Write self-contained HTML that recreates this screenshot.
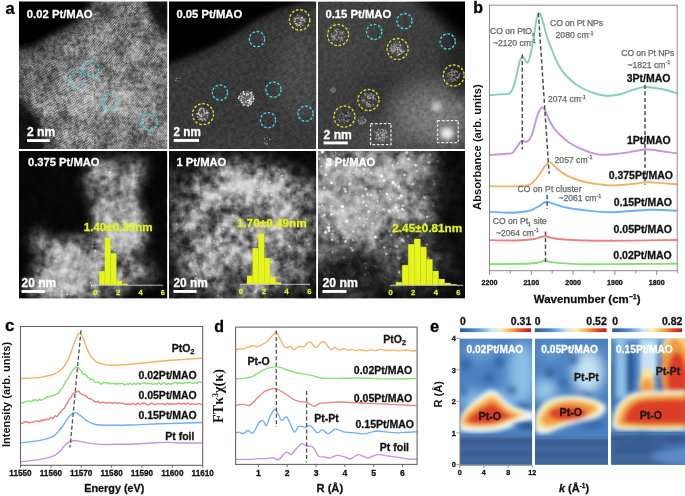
<!DOCTYPE html>
<html><head><meta charset="utf-8"><style>
html,body{margin:0;padding:0;background:#fff;}
svg{display:block;font-family:"Liberation Sans",sans-serif;will-change:transform;}
</style></head><body>
<svg width="685" height="496" viewBox="0 0 685 496">
<defs>
<clipPath id="c0"><rect x="19.0" y="1.5" width="148.3" height="147.5"/></clipPath>
<clipPath id="c1"><rect x="169.0" y="1.5" width="147.2" height="147.5"/></clipPath>
<clipPath id="c2"><rect x="318.0" y="1.5" width="147.0" height="147.5"/></clipPath>
<clipPath id="c3"><rect x="19.0" y="151.0" width="148.3" height="147.5"/></clipPath>
<clipPath id="c4"><rect x="169.0" y="151.0" width="147.2" height="147.5"/></clipPath>
<clipPath id="c5"><rect x="318.0" y="151.0" width="147.0" height="147.5"/></clipPath>
<filter id="bl1" x="-50%" y="-50%" width="200%" height="200%"><feGaussianBlur stdDeviation="1"/></filter>
<filter id="bl2" x="-50%" y="-50%" width="200%" height="200%"><feGaussianBlur stdDeviation="2"/></filter>
<filter id="bl3" x="-50%" y="-50%" width="200%" height="200%"><feGaussianBlur stdDeviation="3"/></filter>
<filter id="bl4" x="-50%" y="-50%" width="200%" height="200%"><feGaussianBlur stdDeviation="4"/></filter>
<filter id="bl6" x="-50%" y="-50%" width="200%" height="200%"><feGaussianBlur stdDeviation="6"/></filter>
<filter id="bl8" x="-50%" y="-50%" width="200%" height="200%"><feGaussianBlur stdDeviation="8"/></filter>
<filter id="bl10" x="-50%" y="-50%" width="200%" height="200%"><feGaussianBlur stdDeviation="10"/></filter>
<filter id="bl14" x="-50%" y="-50%" width="200%" height="200%"><feGaussianBlur stdDeviation="14"/></filter>
<filter id="bl0" x="-50%" y="-50%" width="200%" height="200%"><feGaussianBlur stdDeviation="0.6"/></filter>
<filter id="tcl" x="0" y="0" width="100%" height="100%" color-interpolation-filters="sRGB"><feTurbulence type="fractalNoise" baseFrequency="0.04" numOctaves="3" seed="7"/><feColorMatrix type="matrix" values="1.80 0 0 0 -0.400  1.80 0 0 0 -0.400  1.80 0 0 0 -0.400  0 0 0 0 1"/></filter>
<filter id="tcl2" x="0" y="0" width="100%" height="100%" color-interpolation-filters="sRGB"><feTurbulence type="fractalNoise" baseFrequency="0.045" numOctaves="3" seed="11"/><feColorMatrix type="matrix" values="1.80 0 0 0 -0.400  1.80 0 0 0 -0.400  1.80 0 0 0 -0.400  0 0 0 0 1"/></filter>
<filter id="tcl3" x="0" y="0" width="100%" height="100%" color-interpolation-filters="sRGB"><feTurbulence type="fractalNoise" baseFrequency="0.045" numOctaves="3" seed="23"/><feColorMatrix type="matrix" values="1.60 0 0 0 -0.300  1.60 0 0 0 -0.300  1.60 0 0 0 -0.300  0 0 0 0 1"/></filter>
<filter id="tgr" x="0" y="0" width="100%" height="100%" color-interpolation-filters="sRGB"><feTurbulence type="fractalNoise" baseFrequency="0.9" numOctaves="1" seed="5"/><feColorMatrix type="matrix" values="2.00 0 0 0 -0.500  2.00 0 0 0 -0.500  2.00 0 0 0 -0.500  0 0 0 0 1"/></filter>
<filter id="tmd" x="0" y="0" width="100%" height="100%" color-interpolation-filters="sRGB"><feTurbulence type="fractalNoise" baseFrequency="0.25" numOctaves="2" seed="9"/><feColorMatrix type="matrix" values="2.00 0 0 0 -0.500  2.00 0 0 0 -0.500  2.00 0 0 0 -0.500  0 0 0 0 1"/></filter>
<filter id="tcl4" x="0" y="0" width="100%" height="100%" color-interpolation-filters="sRGB"><feTurbulence type="fractalNoise" baseFrequency="0.07" numOctaves="3" seed="31"/><feColorMatrix type="matrix" values="1.80 0 0 0 -0.400  1.80 0 0 0 -0.400  1.80 0 0 0 -0.400  0 0 0 0 1"/></filter>
<filter id="tcm" x="0" y="0" width="100%" height="100%" color-interpolation-filters="sRGB"><feTurbulence type="fractalNoise" baseFrequency="0.13" numOctaves="3" seed="41"/><feColorMatrix type="matrix" values="1.80 0 0 0 -0.400  1.80 0 0 0 -0.400  1.80 0 0 0 -0.400  0 0 0 0 1"/></filter>
<filter id="tcm2" x="0" y="0" width="100%" height="100%" color-interpolation-filters="sRGB"><feTurbulence type="fractalNoise" baseFrequency="0.13" numOctaves="3" seed="43"/><feColorMatrix type="matrix" values="1.80 0 0 0 -0.400  1.80 0 0 0 -0.400  1.80 0 0 0 -0.400  0 0 0 0 1"/></filter>
<filter id="tcm3" x="0" y="0" width="100%" height="100%" color-interpolation-filters="sRGB"><feTurbulence type="fractalNoise" baseFrequency="0.13" numOctaves="3" seed="47"/><feColorMatrix type="matrix" values="1.80 0 0 0 -0.400  1.80 0 0 0 -0.400  1.80 0 0 0 -0.400  0 0 0 0 1"/></filter>
<pattern id="lat1" width="2.0" height="1.9" patternUnits="userSpaceOnUse" patternTransform="rotate(-52)"><rect width="2.0" height="1.9" fill="#808080"/><rect y="0" width="2.0" height="0.8" fill="#d8d8d8"/></pattern>
<pattern id="lat2" width="2.3" height="2.3" patternUnits="userSpaceOnUse" patternTransform="rotate(-30)"><rect width="2.3" height="2.3" fill="#808080"/><rect x="0" y="0" width="2.3" height="0.9" fill="#e0e0e0"/></pattern>
<pattern id="lat3" width="2.0" height="2.0" patternUnits="userSpaceOnUse" patternTransform="rotate(60)"><rect width="2" height="2" fill="#808080"/><rect x="0" y="0" width="2" height="0.8" fill="#e8e8e8"/></pattern>
<pattern id="lat4" width="1.9" height="1.9" patternUnits="userSpaceOnUse" patternTransform="rotate(-48)"><rect width="1.9" height="1.9" fill="#808080"/><rect x="0" y="0" width="1.9" height="0.75" fill="#dcdcdc"/></pattern>
<pattern id="str2" width="3.2" height="3.2" patternUnits="userSpaceOnUse" patternTransform="rotate(-27)"><rect width="3.2" height="3.2" fill="#808080"/><rect x="0" y="0" width="3.2" height="1.1" fill="#9a9a9a"/></pattern>
<linearGradient id="cb" x1="0" x2="1" y1="0" y2="0"><stop offset="0" stop-color="#2f5597"/><stop offset="0.25" stop-color="#5b95cf"/><stop offset="0.45" stop-color="#cfe6f4"/><stop offset="0.58" stop-color="#f8eeb0"/><stop offset="0.72" stop-color="#f6b14c"/><stop offset="0.86" stop-color="#e2502a"/><stop offset="1" stop-color="#b8191e"/></linearGradient>
<clipPath id="h0"><rect x="459.9" y="338.4" width="72.3" height="126.4"/></clipPath>
<clipPath id="h1"><rect x="535.0" y="338.4" width="73.0" height="126.4"/></clipPath>
<clipPath id="h2"><rect x="611.1" y="338.4" width="73.9" height="126.4"/></clipPath>
</defs>
<rect width="685" height="496" fill="#fff"/>
<text x="5.6" y="13.6" font-size="16.50" font-weight="bold" fill="#000" text-anchor="start"  stroke="#000" stroke-width="0.28">a</text>
<g clip-path="url(#c0)">
<rect x="19" y="1.5" width="148.3" height="147.5" fill="#5c5c5c"/>
<g filter="url(#bl8)">
<ellipse cx="30.0" cy="80.0" rx="12.0" ry="28.0" fill="#484848" opacity="1.00" transform="rotate(0 30.0 80.0)"/>
<ellipse cx="45.0" cy="72.0" rx="25.0" ry="12.0" fill="#464646" opacity="1.00" transform="rotate(0 45.0 72.0)"/>
<ellipse cx="132.0" cy="62.0" rx="22.0" ry="12.0" fill="#737373" opacity="1.00" transform="rotate(0 132.0 62.0)"/>
<ellipse cx="80.0" cy="48.0" rx="22.0" ry="10.0" fill="#6e6e6e" opacity="1.00" transform="rotate(0 80.0 48.0)"/>
<ellipse cx="110.0" cy="102.0" rx="52.0" ry="17.0" fill="#8c8c8c" opacity="1.00" transform="rotate(12 110.0 102.0)"/>
<ellipse cx="90.0" cy="80.0" rx="18.0" ry="10.0" fill="#767676" opacity="1.00" transform="rotate(0 90.0 80.0)"/>
<ellipse cx="150.0" cy="118.0" rx="15.0" ry="20.0" fill="#787878" opacity="1.00" transform="rotate(0 150.0 118.0)"/>
<ellipse cx="100.0" cy="140.0" rx="55.0" ry="10.0" fill="#646464" opacity="1.00" transform="rotate(0 100.0 140.0)"/>
<ellipse cx="155.0" cy="140.0" rx="12.0" ry="10.0" fill="#5f5f5f" opacity="1.00" transform="rotate(0 155.0 140.0)"/>
<ellipse cx="130.0" cy="40.0" rx="25.0" ry="8.0" fill="#555555" opacity="1.00" transform="rotate(0 130.0 40.0)"/>
</g>
<g filter="url(#bl3)">
<polygon points="10.0,-10.0 100.0,-10.0 94.0,1.0 91.0,7.0 83.5,16.0 76.0,23.5 64.0,31.0 52.0,37.0 43.0,43.0 34.0,48.5 19.0,51.0 10.0,51.0" fill="#060606" opacity="1.00"/>
<polygon points="140.0,-10.0 180.0,-10.0 180.0,38.0 168.0,37.3 159.5,31.2 153.5,23.7 147.4,10.0 143.0,1.0" fill="#080808" opacity="1.00"/>
<polygon points="10.0,97.0 22.0,99.0 31.0,108.0 38.0,120.0 44.0,135.0 48.0,155.0 10.0,155.0" fill="#0a0a0a" opacity="1.00"/>
</g>
<g filter="url(#bl6)">
<ellipse cx="100.0" cy="10.0" rx="14.0" ry="8.0" fill="#232323" opacity="0.80" transform="rotate(0 100.0 10.0)"/>
<ellipse cx="52.0" cy="135.0" rx="9.0" ry="16.0" fill="#2d2d2d" opacity="0.70" transform="rotate(0 52.0 135.0)"/>
<path d="M19,55 L36,53 L46,47 L56,41 L67,35 L79,27 L88,19 L96,10 L104,2" fill="none" stroke="#303030" stroke-width="8" opacity="0.7"/>
<path d="M96,6 L115,6 L135,4" fill="none" stroke="#303030" stroke-width="6" opacity="0.6"/>
</g>
<rect x="19.0" y="1.5" width="148.3" height="147.5" fill="url(#lat1)" opacity="0.55" style="mix-blend-mode:overlay"/>
<rect x="19" y="60" width="75" height="90" fill="url(#lat2)" opacity="0.45" style="mix-blend-mode:overlay"/>
<rect x="90" y="1.5" width="78" height="60" fill="url(#lat4)" opacity="0.45" style="mix-blend-mode:overlay"/>
<rect x="19.0" y="1.5" width="148.3" height="147.5" filter="url(#tcl4)" opacity="0.30" style="mix-blend-mode:overlay"/>
<rect x="19.0" y="1.5" width="148.3" height="147.5" filter="url(#tgr)" opacity="0.20" style="mix-blend-mode:overlay"/>
<rect x="19.0" y="1.5" width="148.3" height="147.5" filter="url(#tmd)" opacity="0.30" style="mix-blend-mode:overlay"/>
</g>
<circle cx="91.0" cy="68.6" r="7.8" fill="none" stroke="#3fd6dc" stroke-width="1.35" stroke-dasharray="2.7,1.7"/>
<circle cx="76.7" cy="79.7" r="7.8" fill="none" stroke="#3fd6dc" stroke-width="1.35" stroke-dasharray="2.7,1.7"/>
<circle cx="110.0" cy="102.2" r="7.8" fill="none" stroke="#3fd6dc" stroke-width="1.35" stroke-dasharray="2.7,1.7"/>
<circle cx="149.6" cy="122.0" r="7.8" fill="none" stroke="#3fd6dc" stroke-width="1.35" stroke-dasharray="2.7,1.7"/>
<g clip-path="url(#c1)">
<rect x="169" y="1.5" width="147.2" height="147.5" fill="#363636"/>
<g filter="url(#bl8)">
<ellipse cx="300.0" cy="75.0" rx="25.0" ry="45.0" fill="#444444" opacity="1.00" transform="rotate(0 300.0 75.0)"/>
<ellipse cx="180.0" cy="125.0" rx="20.0" ry="30.0" fill="#363636" opacity="1.00" transform="rotate(0 180.0 125.0)"/>
<ellipse cx="240.0" cy="145.0" rx="40.0" ry="10.0" fill="#3a3a3a" opacity="1.00" transform="rotate(0 240.0 145.0)"/>
</g>
<g filter="url(#bl2)">
<path d="M169,64.5 L190.9,57 L212.8,47.2 L234.7,35.1 L256.6,21 L278.5,10 L300.4,3.5 L319,0" fill="none" stroke="#6a6a6a" stroke-width="4"/>
</g><g filter="url(#bl4)">
<path d="M169,58 L190.9,50 L212.8,40 L234.7,28 L256.6,14 L278.5,3 L300.4,-3" fill="none" stroke="#2a2a2a" stroke-width="7"/>
<polygon points="160.0,-10.0 330.0,-10.0 330.0,1.0 319.0,2.0 300.4,5.4 289.4,8.7 278.5,12.0 267.5,17.4 256.6,22.9 245.6,30.6 234.7,37.1 212.8,49.2 190.9,59.0 169.0,66.7 160.0,66.7" fill="#040404" opacity="1.00"/>
</g>
<rect x="169.0" y="1.5" width="147.2" height="147.5" fill="url(#str2)" opacity="0.50" style="mix-blend-mode:overlay"/>
<rect x="169.0" y="1.5" width="147.2" height="147.5" filter="url(#tgr)" opacity="0.10" style="mix-blend-mode:overlay"/>
<rect x="169.0" y="1.5" width="147.2" height="147.5" filter="url(#tmd)" opacity="0.15" style="mix-blend-mode:overlay"/>
<g filter="url(#bl0)">
<ellipse cx="246.5" cy="98.2" rx="7.2" ry="7.6" fill="#828282" opacity="0.55" transform="rotate(0 246.5 98.2)"/>
<circle cx="251.4" cy="103.7" r="0.81" fill="#c4c4c4"/>
<circle cx="251.6" cy="102.9" r="0.69" fill="#cccccc"/>
<circle cx="247.1" cy="95.8" r="0.51" fill="#e9e9e9"/>
<circle cx="241.7" cy="102.2" r="0.81" fill="#e0e0e0"/>
<circle cx="240.1" cy="100.5" r="0.59" fill="#f0f0f0"/>
<circle cx="250.1" cy="100.9" r="0.51" fill="#dddddd"/>
<circle cx="239.0" cy="96.2" r="0.65" fill="#c1c1c1"/>
<circle cx="253.2" cy="96.9" r="0.71" fill="#e4e4e4"/>
<circle cx="241.3" cy="100.3" r="0.59" fill="#c2c2c2"/>
<circle cx="243.4" cy="91.9" r="0.88" fill="#efefef"/>
<circle cx="253.8" cy="99.2" r="0.72" fill="#dddddd"/>
<circle cx="251.6" cy="101.9" r="0.79" fill="#c6c6c6"/>
<circle cx="249.8" cy="101.4" r="0.79" fill="#e1e1e1"/>
<circle cx="238.6" cy="98.2" r="0.70" fill="#eeeeee"/>
<circle cx="244.4" cy="94.3" r="0.74" fill="#ececec"/>
<circle cx="238.7" cy="98.2" r="0.66" fill="#eaeaea"/>
<circle cx="250.3" cy="99.0" r="0.82" fill="#cecece"/>
<circle cx="244.0" cy="94.0" r="0.85" fill="#e5e5e5"/>
<circle cx="244.3" cy="93.8" r="0.68" fill="#d4d4d4"/>
<circle cx="249.0" cy="100.2" r="0.84" fill="#cbcbcb"/>
<circle cx="245.1" cy="98.3" r="0.52" fill="#e1e1e1"/>
<circle cx="250.1" cy="93.1" r="0.73" fill="#dddddd"/>
<circle cx="249.2" cy="103.2" r="0.89" fill="#e5e5e5"/>
<circle cx="248.9" cy="105.5" r="0.72" fill="#cdcdcd"/>
<circle cx="238.7" cy="97.5" r="0.73" fill="#d1d1d1"/>
<circle cx="252.0" cy="94.7" r="0.74" fill="#e2e2e2"/>
<circle cx="253.6" cy="98.5" r="0.83" fill="#ececec"/>
<circle cx="251.8" cy="96.0" r="0.55" fill="#e5e5e5"/>
<circle cx="241.7" cy="96.2" r="0.52" fill="#ebebeb"/>
<circle cx="242.6" cy="102.7" r="0.88" fill="#cecece"/>
<circle cx="241.7" cy="98.7" r="0.64" fill="#d6d6d6"/>
<circle cx="239.6" cy="96.4" r="0.63" fill="#dadada"/>
<circle cx="250.3" cy="98.9" r="0.57" fill="#d9d9d9"/>
<circle cx="247.5" cy="100.4" r="0.72" fill="#eaeaea"/>
<circle cx="248.1" cy="94.5" r="0.84" fill="#dfdfdf"/>
<circle cx="253.2" cy="101.4" r="0.68" fill="#e4e4e4"/>
<circle cx="246.6" cy="94.2" r="0.54" fill="#dbdbdb"/>
<circle cx="248.2" cy="102.2" r="0.57" fill="#c4c4c4"/>
<circle cx="243.3" cy="97.6" r="0.61" fill="#e1e1e1"/>
<circle cx="244.7" cy="104.6" r="0.70" fill="#bbbbbb"/>
<circle cx="251.4" cy="98.9" r="0.67" fill="#c0c0c0"/>
<circle cx="246.3" cy="102.2" r="0.79" fill="#c1c1c1"/>
<circle cx="251.6" cy="97.1" r="0.89" fill="#c2c2c2"/>
<circle cx="249.5" cy="98.5" r="0.79" fill="#bebebe"/>
<circle cx="241.1" cy="100.1" r="0.67" fill="#e9e9e9"/>
<circle cx="248.0" cy="106.0" r="0.82" fill="#d5d5d5"/>
<circle cx="241.0" cy="100.0" r="0.51" fill="#dfdfdf"/>
<circle cx="242.5" cy="96.1" r="0.75" fill="#b7b7b7"/>
<circle cx="246.3" cy="95.4" r="0.58" fill="#b7b7b7"/>
<circle cx="243.9" cy="105.2" r="0.62" fill="#f0f0f0"/>
<circle cx="245.6" cy="101.2" r="0.73" fill="#bcbcbc"/>
<circle cx="254.0" cy="98.6" r="0.52" fill="#e8e8e8"/>
<circle cx="248.0" cy="105.6" r="0.68" fill="#e8e8e8"/>
<circle cx="251.8" cy="92.4" r="0.78" fill="#d4d4d4"/>
<circle cx="250.0" cy="99.0" r="0.54" fill="#d8d8d8"/>
<circle cx="244.1" cy="93.5" r="0.58" fill="#bababa"/>
<circle cx="251.1" cy="96.3" r="0.70" fill="#b5b5b5"/>
<circle cx="243.1" cy="104.8" r="0.86" fill="#b5b5b5"/>
<circle cx="250.6" cy="104.4" r="0.82" fill="#d8d8d8"/>
<circle cx="247.4" cy="93.6" r="0.59" fill="#dfdfdf"/>
<circle cx="250.6" cy="101.0" r="0.72" fill="#eeeeee"/>
<circle cx="251.4" cy="93.7" r="0.69" fill="#d6d6d6"/>
<circle cx="247.2" cy="105.0" r="0.53" fill="#bebebe"/>
<circle cx="249.4" cy="103.3" r="0.61" fill="#c9c9c9"/>
<circle cx="240.6" cy="93.9" r="0.65" fill="#c9c9c9"/>
<circle cx="249.4" cy="100.7" r="0.88" fill="#e5e5e5"/>
<circle cx="253.7" cy="96.1" r="0.55" fill="#d7d7d7"/>
<circle cx="247.1" cy="93.7" r="0.66" fill="#cccccc"/>
<circle cx="251.2" cy="92.9" r="0.83" fill="#c9c9c9"/>
<circle cx="251.1" cy="102.2" r="0.87" fill="#b8b8b8"/>
</g>
<g filter="url(#bl0)">
<ellipse cx="203.0" cy="114.5" rx="5.9" ry="6.2" fill="#646464" opacity="0.55" transform="rotate(0 203.0 114.5)"/>
<circle cx="209.1" cy="112.8" r="0.52" fill="#9b9b9b"/>
<circle cx="201.3" cy="116.5" r="0.82" fill="#cccccc"/>
<circle cx="201.2" cy="119.2" r="0.74" fill="#bbbbbb"/>
<circle cx="200.3" cy="108.6" r="0.76" fill="#c9c9c9"/>
<circle cx="201.9" cy="108.1" r="0.88" fill="#b8b8b8"/>
<circle cx="207.2" cy="112.7" r="0.86" fill="#cdcdcd"/>
<circle cx="207.4" cy="115.3" r="0.63" fill="#aeaeae"/>
<circle cx="197.6" cy="117.3" r="0.57" fill="#a1a1a1"/>
<circle cx="203.1" cy="115.5" r="0.63" fill="#9e9e9e"/>
<circle cx="199.1" cy="114.3" r="0.71" fill="#b9b9b9"/>
<circle cx="205.6" cy="120.1" r="0.82" fill="#c5c5c5"/>
<circle cx="196.9" cy="113.5" r="0.65" fill="#bbbbbb"/>
<circle cx="199.1" cy="119.6" r="0.88" fill="#a0a0a0"/>
<circle cx="206.9" cy="113.4" r="0.80" fill="#bfbfbf"/>
<circle cx="198.5" cy="113.6" r="0.87" fill="#b6b6b6"/>
<circle cx="197.2" cy="113.9" r="0.76" fill="#b3b3b3"/>
<circle cx="206.6" cy="111.9" r="0.73" fill="#d0d0d0"/>
<circle cx="198.9" cy="112.9" r="0.76" fill="#d2d2d2"/>
<circle cx="200.5" cy="119.3" r="0.57" fill="#d0d0d0"/>
<circle cx="198.7" cy="110.7" r="0.69" fill="#a9a9a9"/>
<circle cx="208.3" cy="113.1" r="0.70" fill="#b7b7b7"/>
<circle cx="197.9" cy="114.3" r="0.66" fill="#c4c4c4"/>
<circle cx="204.2" cy="119.0" r="0.87" fill="#bdbdbd"/>
<circle cx="207.2" cy="110.6" r="0.64" fill="#969696"/>
<circle cx="205.4" cy="112.9" r="0.80" fill="#999999"/>
<circle cx="201.7" cy="113.9" r="0.74" fill="#c1c1c1"/>
<circle cx="204.5" cy="113.0" r="0.71" fill="#cccccc"/>
<circle cx="202.4" cy="120.4" r="0.88" fill="#999999"/>
<circle cx="198.1" cy="117.1" r="0.51" fill="#adadad"/>
<circle cx="200.9" cy="117.0" r="0.51" fill="#9d9d9d"/>
<circle cx="204.0" cy="114.2" r="0.79" fill="#979797"/>
<circle cx="201.4" cy="116.2" r="0.87" fill="#c5c5c5"/>
<circle cx="205.2" cy="119.4" r="0.65" fill="#989898"/>
<circle cx="203.9" cy="111.4" r="0.89" fill="#969696"/>
<circle cx="200.2" cy="118.7" r="0.80" fill="#9d9d9d"/>
<circle cx="202.0" cy="118.9" r="0.62" fill="#b9b9b9"/>
<circle cx="203.6" cy="108.9" r="0.86" fill="#c6c6c6"/>
<circle cx="198.8" cy="117.5" r="0.56" fill="#a4a4a4"/>
<circle cx="207.5" cy="117.5" r="0.84" fill="#979797"/>
<circle cx="197.2" cy="116.5" r="0.55" fill="#bbbbbb"/>
<circle cx="203.9" cy="110.1" r="0.63" fill="#cdcdcd"/>
<circle cx="206.2" cy="113.7" r="0.74" fill="#b0b0b0"/>
<circle cx="199.9" cy="110.0" r="0.88" fill="#c0c0c0"/>
<circle cx="204.1" cy="114.9" r="0.56" fill="#9c9c9c"/>
<circle cx="200.0" cy="115.4" r="0.87" fill="#c3c3c3"/>
</g>
<g filter="url(#bl0)">
<ellipse cx="299.6" cy="20.5" rx="5.4" ry="5.7" fill="#5f5f5f" opacity="0.55" transform="rotate(0 299.6 20.5)"/>
<circle cx="299.9" cy="24.9" r="0.65" fill="#b7b7b7"/>
<circle cx="295.1" cy="21.2" r="0.74" fill="#cbcbcb"/>
<circle cx="301.2" cy="17.9" r="0.59" fill="#bebebe"/>
<circle cx="294.2" cy="21.5" r="0.69" fill="#b9b9b9"/>
<circle cx="301.5" cy="18.3" r="0.56" fill="#cccccc"/>
<circle cx="294.5" cy="19.8" r="0.77" fill="#959595"/>
<circle cx="302.8" cy="25.4" r="0.52" fill="#c2c2c2"/>
<circle cx="305.1" cy="21.6" r="0.69" fill="#bfbfbf"/>
<circle cx="302.9" cy="18.7" r="0.82" fill="#acacac"/>
<circle cx="295.4" cy="23.8" r="0.68" fill="#cccccc"/>
<circle cx="302.0" cy="23.2" r="0.51" fill="#b0b0b0"/>
<circle cx="300.8" cy="26.3" r="0.67" fill="#b9b9b9"/>
<circle cx="302.0" cy="17.4" r="0.83" fill="#b5b5b5"/>
<circle cx="296.9" cy="24.2" r="0.73" fill="#cacaca"/>
<circle cx="296.6" cy="25.4" r="0.51" fill="#a2a2a2"/>
<circle cx="304.5" cy="20.2" r="0.57" fill="#c8c8c8"/>
<circle cx="297.6" cy="24.4" r="0.73" fill="#979797"/>
<circle cx="299.0" cy="17.8" r="0.83" fill="#b5b5b5"/>
<circle cx="299.4" cy="22.6" r="0.69" fill="#b9b9b9"/>
<circle cx="301.4" cy="20.4" r="0.82" fill="#ababab"/>
<circle cx="300.3" cy="20.0" r="0.67" fill="#ababab"/>
<circle cx="300.5" cy="19.6" r="0.75" fill="#939393"/>
<circle cx="296.3" cy="23.7" r="0.72" fill="#cccccc"/>
<circle cx="303.8" cy="20.0" r="0.90" fill="#a4a4a4"/>
<circle cx="301.6" cy="20.6" r="0.71" fill="#cdcdcd"/>
<circle cx="300.8" cy="24.1" r="0.74" fill="#9a9a9a"/>
<circle cx="297.4" cy="15.0" r="0.64" fill="#a8a8a8"/>
<circle cx="305.1" cy="19.0" r="0.65" fill="#aeaeae"/>
<circle cx="302.2" cy="17.8" r="0.85" fill="#bcbcbc"/>
<circle cx="295.2" cy="18.8" r="0.88" fill="#b1b1b1"/>
<circle cx="299.0" cy="25.2" r="0.79" fill="#cccccc"/>
<circle cx="297.7" cy="26.1" r="0.71" fill="#b4b4b4"/>
<circle cx="296.8" cy="25.0" r="0.89" fill="#a5a5a5"/>
<circle cx="304.3" cy="21.1" r="0.75" fill="#949494"/>
<circle cx="297.3" cy="17.9" r="0.64" fill="#cbcbcb"/>
<circle cx="296.6" cy="24.5" r="0.80" fill="#929292"/>
<circle cx="294.6" cy="17.4" r="0.51" fill="#a8a8a8"/>
<circle cx="299.6" cy="24.6" r="0.74" fill="#a5a5a5"/>
<circle cx="300.7" cy="22.8" r="0.80" fill="#c7c7c7"/>
<circle cx="296.9" cy="18.6" r="0.65" fill="#c2c2c2"/>
</g>
<g filter="url(#bl0)">
<ellipse cx="266.6" cy="140.6" rx="3.1" ry="3.3" fill="#282828" opacity="0.55" transform="rotate(0 266.6 140.6)"/>
<circle cx="266.7" cy="141.7" r="0.66" fill="#636363"/>
<circle cx="267.0" cy="140.9" r="0.72" fill="#6c6c6c"/>
<circle cx="267.6" cy="137.7" r="0.59" fill="#7c7c7c"/>
<circle cx="264.6" cy="143.0" r="0.83" fill="#6a6a6a"/>
<circle cx="267.3" cy="143.9" r="0.83" fill="#8d8d8d"/>
<circle cx="266.5" cy="142.4" r="0.57" fill="#6c6c6c"/>
<circle cx="264.5" cy="138.5" r="0.84" fill="#929292"/>
<circle cx="264.4" cy="142.9" r="0.63" fill="#727272"/>
<circle cx="265.1" cy="140.5" r="0.69" fill="#5f5f5f"/>
<circle cx="269.6" cy="139.5" r="0.88" fill="#8f8f8f"/>
<circle cx="265.6" cy="143.8" r="0.73" fill="#929292"/>
<circle cx="265.4" cy="143.4" r="0.58" fill="#757575"/>
</g>
<g filter="url(#bl0)">
<ellipse cx="178.0" cy="80.0" rx="2.2" ry="2.4" fill="#1e1e1e" opacity="0.55" transform="rotate(0 178.0 80.0)"/>
<circle cx="176.5" cy="78.5" r="0.82" fill="#8c8c8c"/>
<circle cx="179.1" cy="78.3" r="0.71" fill="#858585"/>
<circle cx="175.6" cy="80.5" r="0.76" fill="#898989"/>
<circle cx="178.8" cy="81.3" r="0.85" fill="#686868"/>
<circle cx="176.2" cy="79.5" r="0.51" fill="#5d5d5d"/>
<circle cx="177.1" cy="80.6" r="0.85" fill="#686868"/>
</g>
</g>
<circle cx="299.6" cy="19.9" r="10.2" fill="none" stroke="#dcdc28" stroke-width="1.35" stroke-dasharray="2.7,1.7"/>
<circle cx="203.0" cy="114.2" r="10.5" fill="none" stroke="#dcdc28" stroke-width="1.35" stroke-dasharray="2.7,1.7"/>
<circle cx="257.0" cy="39.1" r="7.6" fill="none" stroke="#3fd6dc" stroke-width="1.35" stroke-dasharray="2.7,1.7"/>
<circle cx="220.0" cy="92.6" r="7.6" fill="none" stroke="#3fd6dc" stroke-width="1.35" stroke-dasharray="2.7,1.7"/>
<circle cx="273.5" cy="89.6" r="7.6" fill="none" stroke="#3fd6dc" stroke-width="1.35" stroke-dasharray="2.7,1.7"/>
<circle cx="268.0" cy="120.2" r="7.6" fill="none" stroke="#3fd6dc" stroke-width="1.35" stroke-dasharray="2.7,1.7"/>
<circle cx="305.6" cy="113.6" r="7.6" fill="none" stroke="#3fd6dc" stroke-width="1.35" stroke-dasharray="2.7,1.7"/>
<g clip-path="url(#c2)">
<rect x="318" y="1.5" width="147" height="147.5" fill="#3e3e3e"/>
<g filter="url(#bl10)">
<ellipse cx="340.0" cy="40.0" rx="30.0" ry="40.0" fill="#424242" opacity="1.00" transform="rotate(0 340.0 40.0)"/>
<ellipse cx="385.0" cy="95.0" rx="35.0" ry="22.0" fill="#303030" opacity="1.00" transform="rotate(0 385.0 95.0)"/>
<ellipse cx="345.0" cy="105.0" rx="20.0" ry="25.0" fill="#3e3e3e" opacity="1.00" transform="rotate(0 345.0 105.0)"/>
<ellipse cx="430.0" cy="112.0" rx="38.0" ry="28.0" fill="#707070" opacity="1.00" transform="rotate(0 430.0 112.0)"/>
<ellipse cx="440.0" cy="128.0" rx="28.0" ry="18.0" fill="#7e7e7e" opacity="1.00" transform="rotate(0 440.0 128.0)"/>
<ellipse cx="395.0" cy="140.0" rx="40.0" ry="10.0" fill="#585858" opacity="1.00" transform="rotate(0 395.0 140.0)"/>
<ellipse cx="455.0" cy="55.0" rx="14.0" ry="25.0" fill="#262626" opacity="1.00" transform="rotate(0 455.0 55.0)"/>
</g>
<g filter="url(#bl6)">
<polygon points="405.0,-10.0 480.0,-10.0 480.0,45.0 466.0,42.0 455.0,35.0 445.0,25.0 435.0,15.0 425.0,5.0" fill="#060606" opacity="1.00"/>
<ellipse cx="460.0" cy="70.0" rx="10.0" ry="25.0" fill="#232323" opacity="1.00" transform="rotate(0 460.0 70.0)"/>
</g>
<rect x="318.0" y="1.5" width="147.0" height="147.5" filter="url(#tgr)" opacity="0.10" style="mix-blend-mode:overlay"/>
<rect x="318.0" y="1.5" width="147.0" height="147.5" filter="url(#tmd)" opacity="0.12" style="mix-blend-mode:overlay"/>
<g filter="url(#bl0)">
<ellipse cx="338.1" cy="35.0" rx="6.3" ry="6.6" fill="#464646" opacity="0.55" transform="rotate(0 338.1 35.0)"/>
<circle cx="334.0" cy="33.0" r="0.73" fill="#858585"/>
<circle cx="333.3" cy="36.1" r="0.61" fill="#ababab"/>
<circle cx="340.8" cy="39.3" r="0.63" fill="#878787"/>
<circle cx="343.9" cy="33.2" r="0.64" fill="#929292"/>
<circle cx="341.6" cy="30.8" r="0.65" fill="#8a8a8a"/>
<circle cx="339.8" cy="31.8" r="0.57" fill="#8b8b8b"/>
<circle cx="336.8" cy="32.8" r="0.81" fill="#878787"/>
<circle cx="343.5" cy="34.0" r="0.52" fill="#787878"/>
<circle cx="338.4" cy="38.1" r="0.86" fill="#9a9a9a"/>
<circle cx="333.7" cy="39.9" r="0.63" fill="#9b9b9b"/>
<circle cx="333.5" cy="36.5" r="0.76" fill="#8c8c8c"/>
<circle cx="339.6" cy="32.7" r="0.59" fill="#929292"/>
<circle cx="338.2" cy="36.2" r="0.62" fill="#9e9e9e"/>
<circle cx="335.3" cy="30.7" r="0.84" fill="#818181"/>
<circle cx="333.0" cy="39.5" r="0.87" fill="#818181"/>
<circle cx="342.8" cy="39.0" r="0.54" fill="#828282"/>
<circle cx="341.1" cy="34.7" r="0.64" fill="#929292"/>
<circle cx="332.7" cy="36.9" r="0.56" fill="#999999"/>
<circle cx="339.2" cy="37.2" r="0.68" fill="#828282"/>
<circle cx="334.5" cy="29.3" r="0.57" fill="#838383"/>
<circle cx="334.0" cy="35.5" r="0.67" fill="#787878"/>
<circle cx="336.7" cy="34.6" r="0.86" fill="#878787"/>
<circle cx="342.2" cy="37.3" r="0.73" fill="#909090"/>
<circle cx="342.4" cy="32.6" r="0.86" fill="#a7a7a7"/>
<circle cx="331.5" cy="33.9" r="0.71" fill="#9e9e9e"/>
<circle cx="335.2" cy="35.0" r="0.77" fill="#b1b1b1"/>
<circle cx="334.4" cy="37.6" r="0.73" fill="#9a9a9a"/>
<circle cx="333.6" cy="38.8" r="0.72" fill="#7e7e7e"/>
<circle cx="342.5" cy="34.1" r="0.51" fill="#787878"/>
<circle cx="336.4" cy="35.7" r="0.64" fill="#818181"/>
<circle cx="341.8" cy="38.0" r="0.90" fill="#979797"/>
<circle cx="342.3" cy="40.0" r="0.81" fill="#b3b3b3"/>
<circle cx="332.5" cy="36.9" r="0.86" fill="#a4a4a4"/>
<circle cx="334.2" cy="36.0" r="0.71" fill="#999999"/>
<circle cx="340.0" cy="37.8" r="0.75" fill="#a3a3a3"/>
<circle cx="340.3" cy="41.3" r="0.73" fill="#a0a0a0"/>
<circle cx="331.9" cy="35.8" r="0.88" fill="#939393"/>
<circle cx="340.2" cy="32.2" r="0.62" fill="#7d7d7d"/>
<circle cx="344.5" cy="36.9" r="0.81" fill="#7e7e7e"/>
<circle cx="341.8" cy="34.6" r="0.77" fill="#818181"/>
<circle cx="335.3" cy="38.4" r="0.81" fill="#8e8e8e"/>
<circle cx="340.3" cy="39.9" r="0.67" fill="#7e7e7e"/>
<circle cx="336.5" cy="31.4" r="0.88" fill="#afafaf"/>
<circle cx="337.9" cy="29.2" r="0.71" fill="#939393"/>
<circle cx="332.4" cy="37.0" r="0.58" fill="#9e9e9e"/>
<circle cx="334.5" cy="39.2" r="0.75" fill="#858585"/>
<circle cx="334.1" cy="37.1" r="0.65" fill="#ababab"/>
<circle cx="337.0" cy="33.5" r="0.67" fill="#7d7d7d"/>
<circle cx="339.9" cy="31.3" r="0.64" fill="#939393"/>
<circle cx="338.4" cy="29.5" r="0.61" fill="#a4a4a4"/>
<circle cx="336.7" cy="39.8" r="0.86" fill="#919191"/>
<circle cx="334.3" cy="36.5" r="0.79" fill="#969696"/>
<circle cx="343.5" cy="31.4" r="0.73" fill="#7d7d7d"/>
<circle cx="335.9" cy="29.5" r="0.82" fill="#919191"/>
<circle cx="340.5" cy="33.5" r="0.74" fill="#929292"/>
</g>
<g filter="url(#bl0)">
<ellipse cx="397.6" cy="49.0" rx="6.8" ry="7.1" fill="#5a5a5a" opacity="0.55" transform="rotate(0 397.6 49.0)"/>
<circle cx="392.2" cy="50.7" r="0.87" fill="#a9a9a9"/>
<circle cx="391.0" cy="51.1" r="0.58" fill="#bfbfbf"/>
<circle cx="391.7" cy="48.6" r="0.82" fill="#929292"/>
<circle cx="394.9" cy="49.9" r="0.72" fill="#c4c4c4"/>
<circle cx="397.1" cy="47.6" r="0.89" fill="#a8a8a8"/>
<circle cx="394.3" cy="44.2" r="0.56" fill="#8c8c8c"/>
<circle cx="398.5" cy="47.4" r="0.51" fill="#c4c4c4"/>
<circle cx="397.7" cy="50.3" r="0.69" fill="#a8a8a8"/>
<circle cx="394.8" cy="47.2" r="0.59" fill="#9e9e9e"/>
<circle cx="391.5" cy="49.0" r="0.68" fill="#9d9d9d"/>
<circle cx="393.0" cy="52.1" r="0.87" fill="#919191"/>
<circle cx="396.5" cy="44.9" r="0.59" fill="#9e9e9e"/>
<circle cx="403.1" cy="50.0" r="0.54" fill="#929292"/>
<circle cx="400.3" cy="45.2" r="0.88" fill="#c2c2c2"/>
<circle cx="396.2" cy="45.8" r="0.87" fill="#8f8f8f"/>
<circle cx="390.3" cy="50.4" r="0.66" fill="#909090"/>
<circle cx="394.5" cy="47.6" r="0.77" fill="#a1a1a1"/>
<circle cx="401.3" cy="51.3" r="0.89" fill="#bcbcbc"/>
<circle cx="400.0" cy="47.7" r="0.78" fill="#8c8c8c"/>
<circle cx="403.8" cy="51.5" r="0.57" fill="#afafaf"/>
<circle cx="399.6" cy="54.0" r="0.89" fill="#bdbdbd"/>
<circle cx="401.7" cy="53.4" r="0.55" fill="#a6a6a6"/>
<circle cx="397.8" cy="49.0" r="0.85" fill="#bfbfbf"/>
<circle cx="391.3" cy="44.9" r="0.51" fill="#979797"/>
<circle cx="392.1" cy="53.3" r="0.76" fill="#929292"/>
<circle cx="400.4" cy="49.8" r="0.68" fill="#8c8c8c"/>
<circle cx="398.2" cy="44.7" r="0.62" fill="#909090"/>
<circle cx="400.7" cy="50.5" r="0.75" fill="#8c8c8c"/>
<circle cx="393.9" cy="46.3" r="0.68" fill="#b1b1b1"/>
<circle cx="391.9" cy="49.6" r="0.85" fill="#979797"/>
<circle cx="394.7" cy="46.0" r="0.59" fill="#b3b3b3"/>
<circle cx="397.6" cy="52.3" r="0.80" fill="#c8c8c8"/>
<circle cx="391.7" cy="46.9" r="0.66" fill="#aaaaaa"/>
<circle cx="393.7" cy="46.1" r="0.54" fill="#8e8e8e"/>
<circle cx="393.8" cy="48.7" r="0.80" fill="#a5a5a5"/>
<circle cx="397.3" cy="55.8" r="0.74" fill="#9e9e9e"/>
<circle cx="390.4" cy="48.1" r="0.89" fill="#949494"/>
<circle cx="398.4" cy="54.6" r="0.84" fill="#b3b3b3"/>
<circle cx="400.7" cy="50.6" r="0.87" fill="#bbbbbb"/>
<circle cx="401.5" cy="49.4" r="0.68" fill="#8f8f8f"/>
<circle cx="401.4" cy="50.1" r="0.71" fill="#949494"/>
<circle cx="399.9" cy="50.5" r="0.68" fill="#a1a1a1"/>
<circle cx="394.2" cy="43.8" r="0.73" fill="#949494"/>
<circle cx="391.5" cy="45.1" r="0.69" fill="#a2a2a2"/>
<circle cx="395.4" cy="42.0" r="0.51" fill="#b4b4b4"/>
<circle cx="399.3" cy="49.9" r="0.62" fill="#949494"/>
<circle cx="399.7" cy="49.0" r="0.72" fill="#bbbbbb"/>
<circle cx="404.6" cy="51.0" r="0.79" fill="#949494"/>
<circle cx="399.5" cy="42.1" r="0.64" fill="#b7b7b7"/>
<circle cx="395.5" cy="49.3" r="0.84" fill="#c8c8c8"/>
<circle cx="399.4" cy="42.3" r="0.73" fill="#b3b3b3"/>
<circle cx="395.2" cy="45.1" r="0.50" fill="#909090"/>
<circle cx="402.9" cy="51.9" r="0.90" fill="#c4c4c4"/>
<circle cx="393.9" cy="51.2" r="0.87" fill="#b8b8b8"/>
<circle cx="393.3" cy="46.6" r="0.84" fill="#919191"/>
</g>
<g filter="url(#bl0)">
<ellipse cx="453.7" cy="75.5" rx="5.9" ry="6.2" fill="#373737" opacity="0.55" transform="rotate(0 453.7 75.5)"/>
<circle cx="448.5" cy="76.3" r="0.77" fill="#727272"/>
<circle cx="448.9" cy="79.9" r="0.69" fill="#929292"/>
<circle cx="455.7" cy="70.5" r="0.74" fill="#8c8c8c"/>
<circle cx="458.8" cy="75.6" r="0.89" fill="#808080"/>
<circle cx="456.9" cy="80.8" r="0.52" fill="#9d9d9d"/>
<circle cx="455.1" cy="79.9" r="0.83" fill="#949494"/>
<circle cx="448.8" cy="78.9" r="0.51" fill="#6c6c6c"/>
<circle cx="455.9" cy="70.7" r="0.59" fill="#848484"/>
<circle cx="455.8" cy="74.8" r="0.67" fill="#717171"/>
<circle cx="447.8" cy="74.0" r="0.72" fill="#959595"/>
<circle cx="457.3" cy="72.3" r="0.70" fill="#6e6e6e"/>
<circle cx="450.3" cy="78.0" r="0.74" fill="#878787"/>
<circle cx="450.0" cy="72.5" r="0.76" fill="#6e6e6e"/>
<circle cx="460.0" cy="74.2" r="0.77" fill="#7f7f7f"/>
<circle cx="459.3" cy="73.3" r="0.65" fill="#7c7c7c"/>
<circle cx="456.1" cy="77.6" r="0.65" fill="#898989"/>
<circle cx="448.6" cy="73.0" r="0.57" fill="#818181"/>
<circle cx="455.6" cy="71.7" r="0.71" fill="#777777"/>
<circle cx="453.1" cy="74.3" r="0.58" fill="#8f8f8f"/>
<circle cx="457.6" cy="78.4" r="0.57" fill="#959595"/>
<circle cx="453.1" cy="79.7" r="0.70" fill="#8f8f8f"/>
<circle cx="452.7" cy="74.4" r="0.68" fill="#767676"/>
<circle cx="451.4" cy="79.2" r="0.78" fill="#9f9f9f"/>
<circle cx="447.4" cy="76.3" r="0.57" fill="#a4a4a4"/>
<circle cx="451.1" cy="74.7" r="0.81" fill="#777777"/>
<circle cx="454.2" cy="75.2" r="0.61" fill="#9a9a9a"/>
<circle cx="454.6" cy="72.9" r="0.82" fill="#898989"/>
<circle cx="458.7" cy="76.8" r="0.89" fill="#8b8b8b"/>
<circle cx="452.7" cy="75.5" r="0.63" fill="#9b9b9b"/>
<circle cx="452.0" cy="72.5" r="0.55" fill="#9b9b9b"/>
<circle cx="449.3" cy="74.7" r="0.75" fill="#797979"/>
<circle cx="452.0" cy="71.5" r="0.80" fill="#858585"/>
<circle cx="452.1" cy="81.4" r="0.61" fill="#a5a5a5"/>
<circle cx="457.1" cy="71.5" r="0.68" fill="#9b9b9b"/>
<circle cx="454.5" cy="78.9" r="0.60" fill="#949494"/>
<circle cx="454.8" cy="75.5" r="0.72" fill="#7a7a7a"/>
<circle cx="450.9" cy="77.0" r="0.67" fill="#6c6c6c"/>
<circle cx="448.9" cy="73.6" r="0.87" fill="#797979"/>
<circle cx="454.0" cy="71.3" r="0.74" fill="#a2a2a2"/>
<circle cx="451.3" cy="77.1" r="0.72" fill="#808080"/>
<circle cx="451.1" cy="72.4" r="0.56" fill="#959595"/>
<circle cx="452.2" cy="69.5" r="0.82" fill="#a2a2a2"/>
<circle cx="457.5" cy="77.4" r="0.58" fill="#a4a4a4"/>
<circle cx="452.2" cy="76.9" r="0.64" fill="#7c7c7c"/>
<circle cx="452.9" cy="81.2" r="0.77" fill="#888888"/>
<circle cx="452.0" cy="73.9" r="0.71" fill="#959595"/>
<circle cx="451.6" cy="71.0" r="0.53" fill="#7f7f7f"/>
<circle cx="451.3" cy="80.3" r="0.56" fill="#6e6e6e"/>
<circle cx="453.0" cy="71.9" r="0.57" fill="#949494"/>
<circle cx="450.3" cy="70.2" r="0.65" fill="#6a6a6a"/>
<circle cx="455.0" cy="80.5" r="0.69" fill="#6c6c6c"/>
<circle cx="451.8" cy="72.2" r="0.60" fill="#7d7d7d"/>
<circle cx="456.2" cy="77.3" r="0.89" fill="#808080"/>
<circle cx="453.2" cy="78.4" r="0.67" fill="#777777"/>
<circle cx="451.2" cy="75.2" r="0.86" fill="#7e7e7e"/>
</g>
<g filter="url(#bl0)">
<ellipse cx="368.5" cy="100.0" rx="6.8" ry="7.1" fill="#4b4b4b" opacity="0.55" transform="rotate(0 368.5 100.0)"/>
<circle cx="368.1" cy="106.2" r="0.77" fill="#b3b3b3"/>
<circle cx="373.2" cy="96.1" r="0.77" fill="#b4b4b4"/>
<circle cx="369.5" cy="106.3" r="0.55" fill="#9f9f9f"/>
<circle cx="372.2" cy="94.7" r="0.51" fill="#858585"/>
<circle cx="371.6" cy="95.0" r="0.51" fill="#8e8e8e"/>
<circle cx="369.6" cy="98.1" r="0.82" fill="#b5b5b5"/>
<circle cx="370.9" cy="93.6" r="0.80" fill="#b9b9b9"/>
<circle cx="373.0" cy="105.4" r="0.64" fill="#8b8b8b"/>
<circle cx="362.0" cy="100.5" r="0.73" fill="#989898"/>
<circle cx="365.1" cy="93.8" r="0.76" fill="#a6a6a6"/>
<circle cx="373.5" cy="104.6" r="0.82" fill="#8d8d8d"/>
<circle cx="366.5" cy="94.8" r="0.80" fill="#858585"/>
<circle cx="362.5" cy="102.3" r="0.71" fill="#8f8f8f"/>
<circle cx="370.1" cy="105.2" r="0.60" fill="#9a9a9a"/>
<circle cx="368.2" cy="104.0" r="0.86" fill="#a1a1a1"/>
<circle cx="364.9" cy="100.2" r="0.59" fill="#898989"/>
<circle cx="367.7" cy="97.4" r="0.67" fill="#a5a5a5"/>
<circle cx="373.0" cy="98.7" r="0.79" fill="#b8b8b8"/>
<circle cx="370.9" cy="97.4" r="0.70" fill="#a9a9a9"/>
<circle cx="371.7" cy="94.9" r="0.56" fill="#979797"/>
<circle cx="368.2" cy="96.3" r="0.80" fill="#939393"/>
<circle cx="370.5" cy="106.6" r="0.65" fill="#aaaaaa"/>
<circle cx="364.6" cy="94.1" r="0.78" fill="#8c8c8c"/>
<circle cx="367.9" cy="96.6" r="0.75" fill="#a2a2a2"/>
<circle cx="368.1" cy="98.6" r="0.73" fill="#a1a1a1"/>
<circle cx="366.3" cy="103.4" r="0.57" fill="#a8a8a8"/>
<circle cx="361.8" cy="97.6" r="0.57" fill="#989898"/>
<circle cx="365.0" cy="95.6" r="0.72" fill="#7f7f7f"/>
<circle cx="375.2" cy="98.8" r="0.76" fill="#9e9e9e"/>
<circle cx="376.0" cy="100.1" r="0.55" fill="#909090"/>
<circle cx="373.2" cy="96.9" r="0.78" fill="#b9b9b9"/>
<circle cx="364.0" cy="100.9" r="0.83" fill="#7d7d7d"/>
<circle cx="367.2" cy="102.7" r="0.72" fill="#9f9f9f"/>
<circle cx="363.4" cy="99.5" r="0.77" fill="#8f8f8f"/>
<circle cx="369.9" cy="95.6" r="0.79" fill="#878787"/>
<circle cx="368.2" cy="96.2" r="0.77" fill="#b3b3b3"/>
<circle cx="369.6" cy="104.8" r="0.59" fill="#aeaeae"/>
<circle cx="368.6" cy="104.0" r="0.58" fill="#939393"/>
<circle cx="364.7" cy="101.9" r="0.68" fill="#818181"/>
<circle cx="368.8" cy="94.2" r="0.50" fill="#aeaeae"/>
<circle cx="366.8" cy="104.7" r="0.90" fill="#959595"/>
<circle cx="366.5" cy="103.5" r="0.67" fill="#858585"/>
<circle cx="369.5" cy="101.4" r="0.65" fill="#878787"/>
<circle cx="369.3" cy="104.0" r="0.66" fill="#7f7f7f"/>
<circle cx="367.1" cy="101.9" r="0.70" fill="#a2a2a2"/>
<circle cx="373.8" cy="94.8" r="0.52" fill="#9f9f9f"/>
<circle cx="366.4" cy="107.1" r="0.52" fill="#878787"/>
<circle cx="372.8" cy="96.5" r="0.55" fill="#7d7d7d"/>
<circle cx="374.1" cy="95.6" r="0.77" fill="#828282"/>
<circle cx="364.0" cy="100.6" r="0.64" fill="#b0b0b0"/>
<circle cx="369.2" cy="98.5" r="0.60" fill="#b1b1b1"/>
<circle cx="373.5" cy="97.9" r="0.87" fill="#999999"/>
<circle cx="370.1" cy="104.4" r="0.52" fill="#a0a0a0"/>
<circle cx="370.5" cy="98.5" r="0.55" fill="#9f9f9f"/>
<circle cx="368.8" cy="95.4" r="0.66" fill="#868686"/>
</g>
<g filter="url(#bl0)">
<ellipse cx="344.4" cy="116.6" rx="5.9" ry="6.2" fill="#282828" opacity="0.55" transform="rotate(0 344.4 116.6)"/>
<circle cx="348.7" cy="120.0" r="0.76" fill="#969696"/>
<circle cx="344.5" cy="122.2" r="0.62" fill="#5e5e5e"/>
<circle cx="342.5" cy="113.6" r="0.77" fill="#737373"/>
<circle cx="339.5" cy="120.4" r="0.61" fill="#919191"/>
<circle cx="347.6" cy="114.3" r="0.60" fill="#8d8d8d"/>
<circle cx="341.3" cy="113.1" r="0.56" fill="#848484"/>
<circle cx="343.0" cy="114.3" r="0.76" fill="#616161"/>
<circle cx="343.5" cy="116.0" r="0.61" fill="#909090"/>
<circle cx="348.5" cy="116.0" r="0.90" fill="#767676"/>
<circle cx="346.0" cy="115.4" r="0.76" fill="#929292"/>
<circle cx="348.2" cy="119.8" r="0.75" fill="#656565"/>
<circle cx="348.1" cy="112.4" r="0.69" fill="#858585"/>
<circle cx="345.9" cy="120.7" r="0.59" fill="#8d8d8d"/>
<circle cx="343.8" cy="119.8" r="0.55" fill="#5f5f5f"/>
<circle cx="344.0" cy="118.8" r="0.56" fill="#747474"/>
<circle cx="348.0" cy="119.7" r="0.54" fill="#787878"/>
<circle cx="347.0" cy="116.2" r="0.65" fill="#6d6d6d"/>
<circle cx="340.1" cy="117.0" r="0.74" fill="#606060"/>
<circle cx="344.2" cy="120.7" r="0.68" fill="#818181"/>
<circle cx="346.0" cy="116.0" r="0.56" fill="#878787"/>
<circle cx="343.9" cy="120.9" r="0.83" fill="#737373"/>
<circle cx="348.4" cy="115.1" r="0.64" fill="#7e7e7e"/>
<circle cx="341.4" cy="119.9" r="0.64" fill="#7b7b7b"/>
<circle cx="346.3" cy="121.4" r="0.69" fill="#6a6a6a"/>
<circle cx="346.1" cy="117.7" r="0.58" fill="#5b5b5b"/>
<circle cx="349.3" cy="116.1" r="0.61" fill="#959595"/>
<circle cx="346.6" cy="110.5" r="0.55" fill="#636363"/>
<circle cx="344.4" cy="116.3" r="0.60" fill="#7a7a7a"/>
<circle cx="344.1" cy="119.8" r="0.74" fill="#949494"/>
<circle cx="341.7" cy="121.4" r="0.86" fill="#5c5c5c"/>
<circle cx="339.7" cy="114.7" r="0.88" fill="#8a8a8a"/>
<circle cx="347.2" cy="121.0" r="0.58" fill="#797979"/>
<circle cx="339.6" cy="120.8" r="0.72" fill="#8b8b8b"/>
<circle cx="348.2" cy="114.2" r="0.88" fill="#5c5c5c"/>
<circle cx="344.5" cy="122.9" r="0.69" fill="#6f6f6f"/>
<circle cx="349.3" cy="119.7" r="0.55" fill="#5d5d5d"/>
<circle cx="343.5" cy="114.3" r="0.60" fill="#767676"/>
<circle cx="348.7" cy="121.0" r="0.52" fill="#606060"/>
<circle cx="344.2" cy="120.5" r="0.67" fill="#626262"/>
<circle cx="342.6" cy="117.3" r="0.82" fill="#656565"/>
<circle cx="347.6" cy="120.8" r="0.59" fill="#838383"/>
<circle cx="348.2" cy="112.1" r="0.90" fill="#808080"/>
<circle cx="341.7" cy="112.6" r="0.52" fill="#747474"/>
<circle cx="338.2" cy="117.9" r="0.63" fill="#5e5e5e"/>
<circle cx="345.5" cy="115.4" r="0.77" fill="#959595"/>
<circle cx="340.9" cy="111.9" r="0.87" fill="#5e5e5e"/>
<circle cx="338.6" cy="119.5" r="0.85" fill="#8f8f8f"/>
<circle cx="342.8" cy="114.5" r="0.50" fill="#858585"/>
<circle cx="343.6" cy="118.8" r="0.65" fill="#7f7f7f"/>
<circle cx="348.0" cy="121.5" r="0.69" fill="#919191"/>
<circle cx="339.7" cy="116.7" r="0.62" fill="#6b6b6b"/>
<circle cx="344.5" cy="122.0" r="0.76" fill="#5a5a5a"/>
<circle cx="338.9" cy="114.9" r="0.79" fill="#5a5a5a"/>
<circle cx="350.0" cy="113.9" r="0.84" fill="#737373"/>
<circle cx="341.8" cy="119.0" r="0.79" fill="#6f6f6f"/>
</g>
<g filter="url(#bl0)">
<ellipse cx="381.0" cy="135.0" rx="5.9" ry="6.2" fill="#555555" opacity="0.55" transform="rotate(0 381.0 135.0)"/>
<circle cx="381.7" cy="134.8" r="0.79" fill="#919191"/>
<circle cx="383.7" cy="133.3" r="0.52" fill="#bababa"/>
<circle cx="378.5" cy="129.5" r="0.90" fill="#969696"/>
<circle cx="384.3" cy="138.0" r="0.64" fill="#a0a0a0"/>
<circle cx="380.7" cy="138.1" r="0.84" fill="#bebebe"/>
<circle cx="378.8" cy="137.9" r="0.62" fill="#b5b5b5"/>
<circle cx="377.9" cy="134.8" r="0.68" fill="#a1a1a1"/>
<circle cx="376.6" cy="135.3" r="0.82" fill="#a3a3a3"/>
<circle cx="375.3" cy="132.3" r="0.76" fill="#a0a0a0"/>
<circle cx="382.0" cy="129.2" r="0.53" fill="#c3c3c3"/>
<circle cx="382.5" cy="132.6" r="0.71" fill="#aeaeae"/>
<circle cx="386.0" cy="132.9" r="0.79" fill="#999999"/>
<circle cx="378.5" cy="134.5" r="0.84" fill="#c0c0c0"/>
<circle cx="382.1" cy="135.9" r="0.69" fill="#bcbcbc"/>
<circle cx="384.1" cy="133.3" r="0.87" fill="#959595"/>
<circle cx="383.7" cy="140.7" r="0.64" fill="#969696"/>
<circle cx="380.0" cy="137.5" r="0.75" fill="#9f9f9f"/>
<circle cx="384.1" cy="132.9" r="0.68" fill="#8b8b8b"/>
<circle cx="381.3" cy="129.1" r="0.61" fill="#909090"/>
<circle cx="384.4" cy="138.0" r="0.65" fill="#bcbcbc"/>
<circle cx="380.6" cy="141.4" r="0.54" fill="#8b8b8b"/>
<circle cx="386.9" cy="136.6" r="0.88" fill="#919191"/>
<circle cx="383.2" cy="130.6" r="0.85" fill="#a6a6a6"/>
<circle cx="382.6" cy="135.4" r="0.84" fill="#ababab"/>
<circle cx="384.0" cy="134.2" r="0.80" fill="#a3a3a3"/>
<circle cx="379.8" cy="131.9" r="0.53" fill="#878787"/>
<circle cx="386.3" cy="137.0" r="0.83" fill="#a2a2a2"/>
<circle cx="378.1" cy="139.2" r="0.78" fill="#adadad"/>
<circle cx="376.5" cy="136.6" r="0.51" fill="#a2a2a2"/>
<circle cx="385.8" cy="131.2" r="0.51" fill="#b1b1b1"/>
<circle cx="385.4" cy="132.4" r="0.86" fill="#878787"/>
<circle cx="383.0" cy="137.6" r="0.89" fill="#9c9c9c"/>
<circle cx="379.5" cy="137.9" r="0.73" fill="#a6a6a6"/>
<circle cx="378.9" cy="139.6" r="0.78" fill="#9c9c9c"/>
<circle cx="386.4" cy="132.3" r="0.76" fill="#a7a7a7"/>
<circle cx="380.7" cy="132.9" r="0.83" fill="#ababab"/>
<circle cx="376.1" cy="138.6" r="0.84" fill="#9c9c9c"/>
<circle cx="384.1" cy="137.2" r="0.80" fill="#aaaaaa"/>
<circle cx="377.4" cy="131.7" r="0.55" fill="#c2c2c2"/>
<circle cx="381.1" cy="134.6" r="0.81" fill="#909090"/>
<circle cx="379.9" cy="130.7" r="0.56" fill="#939393"/>
<circle cx="376.8" cy="132.7" r="0.80" fill="#9e9e9e"/>
<circle cx="375.7" cy="138.6" r="0.76" fill="#afafaf"/>
<circle cx="384.5" cy="138.2" r="0.69" fill="#919191"/>
<circle cx="383.6" cy="130.3" r="0.87" fill="#a4a4a4"/>
<circle cx="385.3" cy="130.2" r="0.76" fill="#a1a1a1"/>
<circle cx="384.7" cy="135.7" r="0.80" fill="#9d9d9d"/>
<circle cx="382.6" cy="135.0" r="0.87" fill="#b3b3b3"/>
<circle cx="378.4" cy="133.5" r="0.53" fill="#979797"/>
<circle cx="382.5" cy="140.1" r="0.82" fill="#b5b5b5"/>
<circle cx="378.5" cy="135.9" r="0.86" fill="#9b9b9b"/>
<circle cx="384.3" cy="140.0" r="0.52" fill="#a1a1a1"/>
<circle cx="381.8" cy="140.5" r="0.57" fill="#b7b7b7"/>
<circle cx="376.8" cy="133.1" r="0.69" fill="#a5a5a5"/>
<circle cx="384.9" cy="132.8" r="0.57" fill="#8b8b8b"/>
</g>
<g filter="url(#bl0)">
<ellipse cx="362.0" cy="121.0" rx="3.6" ry="3.8" fill="#282828" opacity="0.55" transform="rotate(0 362.0 121.0)"/>
<circle cx="360.2" cy="123.1" r="0.67" fill="#767676"/>
<circle cx="365.7" cy="121.1" r="0.78" fill="#696969"/>
<circle cx="361.7" cy="120.7" r="0.62" fill="#6f6f6f"/>
<circle cx="360.0" cy="117.6" r="0.74" fill="#5b5b5b"/>
<circle cx="363.0" cy="117.2" r="0.60" fill="#939393"/>
<circle cx="363.8" cy="123.6" r="0.75" fill="#777777"/>
<circle cx="358.9" cy="121.8" r="0.62" fill="#686868"/>
<circle cx="362.5" cy="118.6" r="0.67" fill="#5f5f5f"/>
<circle cx="360.5" cy="123.1" r="0.76" fill="#969696"/>
<circle cx="359.2" cy="119.8" r="0.61" fill="#5f5f5f"/>
<circle cx="363.8" cy="117.9" r="0.71" fill="#696969"/>
<circle cx="359.8" cy="121.1" r="0.63" fill="#777777"/>
<circle cx="365.1" cy="122.3" r="0.79" fill="#5a5a5a"/>
<circle cx="358.5" cy="122.3" r="0.51" fill="#8f8f8f"/>
<circle cx="358.5" cy="121.6" r="0.68" fill="#818181"/>
<circle cx="364.9" cy="122.5" r="0.89" fill="#878787"/>
<circle cx="362.3" cy="123.5" r="0.65" fill="#7c7c7c"/>
<circle cx="365.1" cy="121.9" r="0.74" fill="#787878"/>
<circle cx="358.1" cy="120.7" r="0.81" fill="#838383"/>
<circle cx="362.5" cy="120.1" r="0.63" fill="#878787"/>
<circle cx="363.2" cy="121.8" r="0.50" fill="#828282"/>
<circle cx="365.5" cy="122.1" r="0.80" fill="#5d5d5d"/>
<circle cx="365.3" cy="119.7" r="0.56" fill="#828282"/>
<circle cx="361.3" cy="119.2" r="0.73" fill="#696969"/>
<circle cx="358.2" cy="120.4" r="0.54" fill="#636363"/>
<circle cx="361.7" cy="123.5" r="0.66" fill="#929292"/>
<circle cx="361.7" cy="118.3" r="0.52" fill="#5b5b5b"/>
<circle cx="361.3" cy="118.5" r="0.60" fill="#7a7a7a"/>
<circle cx="359.3" cy="123.4" r="0.55" fill="#828282"/>
<circle cx="363.1" cy="121.9" r="0.67" fill="#8f8f8f"/>
<circle cx="360.9" cy="121.8" r="0.55" fill="#737373"/>
<circle cx="360.3" cy="121.8" r="0.57" fill="#848484"/>
<circle cx="360.3" cy="121.0" r="0.66" fill="#848484"/>
<circle cx="361.5" cy="121.3" r="0.62" fill="#6c6c6c"/>
<circle cx="365.6" cy="120.4" r="0.80" fill="#8c8c8c"/>
<circle cx="361.0" cy="123.7" r="0.71" fill="#787878"/>
<circle cx="362.7" cy="123.6" r="0.55" fill="#7d7d7d"/>
<circle cx="364.8" cy="122.5" r="0.77" fill="#888888"/>
<circle cx="361.5" cy="120.2" r="0.53" fill="#797979"/>
<circle cx="361.9" cy="120.1" r="0.63" fill="#646464"/>
<circle cx="364.0" cy="122.4" r="0.61" fill="#5e5e5e"/>
<circle cx="362.5" cy="123.7" r="0.79" fill="#828282"/>
<circle cx="364.3" cy="121.0" r="0.74" fill="#676767"/>
<circle cx="365.6" cy="122.3" r="0.51" fill="#828282"/>
<circle cx="365.1" cy="122.2" r="0.71" fill="#969696"/>
<circle cx="362.5" cy="123.8" r="0.84" fill="#909090"/>
<circle cx="358.5" cy="120.1" r="0.79" fill="#969696"/>
<circle cx="364.5" cy="119.5" r="0.75" fill="#8d8d8d"/>
<circle cx="363.3" cy="117.3" r="0.69" fill="#787878"/>
<circle cx="360.0" cy="123.7" r="0.80" fill="#949494"/>
<circle cx="362.8" cy="122.5" r="0.54" fill="#717171"/>
<circle cx="361.5" cy="117.0" r="0.83" fill="#606060"/>
<circle cx="363.0" cy="122.4" r="0.75" fill="#8a8a8a"/>
<circle cx="360.8" cy="117.8" r="0.80" fill="#707070"/>
<circle cx="362.8" cy="123.5" r="0.57" fill="#5f5f5f"/>
</g>
<g filter="url(#bl0)">
<ellipse cx="333.0" cy="90.0" rx="2.2" ry="2.4" fill="#1e1e1e" opacity="0.55" transform="rotate(0 333.0 90.0)"/>
<circle cx="330.8" cy="89.7" r="0.88" fill="#626262"/>
<circle cx="334.0" cy="91.9" r="0.72" fill="#616161"/>
<circle cx="333.3" cy="90.3" r="0.65" fill="#7f7f7f"/>
<circle cx="331.0" cy="91.1" r="0.82" fill="#787878"/>
<circle cx="334.4" cy="88.0" r="0.66" fill="#737373"/>
<circle cx="335.1" cy="90.9" r="0.85" fill="#595959"/>
<circle cx="334.4" cy="88.8" r="0.82" fill="#7b7b7b"/>
<circle cx="333.5" cy="91.8" r="0.85" fill="#787878"/>
<circle cx="334.5" cy="90.7" r="0.70" fill="#868686"/>
<circle cx="330.5" cy="90.4" r="0.56" fill="#838383"/>
<circle cx="331.5" cy="91.0" r="0.63" fill="#6b6b6b"/>
<circle cx="332.6" cy="90.4" r="0.80" fill="#666666"/>
<circle cx="334.6" cy="90.5" r="0.73" fill="#505050"/>
<circle cx="333.8" cy="89.1" r="0.72" fill="#5f5f5f"/>
<circle cx="331.5" cy="89.7" r="0.61" fill="#828282"/>
<circle cx="332.7" cy="92.1" r="0.83" fill="#727272"/>
<circle cx="332.2" cy="89.7" r="0.76" fill="#8a8a8a"/>
<circle cx="332.4" cy="90.8" r="0.54" fill="#747474"/>
<circle cx="331.8" cy="89.4" r="0.50" fill="#808080"/>
<circle cx="333.3" cy="90.0" r="0.80" fill="#6e6e6e"/>
<circle cx="331.6" cy="88.4" r="0.62" fill="#545454"/>
<circle cx="333.0" cy="87.9" r="0.69" fill="#777777"/>
<circle cx="331.1" cy="89.2" r="0.66" fill="#7e7e7e"/>
<circle cx="335.4" cy="89.3" r="0.83" fill="#5b5b5b"/>
<circle cx="333.4" cy="91.2" r="0.56" fill="#575757"/>
<circle cx="333.5" cy="89.7" r="0.89" fill="#636363"/>
<circle cx="333.8" cy="87.7" r="0.82" fill="#535353"/>
<circle cx="333.9" cy="91.4" r="0.78" fill="#636363"/>
<circle cx="334.1" cy="88.3" r="0.66" fill="#545454"/>
<circle cx="331.2" cy="89.5" r="0.89" fill="#5e5e5e"/>
<circle cx="331.7" cy="89.7" r="0.57" fill="#626262"/>
<circle cx="335.2" cy="90.7" r="0.73" fill="#848484"/>
<circle cx="331.1" cy="90.2" r="0.71" fill="#6c6c6c"/>
<circle cx="334.5" cy="90.8" r="0.59" fill="#6e6e6e"/>
<circle cx="332.5" cy="91.0" r="0.65" fill="#515151"/>
<circle cx="334.8" cy="89.5" r="0.71" fill="#535353"/>
<circle cx="334.1" cy="89.1" r="0.73" fill="#8b8b8b"/>
<circle cx="334.2" cy="89.7" r="0.63" fill="#5b5b5b"/>
<circle cx="335.2" cy="90.0" r="0.62" fill="#666666"/>
<circle cx="332.3" cy="90.2" r="0.54" fill="#505050"/>
<circle cx="333.7" cy="91.8" r="0.78" fill="#808080"/>
<circle cx="333.7" cy="91.5" r="0.84" fill="#585858"/>
<circle cx="331.3" cy="89.6" r="0.50" fill="#606060"/>
<circle cx="333.1" cy="90.2" r="0.86" fill="#656565"/>
<circle cx="333.0" cy="88.9" r="0.61" fill="#717171"/>
<circle cx="332.8" cy="89.7" r="0.55" fill="#7d7d7d"/>
<circle cx="334.6" cy="88.9" r="0.90" fill="#565656"/>
<circle cx="333.4" cy="87.8" r="0.89" fill="#6d6d6d"/>
<circle cx="330.9" cy="89.5" r="0.59" fill="#797979"/>
<circle cx="334.6" cy="90.3" r="0.55" fill="#535353"/>
<circle cx="333.0" cy="89.4" r="0.89" fill="#606060"/>
<circle cx="332.8" cy="91.5" r="0.72" fill="#848484"/>
<circle cx="334.6" cy="90.0" r="0.87" fill="#717171"/>
<circle cx="333.0" cy="88.5" r="0.80" fill="#858585"/>
<circle cx="333.5" cy="88.1" r="0.85" fill="#646464"/>
</g>
<g filter="url(#bl2)">
<ellipse cx="447.0" cy="133.5" rx="6.5" ry="6.0" fill="#ebebeb" opacity="1.00" transform="rotate(0 447.0 133.5)"/>
<ellipse cx="436.6" cy="106.5" rx="5.0" ry="5.0" fill="#c8c8c8" opacity="1.00" transform="rotate(0 436.6 106.5)"/>
<ellipse cx="459.0" cy="107.0" rx="3.0" ry="3.0" fill="#8c8c8c" opacity="1.00" transform="rotate(0 459.0 107.0)"/>
</g>
</g>
<circle cx="338.1" cy="35.0" r="10.5" fill="none" stroke="#dcdc28" stroke-width="1.35" stroke-dasharray="2.7,1.7"/>
<circle cx="397.6" cy="49.0" r="10.5" fill="none" stroke="#dcdc28" stroke-width="1.35" stroke-dasharray="2.7,1.7"/>
<circle cx="453.7" cy="75.5" r="10.5" fill="none" stroke="#dcdc28" stroke-width="1.35" stroke-dasharray="2.7,1.7"/>
<circle cx="368.5" cy="100.0" r="10.5" fill="none" stroke="#dcdc28" stroke-width="1.35" stroke-dasharray="2.7,1.7"/>
<circle cx="344.4" cy="116.6" r="10.5" fill="none" stroke="#dcdc28" stroke-width="1.35" stroke-dasharray="2.7,1.7"/>
<circle cx="404.5" cy="21.1" r="7.6" fill="none" stroke="#3fd6dc" stroke-width="1.35" stroke-dasharray="2.7,1.7"/>
<circle cx="374.2" cy="31.9" r="7.6" fill="none" stroke="#3fd6dc" stroke-width="1.35" stroke-dasharray="2.7,1.7"/>
<circle cx="447.7" cy="41.5" r="7.6" fill="none" stroke="#3fd6dc" stroke-width="1.35" stroke-dasharray="2.7,1.7"/>
<rect x="370.6" y="123.5" width="20.4" height="21.0" fill="none" stroke="#e8e8e8" stroke-width="1.25" stroke-dasharray="2.7,1.7"/>
<rect x="437.5" y="120.5" width="20.7" height="22.2" fill="none" stroke="#e8e8e8" stroke-width="1.25" stroke-dasharray="2.7,1.7"/>
<g clip-path="url(#c3)">
<rect x="19" y="151" width="148.3" height="147.5" fill="#050505"/>
<g filter="url(#bl6)">
<ellipse cx="111.5" cy="181.0" rx="28.0" ry="23.0" fill="#8c8c8c" opacity="1.00" transform="rotate(0 111.5 181.0)"/>
<ellipse cx="132.4" cy="169.0" rx="14.0" ry="12.0" fill="#767676" opacity="1.00" transform="rotate(0 132.4 169.0)"/>
<ellipse cx="117.5" cy="212.0" rx="24.0" ry="18.0" fill="#9b9b9b" opacity="1.00" transform="rotate(0 117.5 212.0)"/>
<ellipse cx="120.0" cy="232.0" rx="27.0" ry="22.0" fill="#aaaaaa" opacity="1.00" transform="rotate(0 120.0 232.0)"/>
<ellipse cx="128.0" cy="240.0" rx="16.0" ry="14.0" fill="#c3c3c3" opacity="1.00" transform="rotate(0 128.0 240.0)"/>
<ellipse cx="72.7" cy="266.0" rx="38.0" ry="28.0" fill="#a0a0a0" opacity="1.00" transform="rotate(0 72.7 266.0)"/>
<ellipse cx="60.0" cy="288.0" rx="35.0" ry="12.0" fill="#b4b4b4" opacity="1.00" transform="rotate(0 60.0 288.0)"/>
<ellipse cx="40.0" cy="240.0" rx="11.0" ry="11.0" fill="#5a5a5a" opacity="1.00" transform="rotate(0 40.0 240.0)"/>
<ellipse cx="105.0" cy="285.0" rx="22.0" ry="14.0" fill="#919191" opacity="1.00" transform="rotate(0 105.0 285.0)"/>
<ellipse cx="146.0" cy="272.0" rx="12.0" ry="14.0" fill="#464646" opacity="1.00" transform="rotate(0 146.0 272.0)"/>
<ellipse cx="128.0" cy="270.0" rx="15.0" ry="14.0" fill="#787878" opacity="1.00" transform="rotate(0 128.0 270.0)"/>
<ellipse cx="90.0" cy="250.0" rx="15.0" ry="15.0" fill="#8c8c8c" opacity="1.00" transform="rotate(0 90.0 250.0)"/>
</g>
<rect x="19.0" y="151.0" width="148.3" height="147.5" filter="url(#tcl)" opacity="0.40" style="mix-blend-mode:overlay"/>
<rect x="19.0" y="151.0" width="148.3" height="147.5" filter="url(#tcm)" opacity="0.45" style="mix-blend-mode:overlay"/>
<rect x="19.0" y="151.0" width="148.3" height="147.5" filter="url(#tgr)" opacity="0.06" style="mix-blend-mode:overlay"/>
<g style="mix-blend-mode:overlay">
<circle cx="84.8" cy="174.2" r="0.65" fill="#d0d0d0" opacity="0.63"/>
<circle cx="102.2" cy="286.7" r="0.85" fill="#f2f2f2" opacity="0.69"/>
<circle cx="116.4" cy="198.2" r="0.54" fill="#cdcdcd" opacity="0.69"/>
<circle cx="157.4" cy="274.4" r="0.85" fill="#f4f4f4" opacity="0.68"/>
<circle cx="92.5" cy="246.5" r="0.82" fill="#f7f7f7" opacity="0.95"/>
<circle cx="69.1" cy="243.6" r="0.79" fill="#e3e3e3" opacity="0.67"/>
<circle cx="109.7" cy="172.3" r="0.92" fill="#f7f7f7" opacity="0.82"/>
<circle cx="91.5" cy="285.4" r="0.74" fill="#f8f8f8" opacity="0.94"/>
<circle cx="113.4" cy="217.1" r="0.75" fill="#dfdfdf" opacity="0.66"/>
<circle cx="92.0" cy="272.1" r="0.47" fill="#cacaca" opacity="0.85"/>
<circle cx="89.4" cy="233.8" r="0.69" fill="#dadada" opacity="1.00"/>
<circle cx="80.5" cy="217.0" r="0.55" fill="#eaeaea" opacity="0.71"/>
<circle cx="97.4" cy="263.1" r="0.61" fill="#e6e6e6" opacity="0.96"/>
<circle cx="70.6" cy="168.5" r="0.56" fill="#f2f2f2" opacity="0.85"/>
<circle cx="84.9" cy="205.7" r="0.54" fill="#e1e1e1" opacity="0.62"/>
<circle cx="133.2" cy="283.6" r="0.93" fill="#f0f0f0" opacity="0.98"/>
<circle cx="61.9" cy="199.9" r="0.93" fill="#f2f2f2" opacity="0.76"/>
<circle cx="159.0" cy="245.6" r="0.86" fill="#d8d8d8" opacity="0.68"/>
<circle cx="106.6" cy="178.8" r="0.64" fill="#fcfcfc" opacity="0.73"/>
<circle cx="61.0" cy="166.2" r="0.53" fill="#f3f3f3" opacity="0.75"/>
<circle cx="90.5" cy="173.4" r="0.94" fill="#dfdfdf" opacity="0.68"/>
<circle cx="66.2" cy="167.6" r="0.53" fill="#ededed" opacity="0.66"/>
<circle cx="64.3" cy="227.7" r="0.57" fill="#fefefe" opacity="0.65"/>
<circle cx="115.6" cy="266.8" r="0.65" fill="#fefefe" opacity="0.79"/>
<circle cx="85.4" cy="216.7" r="0.47" fill="#dfdfdf" opacity="0.70"/>
<circle cx="153.4" cy="274.7" r="0.70" fill="#c9c9c9" opacity="0.70"/>
<circle cx="85.5" cy="188.7" r="0.57" fill="#f7f7f7" opacity="0.66"/>
<circle cx="65.4" cy="288.1" r="0.73" fill="#fefefe" opacity="0.76"/>
<circle cx="154.6" cy="250.2" r="0.85" fill="#f0f0f0" opacity="0.80"/>
<circle cx="69.8" cy="189.1" r="0.89" fill="#f9f9f9" opacity="0.97"/>
<circle cx="95.3" cy="250.7" r="0.85" fill="#ebebeb" opacity="0.93"/>
<circle cx="115.4" cy="250.4" r="0.79" fill="#d6d6d6" opacity="0.97"/>
<circle cx="160.4" cy="170.3" r="0.94" fill="#fcfcfc" opacity="0.87"/>
<circle cx="64.7" cy="284.1" r="0.51" fill="#fdfdfd" opacity="0.87"/>
<circle cx="66.4" cy="183.1" r="0.77" fill="#e7e7e7" opacity="0.90"/>
<circle cx="157.4" cy="190.2" r="0.45" fill="#fafafa" opacity="0.61"/>
<circle cx="152.0" cy="176.0" r="0.85" fill="#f3f3f3" opacity="0.95"/>
<circle cx="117.8" cy="281.3" r="0.55" fill="#ececec" opacity="0.73"/>
<circle cx="153.6" cy="266.8" r="0.69" fill="#e4e4e4" opacity="0.61"/>
<circle cx="63.6" cy="242.0" r="0.69" fill="#f7f7f7" opacity="0.84"/>
<circle cx="74.6" cy="210.0" r="0.83" fill="#e4e4e4" opacity="0.60"/>
<circle cx="148.0" cy="274.2" r="0.49" fill="#e5e5e5" opacity="0.75"/>
<circle cx="142.7" cy="202.9" r="0.57" fill="#e2e2e2" opacity="0.99"/>
<circle cx="70.0" cy="175.8" r="0.76" fill="#f8f8f8" opacity="0.80"/>
<circle cx="105.6" cy="278.4" r="0.84" fill="#cbcbcb" opacity="0.95"/>
<circle cx="80.6" cy="201.7" r="0.87" fill="#dfdfdf" opacity="0.92"/>
<circle cx="77.6" cy="280.7" r="0.54" fill="#d0d0d0" opacity="0.80"/>
<circle cx="95.6" cy="234.8" r="0.90" fill="#efefef" opacity="0.60"/>
<circle cx="92.7" cy="235.2" r="0.69" fill="#efefef" opacity="0.79"/>
<circle cx="67.9" cy="193.9" r="0.87" fill="#dbdbdb" opacity="0.91"/>
<circle cx="163.5" cy="246.5" r="0.79" fill="#e9e9e9" opacity="0.73"/>
<circle cx="155.8" cy="224.5" r="0.91" fill="#d8d8d8" opacity="0.95"/>
<circle cx="142.6" cy="244.6" r="0.67" fill="#cfcfcf" opacity="0.91"/>
<circle cx="98.0" cy="251.4" r="0.52" fill="#cccccc" opacity="0.66"/>
<circle cx="144.9" cy="184.5" r="0.90" fill="#dcdcdc" opacity="0.83"/>
<circle cx="96.8" cy="245.7" r="0.50" fill="#dedede" opacity="0.97"/>
<circle cx="78.9" cy="250.3" r="0.61" fill="#d8d8d8" opacity="0.61"/>
<circle cx="62.1" cy="291.0" r="0.86" fill="#f4f4f4" opacity="0.92"/>
<circle cx="160.1" cy="181.9" r="0.74" fill="#e3e3e3" opacity="0.83"/>
<circle cx="158.5" cy="264.9" r="0.93" fill="#cecece" opacity="0.86"/>
<circle cx="130.9" cy="262.8" r="0.76" fill="#f5f5f5" opacity="0.72"/>
<circle cx="157.4" cy="216.0" r="0.75" fill="#f9f9f9" opacity="0.88"/>
<circle cx="92.5" cy="191.8" r="0.61" fill="#eaeaea" opacity="1.00"/>
<circle cx="154.4" cy="215.2" r="0.65" fill="#f4f4f4" opacity="0.71"/>
<circle cx="103.2" cy="161.8" r="0.54" fill="#e5e5e5" opacity="0.88"/>
<circle cx="124.5" cy="210.3" r="0.93" fill="#eaeaea" opacity="0.66"/>
<circle cx="67.1" cy="294.4" r="0.94" fill="#fafafa" opacity="0.84"/>
<circle cx="92.8" cy="172.6" r="0.58" fill="#d4d4d4" opacity="0.97"/>
<circle cx="153.7" cy="267.4" r="0.52" fill="#d5d5d5" opacity="0.72"/>
<circle cx="159.5" cy="182.5" r="0.85" fill="#ededed" opacity="0.82"/>
<circle cx="160.7" cy="196.2" r="0.71" fill="#d0d0d0" opacity="0.64"/>
<circle cx="63.3" cy="203.7" r="0.51" fill="#cbcbcb" opacity="1.00"/>
<circle cx="90.4" cy="282.9" r="0.80" fill="#f0f0f0" opacity="0.86"/>
<circle cx="160.0" cy="281.2" r="0.81" fill="#e6e6e6" opacity="0.88"/>
<circle cx="136.0" cy="236.2" r="0.70" fill="#d0d0d0" opacity="0.94"/>
<circle cx="110.8" cy="169.4" r="0.53" fill="#f8f8f8" opacity="0.70"/>
<circle cx="101.1" cy="254.1" r="0.88" fill="#dadada" opacity="0.75"/>
<circle cx="104.4" cy="163.9" r="0.89" fill="#c9c9c9" opacity="0.98"/>
<circle cx="76.0" cy="181.6" r="0.87" fill="#f5f5f5" opacity="0.69"/>
<circle cx="118.1" cy="225.8" r="0.81" fill="#d2d2d2" opacity="0.93"/>
</g>
</g>
<g clip-path="url(#c4)">
<rect x="169" y="151" width="147.2" height="147.5" fill="#080808"/>
<g filter="url(#bl10)">
<ellipse cx="246.0" cy="226.0" rx="70.0" ry="62.0" fill="#848484" opacity="1.00" transform="rotate(0 246.0 226.0)"/>
<ellipse cx="242.0" cy="183.0" rx="30.0" ry="20.0" fill="#b4b4b4" opacity="1.00" transform="rotate(0 242.0 183.0)"/>
<ellipse cx="292.0" cy="200.0" rx="22.0" ry="26.0" fill="#9b9b9b" opacity="1.00" transform="rotate(0 292.0 200.0)"/>
<ellipse cx="200.0" cy="205.0" rx="25.0" ry="25.0" fill="#7d7d7d" opacity="1.00" transform="rotate(0 200.0 205.0)"/>
<ellipse cx="215.0" cy="258.0" rx="35.0" ry="28.0" fill="#8a8a8a" opacity="1.00" transform="rotate(0 215.0 258.0)"/>
<ellipse cx="268.0" cy="262.0" rx="30.0" ry="28.0" fill="#8c8c8c" opacity="1.00" transform="rotate(0 268.0 262.0)"/>
<ellipse cx="238.0" cy="290.0" rx="40.0" ry="10.0" fill="#6e6e6e" opacity="1.00" transform="rotate(0 238.0 290.0)"/>
<ellipse cx="178.0" cy="285.0" rx="15.0" ry="15.0" fill="#1e1e1e" opacity="1.00" transform="rotate(0 178.0 285.0)"/>
<ellipse cx="310.0" cy="285.0" rx="12.0" ry="15.0" fill="#282828" opacity="1.00" transform="rotate(0 310.0 285.0)"/>
<ellipse cx="188.0" cy="162.0" rx="28.0" ry="16.0" fill="#0c0c0c" opacity="1.00" transform="rotate(0 188.0 162.0)"/>
<ellipse cx="172.0" cy="200.0" rx="6.0" ry="40.0" fill="#282828" opacity="1.00" transform="rotate(0 172.0 200.0)"/>
</g>
<rect x="169.0" y="151.0" width="147.2" height="147.5" filter="url(#tcl2)" opacity="0.50" style="mix-blend-mode:overlay"/>
<rect x="169.0" y="151.0" width="147.2" height="147.5" filter="url(#tcm2)" opacity="0.55" style="mix-blend-mode:overlay"/>
<rect x="169.0" y="151.0" width="147.2" height="147.5" filter="url(#tgr)" opacity="0.06" style="mix-blend-mode:overlay"/>
<g style="mix-blend-mode:overlay">
<circle cx="261.7" cy="260.3" r="0.89" fill="#fbfbfb" opacity="0.90"/>
<circle cx="304.8" cy="156.2" r="0.71" fill="#fbfbfb" opacity="0.86"/>
<circle cx="301.7" cy="168.5" r="0.71" fill="#d5d5d5" opacity="0.82"/>
<circle cx="254.6" cy="153.9" r="0.57" fill="#d7d7d7" opacity="0.97"/>
<circle cx="282.3" cy="175.3" r="0.89" fill="#cfcfcf" opacity="0.85"/>
<circle cx="190.2" cy="152.3" r="0.93" fill="#d3d3d3" opacity="0.69"/>
<circle cx="313.5" cy="279.4" r="0.61" fill="#fcfcfc" opacity="0.82"/>
<circle cx="269.6" cy="181.9" r="0.97" fill="#ededed" opacity="0.99"/>
<circle cx="300.7" cy="195.6" r="0.65" fill="#d1d1d1" opacity="0.66"/>
<circle cx="181.4" cy="196.0" r="0.78" fill="#c8c8c8" opacity="0.87"/>
<circle cx="220.7" cy="197.3" r="0.90" fill="#e2e2e2" opacity="0.73"/>
<circle cx="241.3" cy="254.9" r="0.48" fill="#fdfdfd" opacity="0.61"/>
<circle cx="280.0" cy="275.4" r="0.46" fill="#f3f3f3" opacity="0.75"/>
<circle cx="255.3" cy="153.3" r="0.48" fill="#d1d1d1" opacity="0.98"/>
<circle cx="200.3" cy="262.3" r="0.96" fill="#fbfbfb" opacity="0.74"/>
<circle cx="223.1" cy="228.6" r="0.88" fill="#cdcdcd" opacity="0.90"/>
<circle cx="286.8" cy="277.5" r="0.47" fill="#fcfcfc" opacity="0.64"/>
<circle cx="221.1" cy="241.2" r="0.95" fill="#dadada" opacity="0.97"/>
<circle cx="250.5" cy="197.6" r="0.62" fill="#d1d1d1" opacity="0.63"/>
<circle cx="193.4" cy="252.6" r="1.00" fill="#d0d0d0" opacity="0.62"/>
<circle cx="314.1" cy="229.9" r="0.67" fill="#d5d5d5" opacity="0.84"/>
<circle cx="291.0" cy="218.5" r="0.68" fill="#cbcbcb" opacity="0.97"/>
<circle cx="176.7" cy="224.1" r="0.91" fill="#cfcfcf" opacity="0.89"/>
<circle cx="308.8" cy="244.0" r="0.88" fill="#cdcdcd" opacity="0.77"/>
<circle cx="193.5" cy="275.3" r="0.61" fill="#e0e0e0" opacity="1.00"/>
<circle cx="294.7" cy="294.5" r="0.70" fill="#e2e2e2" opacity="0.89"/>
<circle cx="241.0" cy="194.5" r="0.67" fill="#d0d0d0" opacity="0.75"/>
<circle cx="314.3" cy="292.1" r="0.79" fill="#e3e3e3" opacity="0.74"/>
<circle cx="184.8" cy="191.8" r="0.88" fill="#f7f7f7" opacity="0.74"/>
<circle cx="285.2" cy="265.1" r="0.83" fill="#ececec" opacity="0.90"/>
<circle cx="224.3" cy="254.9" r="0.60" fill="#e2e2e2" opacity="0.91"/>
<circle cx="271.5" cy="194.9" r="0.97" fill="#ebebeb" opacity="0.83"/>
<circle cx="173.7" cy="231.9" r="0.59" fill="#ececec" opacity="0.79"/>
<circle cx="289.6" cy="246.5" r="0.89" fill="#dbdbdb" opacity="0.86"/>
<circle cx="278.2" cy="272.9" r="0.64" fill="#f6f6f6" opacity="0.95"/>
<circle cx="271.1" cy="294.5" r="0.98" fill="#e4e4e4" opacity="0.81"/>
<circle cx="195.9" cy="274.1" r="0.97" fill="#e2e2e2" opacity="0.88"/>
<circle cx="275.6" cy="258.6" r="0.54" fill="#f2f2f2" opacity="0.83"/>
<circle cx="267.8" cy="213.4" r="0.79" fill="#f2f2f2" opacity="0.85"/>
<circle cx="275.7" cy="156.0" r="0.54" fill="#e0e0e0" opacity="0.86"/>
<circle cx="203.5" cy="252.1" r="0.80" fill="#cacaca" opacity="0.79"/>
<circle cx="204.6" cy="159.9" r="0.52" fill="#d9d9d9" opacity="0.67"/>
<circle cx="199.8" cy="157.2" r="0.71" fill="#dcdcdc" opacity="0.84"/>
<circle cx="257.0" cy="186.7" r="0.95" fill="#c8c8c8" opacity="0.76"/>
<circle cx="212.1" cy="211.9" r="0.51" fill="#f5f5f5" opacity="0.75"/>
<circle cx="177.2" cy="241.6" r="0.50" fill="#e5e5e5" opacity="0.74"/>
<circle cx="255.6" cy="291.9" r="0.90" fill="#dfdfdf" opacity="0.93"/>
<circle cx="264.5" cy="205.9" r="0.53" fill="#e8e8e8" opacity="0.83"/>
<circle cx="309.8" cy="293.3" r="0.78" fill="#dbdbdb" opacity="0.96"/>
<circle cx="172.1" cy="167.8" r="0.76" fill="#e9e9e9" opacity="0.66"/>
<circle cx="262.6" cy="282.1" r="0.66" fill="#dfdfdf" opacity="0.69"/>
<circle cx="214.0" cy="294.0" r="0.66" fill="#fcfcfc" opacity="0.97"/>
<circle cx="257.8" cy="189.9" r="0.99" fill="#e3e3e3" opacity="0.77"/>
<circle cx="218.0" cy="295.7" r="0.72" fill="#d7d7d7" opacity="0.79"/>
<circle cx="189.6" cy="242.8" r="0.69" fill="#d8d8d8" opacity="0.91"/>
<circle cx="291.1" cy="153.9" r="0.74" fill="#d7d7d7" opacity="0.97"/>
<circle cx="284.6" cy="187.9" r="0.60" fill="#d0d0d0" opacity="1.00"/>
<circle cx="214.2" cy="240.8" r="0.71" fill="#ebebeb" opacity="0.84"/>
<circle cx="279.1" cy="169.3" r="0.87" fill="#d8d8d8" opacity="0.81"/>
<circle cx="220.4" cy="195.3" r="0.74" fill="#e1e1e1" opacity="0.74"/>
</g>
</g>
<g clip-path="url(#c5)">
<rect x="318" y="151" width="147" height="147.5" fill="#0a0a0a"/>
<g filter="url(#bl10)">
<ellipse cx="368.0" cy="198.0" rx="62.0" ry="50.0" fill="#aaaaaa" opacity="1.00" transform="rotate(0 368.0 198.0)"/>
<ellipse cx="408.0" cy="170.0" rx="26.0" ry="24.0" fill="#9b9b9b" opacity="1.00" transform="rotate(0 408.0 170.0)"/>
<ellipse cx="420.0" cy="212.0" rx="14.0" ry="20.0" fill="#7d7d7d" opacity="1.00" transform="rotate(0 420.0 212.0)"/>
<ellipse cx="330.0" cy="160.0" rx="20.0" ry="15.0" fill="#919191" opacity="1.00" transform="rotate(0 330.0 160.0)"/>
<ellipse cx="340.0" cy="285.0" rx="35.0" ry="22.0" fill="#2a2a2a" opacity="1.00" transform="rotate(0 340.0 285.0)"/>
<ellipse cx="410.0" cy="265.0" rx="35.0" ry="28.0" fill="#3e3e3e" opacity="1.00" transform="rotate(0 410.0 265.0)"/>
<ellipse cx="398.0" cy="232.0" rx="22.0" ry="22.0" fill="#6e6e6e" opacity="1.00" transform="rotate(0 398.0 232.0)"/>
<ellipse cx="320.0" cy="240.0" rx="15.0" ry="20.0" fill="#6e6e6e" opacity="1.00" transform="rotate(0 320.0 240.0)"/>
</g>
<rect x="318.0" y="151.0" width="147.0" height="147.5" filter="url(#tcl3)" opacity="0.45" style="mix-blend-mode:overlay"/>
<rect x="318.0" y="151.0" width="147.0" height="147.5" filter="url(#tcm3)" opacity="0.40" style="mix-blend-mode:overlay"/>
<rect x="318.0" y="151.0" width="147.0" height="147.5" filter="url(#tgr)" opacity="0.06" style="mix-blend-mode:overlay"/>
<g style="mix-blend-mode:overlay">
<circle cx="418.8" cy="252.9" r="1.24" fill="#ececec" opacity="0.60"/>
<circle cx="402.2" cy="209.3" r="1.48" fill="#efefef" opacity="0.91"/>
<circle cx="352.6" cy="250.4" r="1.46" fill="#f0f0f0" opacity="0.82"/>
<circle cx="404.6" cy="174.9" r="1.30" fill="#fafafa" opacity="0.71"/>
<circle cx="420.0" cy="236.0" r="1.56" fill="#eeeeee" opacity="0.64"/>
<circle cx="419.6" cy="250.8" r="1.20" fill="#e8e8e8" opacity="0.68"/>
<circle cx="398.6" cy="187.1" r="1.66" fill="#f4f4f4" opacity="0.68"/>
<circle cx="401.2" cy="195.7" r="1.64" fill="#fcfcfc" opacity="0.81"/>
<circle cx="399.9" cy="237.5" r="1.52" fill="#fefefe" opacity="0.61"/>
<circle cx="363.9" cy="225.6" r="1.07" fill="#f4f4f4" opacity="0.64"/>
<circle cx="429.8" cy="216.1" r="0.91" fill="#f6f6f6" opacity="0.72"/>
<circle cx="342.9" cy="211.0" r="0.92" fill="#ebebeb" opacity="0.95"/>
<circle cx="406.7" cy="152.6" r="1.50" fill="#e6e6e6" opacity="0.73"/>
<circle cx="432.9" cy="227.9" r="1.08" fill="#efefef" opacity="0.76"/>
<circle cx="334.1" cy="275.0" r="0.85" fill="#f0f0f0" opacity="0.90"/>
<circle cx="368.5" cy="272.6" r="1.02" fill="#fefefe" opacity="0.96"/>
<circle cx="403.1" cy="261.3" r="1.20" fill="#fafafa" opacity="0.92"/>
<circle cx="383.6" cy="209.4" r="1.44" fill="#f0f0f0" opacity="0.63"/>
<circle cx="412.8" cy="184.0" r="1.24" fill="#f9f9f9" opacity="0.67"/>
<circle cx="320.8" cy="166.3" r="1.33" fill="#efefef" opacity="0.70"/>
<circle cx="375.3" cy="266.0" r="1.03" fill="#f0f0f0" opacity="0.95"/>
<circle cx="395.7" cy="184.2" r="1.23" fill="#f1f1f1" opacity="0.66"/>
<circle cx="365.9" cy="188.9" r="1.52" fill="#eeeeee" opacity="0.86"/>
<circle cx="441.3" cy="265.5" r="1.14" fill="#f5f5f5" opacity="0.73"/>
<circle cx="368.6" cy="211.5" r="1.51" fill="#fdfdfd" opacity="0.72"/>
<circle cx="318.8" cy="206.7" r="0.85" fill="#e6e6e6" opacity="0.91"/>
<circle cx="332.2" cy="240.1" r="1.13" fill="#fdfdfd" opacity="0.94"/>
<circle cx="325.9" cy="174.9" r="1.65" fill="#f5f5f5" opacity="0.77"/>
<circle cx="417.4" cy="251.9" r="1.24" fill="#f1f1f1" opacity="0.64"/>
<circle cx="364.0" cy="169.0" r="1.36" fill="#f5f5f5" opacity="0.66"/>
<circle cx="397.8" cy="163.1" r="0.89" fill="#f6f6f6" opacity="0.79"/>
<circle cx="432.2" cy="229.0" r="1.43" fill="#e9e9e9" opacity="0.93"/>
<circle cx="328.6" cy="227.6" r="1.62" fill="#fcfcfc" opacity="0.96"/>
<circle cx="375.4" cy="237.0" r="1.51" fill="#e9e9e9" opacity="0.98"/>
<circle cx="433.4" cy="205.7" r="1.50" fill="#f1f1f1" opacity="0.71"/>
<circle cx="408.5" cy="158.9" r="1.52" fill="#fefefe" opacity="0.71"/>
<circle cx="437.3" cy="161.4" r="1.57" fill="#ececec" opacity="0.99"/>
<circle cx="372.7" cy="265.3" r="0.83" fill="#e8e8e8" opacity="0.93"/>
<circle cx="399.1" cy="217.4" r="0.83" fill="#eaeaea" opacity="0.75"/>
<circle cx="324.6" cy="274.1" r="1.49" fill="#fdfdfd" opacity="0.88"/>
<circle cx="361.6" cy="160.6" r="1.46" fill="#e8e8e8" opacity="0.82"/>
<circle cx="376.9" cy="212.3" r="0.87" fill="#e7e7e7" opacity="0.81"/>
<circle cx="321.9" cy="216.2" r="0.94" fill="#ededed" opacity="0.66"/>
<circle cx="390.2" cy="199.2" r="1.00" fill="#ebebeb" opacity="0.83"/>
<circle cx="433.6" cy="203.0" r="0.95" fill="#ededed" opacity="0.70"/>
<circle cx="390.7" cy="248.5" r="1.31" fill="#eaeaea" opacity="0.73"/>
<circle cx="366.4" cy="205.7" r="1.16" fill="#fefefe" opacity="0.82"/>
<circle cx="402.1" cy="239.8" r="1.38" fill="#fafafa" opacity="0.75"/>
<circle cx="402.7" cy="271.6" r="0.95" fill="#f5f5f5" opacity="0.75"/>
<circle cx="325.8" cy="155.9" r="1.48" fill="#e8e8e8" opacity="0.88"/>
<circle cx="330.7" cy="196.6" r="0.83" fill="#f3f3f3" opacity="0.91"/>
<circle cx="346.6" cy="221.1" r="1.63" fill="#ededed" opacity="0.79"/>
<circle cx="410.0" cy="258.2" r="0.95" fill="#f6f6f6" opacity="0.65"/>
<circle cx="332.3" cy="272.9" r="0.85" fill="#fcfcfc" opacity="0.90"/>
<circle cx="403.8" cy="241.5" r="1.39" fill="#ededed" opacity="0.78"/>
<circle cx="343.7" cy="257.5" r="1.50" fill="#f9f9f9" opacity="0.69"/>
<circle cx="393.2" cy="182.6" r="1.51" fill="#f8f8f8" opacity="1.00"/>
<circle cx="407.9" cy="235.8" r="1.50" fill="#e8e8e8" opacity="0.84"/>
<circle cx="322.2" cy="196.5" r="0.91" fill="#fdfdfd" opacity="0.61"/>
<circle cx="435.0" cy="268.5" r="1.19" fill="#fafafa" opacity="0.62"/>
<circle cx="335.7" cy="152.2" r="0.86" fill="#e6e6e6" opacity="0.93"/>
<circle cx="329.1" cy="224.3" r="1.05" fill="#e9e9e9" opacity="0.77"/>
<circle cx="341.1" cy="272.2" r="1.15" fill="#f4f4f4" opacity="0.83"/>
<circle cx="397.6" cy="210.6" r="1.04" fill="#e9e9e9" opacity="0.96"/>
<circle cx="342.5" cy="206.6" r="1.53" fill="#f4f4f4" opacity="0.98"/>
<circle cx="420.8" cy="214.7" r="0.91" fill="#f4f4f4" opacity="0.79"/>
<circle cx="427.4" cy="216.8" r="1.42" fill="#fafafa" opacity="0.79"/>
<circle cx="424.9" cy="262.5" r="0.94" fill="#fcfcfc" opacity="0.95"/>
<circle cx="426.6" cy="192.9" r="1.03" fill="#e9e9e9" opacity="0.75"/>
<circle cx="426.6" cy="196.0" r="0.80" fill="#ededed" opacity="0.63"/>
<circle cx="397.1" cy="246.3" r="1.63" fill="#e8e8e8" opacity="0.75"/>
<circle cx="334.0" cy="263.9" r="1.55" fill="#f2f2f2" opacity="0.98"/>
<circle cx="384.1" cy="247.3" r="1.24" fill="#efefef" opacity="1.00"/>
<circle cx="424.9" cy="224.4" r="1.58" fill="#f6f6f6" opacity="0.92"/>
<circle cx="326.5" cy="167.3" r="0.90" fill="#f5f5f5" opacity="0.89"/>
<circle cx="337.7" cy="213.6" r="0.90" fill="#f7f7f7" opacity="0.91"/>
<circle cx="329.0" cy="272.5" r="1.40" fill="#e9e9e9" opacity="0.74"/>
<circle cx="338.1" cy="241.3" r="1.63" fill="#eaeaea" opacity="0.67"/>
<circle cx="397.9" cy="257.6" r="1.47" fill="#f1f1f1" opacity="0.64"/>
<circle cx="396.0" cy="207.5" r="1.52" fill="#f4f4f4" opacity="0.89"/>
<circle cx="441.3" cy="228.6" r="1.62" fill="#ececec" opacity="0.60"/>
<circle cx="430.1" cy="154.7" r="1.69" fill="#f1f1f1" opacity="0.62"/>
<circle cx="352.9" cy="240.4" r="1.15" fill="#f5f5f5" opacity="0.64"/>
<circle cx="424.1" cy="197.3" r="1.55" fill="#e9e9e9" opacity="0.87"/>
<circle cx="377.6" cy="201.1" r="0.82" fill="#f3f3f3" opacity="0.94"/>
<circle cx="331.2" cy="206.3" r="0.81" fill="#fefefe" opacity="0.99"/>
<circle cx="404.2" cy="210.5" r="0.86" fill="#e9e9e9" opacity="0.88"/>
<circle cx="418.9" cy="273.6" r="1.58" fill="#f0f0f0" opacity="0.70"/>
<circle cx="386.8" cy="193.9" r="1.29" fill="#fcfcfc" opacity="0.78"/>
<circle cx="442.6" cy="240.1" r="0.84" fill="#f8f8f8" opacity="0.86"/>
<circle cx="397.0" cy="151.4" r="1.59" fill="#f2f2f2" opacity="0.81"/>
<circle cx="339.6" cy="155.4" r="0.81" fill="#ebebeb" opacity="0.72"/>
<circle cx="337.6" cy="158.2" r="1.45" fill="#f7f7f7" opacity="0.95"/>
<circle cx="345.6" cy="241.3" r="1.34" fill="#e8e8e8" opacity="0.95"/>
<circle cx="363.4" cy="173.9" r="0.96" fill="#fdfdfd" opacity="0.69"/>
<circle cx="366.8" cy="218.8" r="1.12" fill="#f6f6f6" opacity="0.64"/>
<circle cx="372.6" cy="223.5" r="1.36" fill="#f5f5f5" opacity="0.71"/>
<circle cx="399.0" cy="271.6" r="1.23" fill="#f6f6f6" opacity="0.93"/>
<circle cx="350.0" cy="183.9" r="1.67" fill="#ededed" opacity="0.77"/>
<circle cx="365.1" cy="274.2" r="1.29" fill="#fcfcfc" opacity="0.66"/>
<circle cx="353.3" cy="231.6" r="1.09" fill="#f6f6f6" opacity="0.80"/>
<circle cx="327.9" cy="164.9" r="1.19" fill="#f3f3f3" opacity="0.67"/>
<circle cx="351.4" cy="151.1" r="1.04" fill="#ededed" opacity="0.76"/>
<circle cx="393.3" cy="256.7" r="1.45" fill="#f8f8f8" opacity="0.71"/>
<circle cx="380.9" cy="241.1" r="1.60" fill="#ececec" opacity="0.61"/>
<circle cx="324.5" cy="214.9" r="1.59" fill="#e9e9e9" opacity="0.91"/>
<circle cx="399.4" cy="258.1" r="1.61" fill="#e8e8e8" opacity="0.92"/>
<circle cx="335.2" cy="165.7" r="1.16" fill="#f2f2f2" opacity="0.63"/>
<circle cx="353.0" cy="172.8" r="0.92" fill="#e8e8e8" opacity="0.61"/>
<circle cx="345.6" cy="191.6" r="1.18" fill="#f7f7f7" opacity="0.84"/>
<circle cx="380.0" cy="191.0" r="1.35" fill="#eaeaea" opacity="0.67"/>
<circle cx="332.3" cy="234.0" r="0.93" fill="#ebebeb" opacity="0.74"/>
<circle cx="389.6" cy="231.3" r="1.33" fill="#f4f4f4" opacity="0.68"/>
<circle cx="433.9" cy="242.4" r="1.17" fill="#efefef" opacity="0.83"/>
<circle cx="333.2" cy="230.9" r="1.61" fill="#efefef" opacity="0.80"/>
<circle cx="350.1" cy="263.8" r="1.14" fill="#efefef" opacity="0.89"/>
<circle cx="365.3" cy="263.2" r="1.17" fill="#f4f4f4" opacity="0.72"/>
<circle cx="392.9" cy="209.6" r="0.89" fill="#fcfcfc" opacity="0.66"/>
<circle cx="391.1" cy="235.0" r="1.22" fill="#eeeeee" opacity="0.78"/>
<circle cx="444.9" cy="152.5" r="1.60" fill="#f5f5f5" opacity="0.79"/>
<circle cx="399.0" cy="230.3" r="1.55" fill="#fefefe" opacity="0.81"/>
<circle cx="362.6" cy="195.9" r="1.62" fill="#f2f2f2" opacity="0.63"/>
<circle cx="392.5" cy="165.3" r="1.11" fill="#f6f6f6" opacity="0.85"/>
<circle cx="386.1" cy="253.9" r="1.35" fill="#fefefe" opacity="0.92"/>
<circle cx="351.6" cy="247.9" r="1.12" fill="#fdfdfd" opacity="0.85"/>
<circle cx="371.1" cy="172.7" r="1.56" fill="#eeeeee" opacity="0.61"/>
<circle cx="420.0" cy="151.8" r="0.84" fill="#e6e6e6" opacity="0.86"/>
<circle cx="389.4" cy="211.0" r="1.64" fill="#f1f1f1" opacity="0.68"/>
<circle cx="444.6" cy="164.7" r="0.84" fill="#ebebeb" opacity="0.99"/>
<circle cx="371.0" cy="195.3" r="1.13" fill="#efefef" opacity="0.90"/>
<circle cx="399.0" cy="185.6" r="0.97" fill="#fafafa" opacity="0.82"/>
<circle cx="381.7" cy="175.9" r="1.68" fill="#f3f3f3" opacity="0.97"/>
<circle cx="403.6" cy="230.2" r="0.82" fill="#fcfcfc" opacity="0.94"/>
<circle cx="327.7" cy="161.1" r="1.41" fill="#f6f6f6" opacity="0.68"/>
<circle cx="443.9" cy="163.3" r="1.31" fill="#f2f2f2" opacity="0.73"/>
<circle cx="402.9" cy="205.7" r="1.49" fill="#f9f9f9" opacity="0.60"/>
<circle cx="359.4" cy="218.3" r="1.07" fill="#f5f5f5" opacity="0.61"/>
<circle cx="331.3" cy="214.5" r="0.99" fill="#ebebeb" opacity="0.77"/>
<circle cx="393.5" cy="232.1" r="1.34" fill="#f2f2f2" opacity="0.77"/>
<circle cx="428.4" cy="258.1" r="1.61" fill="#fdfdfd" opacity="0.87"/>
<circle cx="343.3" cy="238.0" r="1.05" fill="#ededed" opacity="0.76"/>
<circle cx="322.2" cy="205.4" r="0.98" fill="#ebebeb" opacity="0.77"/>
<circle cx="414.0" cy="231.9" r="1.08" fill="#f8f8f8" opacity="0.76"/>
<circle cx="363.5" cy="201.7" r="1.06" fill="#e9e9e9" opacity="0.99"/>
<circle cx="393.7" cy="232.3" r="1.35" fill="#f2f2f2" opacity="0.85"/>
<circle cx="319.0" cy="159.1" r="1.28" fill="#f1f1f1" opacity="0.60"/>
<circle cx="344.8" cy="188.8" r="1.67" fill="#fafafa" opacity="0.62"/>
<circle cx="367.4" cy="194.4" r="0.92" fill="#ededed" opacity="1.00"/>
<circle cx="434.5" cy="184.5" r="1.50" fill="#e9e9e9" opacity="0.85"/>
<circle cx="329.0" cy="230.6" r="1.34" fill="#fefefe" opacity="0.83"/>
<circle cx="433.8" cy="181.1" r="1.36" fill="#ebebeb" opacity="0.63"/>
<circle cx="442.8" cy="154.4" r="1.12" fill="#ededed" opacity="0.68"/>
<circle cx="426.8" cy="244.5" r="1.14" fill="#f4f4f4" opacity="0.93"/>
<circle cx="325.5" cy="232.3" r="1.57" fill="#f5f5f5" opacity="0.81"/>
<circle cx="349.5" cy="171.9" r="0.96" fill="#eeeeee" opacity="0.71"/>
<circle cx="417.0" cy="170.8" r="0.91" fill="#f9f9f9" opacity="0.78"/>
<circle cx="332.5" cy="252.1" r="0.84" fill="#efefef" opacity="0.76"/>
<circle cx="383.8" cy="180.6" r="1.63" fill="#f4f4f4" opacity="0.73"/>
<circle cx="399.1" cy="198.2" r="1.30" fill="#f4f4f4" opacity="0.70"/>
<circle cx="428.6" cy="162.6" r="1.64" fill="#f0f0f0" opacity="0.80"/>
<circle cx="331.6" cy="214.4" r="1.10" fill="#f5f5f5" opacity="0.87"/>
<circle cx="330.8" cy="160.0" r="1.61" fill="#ebebeb" opacity="0.87"/>
<circle cx="410.8" cy="247.9" r="0.80" fill="#f5f5f5" opacity="0.94"/>
<circle cx="322.4" cy="151.9" r="1.60" fill="#f7f7f7" opacity="0.88"/>
<circle cx="415.6" cy="226.8" r="0.98" fill="#e9e9e9" opacity="0.61"/>
<circle cx="401.7" cy="233.4" r="1.69" fill="#ececec" opacity="0.66"/>
<circle cx="366.1" cy="267.7" r="1.01" fill="#fcfcfc" opacity="0.85"/>
<circle cx="415.6" cy="165.3" r="1.52" fill="#f0f0f0" opacity="0.90"/>
<circle cx="324.1" cy="187.7" r="1.31" fill="#ececec" opacity="0.82"/>
<circle cx="331.5" cy="182.9" r="1.37" fill="#eeeeee" opacity="0.99"/>
</g>
<g style="mix-blend-mode:overlay">
<circle cx="407.5" cy="240.3" r="0.83" fill="#cbcbcb" opacity="0.81"/>
<circle cx="411.1" cy="233.9" r="0.75" fill="#cacaca" opacity="0.77"/>
<circle cx="385.9" cy="236.2" r="0.71" fill="#f5f5f5" opacity="0.65"/>
<circle cx="399.0" cy="272.7" r="0.97" fill="#e7e7e7" opacity="0.76"/>
<circle cx="463.0" cy="233.2" r="0.93" fill="#d7d7d7" opacity="0.66"/>
<circle cx="390.0" cy="251.0" r="0.91" fill="#d1d1d1" opacity="0.83"/>
<circle cx="434.3" cy="255.3" r="0.77" fill="#cbcbcb" opacity="0.62"/>
<circle cx="397.5" cy="276.3" r="0.71" fill="#d9d9d9" opacity="0.83"/>
<circle cx="418.5" cy="250.4" r="0.90" fill="#eeeeee" opacity="0.70"/>
<circle cx="428.8" cy="265.7" r="0.94" fill="#f0f0f0" opacity="0.72"/>
<circle cx="463.3" cy="238.0" r="0.71" fill="#f1f1f1" opacity="0.66"/>
<circle cx="421.6" cy="232.7" r="0.83" fill="#f2f2f2" opacity="0.83"/>
<circle cx="454.4" cy="251.3" r="0.85" fill="#e8e8e8" opacity="0.83"/>
<circle cx="418.8" cy="287.1" r="0.97" fill="#e2e2e2" opacity="0.87"/>
<circle cx="385.2" cy="277.7" r="0.82" fill="#fefefe" opacity="0.93"/>
<circle cx="404.2" cy="256.2" r="0.83" fill="#c9c9c9" opacity="0.78"/>
<circle cx="394.3" cy="238.0" r="0.53" fill="#f2f2f2" opacity="0.65"/>
<circle cx="401.0" cy="256.6" r="0.94" fill="#cccccc" opacity="0.78"/>
<circle cx="426.7" cy="290.1" r="0.91" fill="#f7f7f7" opacity="0.71"/>
<circle cx="415.3" cy="254.4" r="0.94" fill="#fcfcfc" opacity="0.66"/>
<circle cx="395.0" cy="245.8" r="0.62" fill="#e2e2e2" opacity="0.84"/>
<circle cx="402.3" cy="230.3" r="0.71" fill="#dcdcdc" opacity="0.83"/>
<circle cx="461.0" cy="277.0" r="0.76" fill="#e9e9e9" opacity="0.87"/>
<circle cx="384.6" cy="291.2" r="0.89" fill="#f8f8f8" opacity="0.92"/>
<circle cx="413.4" cy="257.1" r="0.55" fill="#eaeaea" opacity="0.62"/>
<circle cx="385.7" cy="244.2" r="0.58" fill="#dadada" opacity="0.62"/>
<circle cx="380.0" cy="240.3" r="0.55" fill="#dbdbdb" opacity="0.61"/>
<circle cx="454.3" cy="271.8" r="0.57" fill="#d5d5d5" opacity="0.74"/>
<circle cx="411.0" cy="238.4" r="0.92" fill="#fefefe" opacity="0.79"/>
<circle cx="421.1" cy="235.8" r="0.55" fill="#dadada" opacity="0.71"/>
</g>
</g>
<text x="26.8" y="18.0" font-size="11.20" font-weight="bold" fill="#fff" text-anchor="start" textLength="65.8" lengthAdjust="spacingAndGlyphs" stroke="#fff" stroke-width="0.28">0.02 Pt/MAO</text>
<text x="176.4" y="18.0" font-size="11.20" font-weight="bold" fill="#fff" text-anchor="start" textLength="65.8" lengthAdjust="spacingAndGlyphs" stroke="#fff" stroke-width="0.28">0.05 Pt/MAO</text>
<text x="325.4" y="18.0" font-size="11.20" font-weight="bold" fill="#fff" text-anchor="start" textLength="65.8" lengthAdjust="spacingAndGlyphs" stroke="#fff" stroke-width="0.28">0.15 Pt/MAO</text>
<text x="28.0" y="166.4" font-size="11.20" font-weight="bold" fill="#fff" text-anchor="start"  stroke="#fff" stroke-width="0.28">0.375 Pt/MAO</text>
<text x="176.5" y="166.4" font-size="11.20" font-weight="bold" fill="#fff" text-anchor="start"  stroke="#fff" stroke-width="0.28">1 Pt/MAO</text>
<text x="325.5" y="166.4" font-size="11.20" font-weight="bold" fill="#fff" text-anchor="start"  stroke="#fff" stroke-width="0.28">3 Pt/MAO</text>
<text x="27.0" y="135.7" font-size="12.30" font-weight="bold" fill="#fff" text-anchor="start" textLength="28.2" lengthAdjust="spacingAndGlyphs" stroke="#fff" stroke-width="0.28">2 nm</text>
<rect x="27.0" y="139.1" width="22.8" height="2.9" fill="#fff"/>
<text x="173.6" y="135.9" font-size="12.30" font-weight="bold" fill="#fff" text-anchor="start" textLength="27.2" lengthAdjust="spacingAndGlyphs" stroke="#fff" stroke-width="0.28">2 nm</text>
<rect x="173.6" y="139.0" width="25.4" height="2.9" fill="#fff"/>
<text x="323.6" y="138.9" font-size="12.30" font-weight="bold" fill="#fff" text-anchor="start" textLength="28.3" lengthAdjust="spacingAndGlyphs" stroke="#fff" stroke-width="0.28">2 nm</text>
<rect x="323.6" y="141.5" width="24.2" height="2.9" fill="#fff"/>
<text x="21.6" y="286.6" font-size="12.30" font-weight="bold" fill="#fff" text-anchor="start" textLength="34.4" lengthAdjust="spacingAndGlyphs" stroke="#fff" stroke-width="0.28">20 nm</text>
<rect x="21.6" y="290.0" width="23.5" height="2.9" fill="#fff"/>
<text x="173.5" y="286.6" font-size="12.30" font-weight="bold" fill="#fff" text-anchor="start" textLength="34.4" lengthAdjust="spacingAndGlyphs" stroke="#fff" stroke-width="0.28">20 nm</text>
<rect x="173.5" y="290.0" width="23.1" height="2.9" fill="#fff"/>
<text x="322.5" y="286.6" font-size="12.30" font-weight="bold" fill="#fff" text-anchor="start" textLength="35.5" lengthAdjust="spacingAndGlyphs" stroke="#fff" stroke-width="0.28">20 nm</text>
<rect x="322.5" y="290.0" width="24.0" height="2.9" fill="#fff"/>
<rect x="99.2" y="271.1" width="5.7" height="13.8" fill="#e4f41c" stroke="#c8d818" stroke-width="0.3"/>
<rect x="104.9" y="237.9" width="5.7" height="47.0" fill="#e4f41c" stroke="#c8d818" stroke-width="0.3"/>
<rect x="110.6" y="253.2" width="5.7" height="31.7" fill="#e4f41c" stroke="#c8d818" stroke-width="0.3"/>
<rect x="116.3" y="280.8" width="5.7" height="4.1" fill="#e4f41c" stroke="#c8d818" stroke-width="0.3"/>
<rect x="122.0" y="283.9" width="5.7" height="1.0" fill="#e4f41c" stroke="#c8d818" stroke-width="0.3"/>
<line x1="93.4" y1="285.2" x2="162.3" y2="285.2" stroke="#ddd" stroke-width="0.8"/>
<line x1="95.4" y1="284.9" x2="95.4" y2="286.4" stroke="#ddd" stroke-width="0.6"/>
<text x="95.4" y="295.2" font-size="7.60" font-weight="bold" fill="#e4f41c" text-anchor="middle"  stroke="#e4f41c" stroke-width="0.28">0</text>
<line x1="118.1" y1="284.9" x2="118.1" y2="286.4" stroke="#ddd" stroke-width="0.6"/>
<text x="118.1" y="295.2" font-size="7.60" font-weight="bold" fill="#e4f41c" text-anchor="middle"  stroke="#e4f41c" stroke-width="0.28">2</text>
<line x1="140.6" y1="284.9" x2="140.6" y2="286.4" stroke="#ddd" stroke-width="0.6"/>
<text x="140.6" y="295.2" font-size="7.60" font-weight="bold" fill="#e4f41c" text-anchor="middle"  stroke="#e4f41c" stroke-width="0.28">4</text>
<line x1="162.8" y1="284.9" x2="162.8" y2="286.4" stroke="#ddd" stroke-width="0.6"/>
<text x="162.8" y="295.2" font-size="7.60" font-weight="bold" fill="#e4f41c" text-anchor="middle"  stroke="#e4f41c" stroke-width="0.28">6</text>
<text x="83.8" y="231.2" font-size="11.40" font-weight="bold" fill="#e4f41c" text-anchor="start" textLength="68.7" lengthAdjust="spacingAndGlyphs" stroke="#e4f41c" stroke-width="0.28">1.40±0.39nm</text>
<rect x="247.0" y="275.8" width="5.7" height="8.2" fill="#e4f41c" stroke="#c8d818" stroke-width="0.3"/>
<rect x="252.7" y="248.1" width="5.7" height="35.9" fill="#e4f41c" stroke="#c8d818" stroke-width="0.3"/>
<rect x="258.4" y="233.7" width="5.7" height="50.3" fill="#e4f41c" stroke="#c8d818" stroke-width="0.3"/>
<rect x="264.2" y="258.0" width="5.7" height="26.0" fill="#e4f41c" stroke="#c8d818" stroke-width="0.3"/>
<rect x="269.9" y="277.0" width="5.7" height="7.0" fill="#e4f41c" stroke="#c8d818" stroke-width="0.3"/>
<rect x="275.6" y="282.2" width="5.7" height="1.8" fill="#e4f41c" stroke="#c8d818" stroke-width="0.3"/>
<line x1="240.8" y1="284.3" x2="310.1" y2="284.3" stroke="#ddd" stroke-width="0.8"/>
<line x1="240.8" y1="284.0" x2="240.8" y2="285.5" stroke="#ddd" stroke-width="0.6"/>
<text x="240.8" y="294.3" font-size="7.60" font-weight="bold" fill="#e4f41c" text-anchor="middle"  stroke="#e4f41c" stroke-width="0.28">0</text>
<line x1="263.9" y1="284.0" x2="263.9" y2="285.5" stroke="#ddd" stroke-width="0.6"/>
<text x="263.9" y="294.3" font-size="7.60" font-weight="bold" fill="#e4f41c" text-anchor="middle"  stroke="#e4f41c" stroke-width="0.28">2</text>
<line x1="286.7" y1="284.0" x2="286.7" y2="285.5" stroke="#ddd" stroke-width="0.6"/>
<text x="286.7" y="294.3" font-size="7.60" font-weight="bold" fill="#e4f41c" text-anchor="middle"  stroke="#e4f41c" stroke-width="0.28">4</text>
<line x1="309.3" y1="284.0" x2="309.3" y2="285.5" stroke="#ddd" stroke-width="0.6"/>
<text x="309.3" y="294.3" font-size="7.60" font-weight="bold" fill="#e4f41c" text-anchor="middle"  stroke="#e4f41c" stroke-width="0.28">6</text>
<text x="236.8" y="227.0" font-size="11.40" font-weight="bold" fill="#e4f41c" text-anchor="start" textLength="69.9" lengthAdjust="spacingAndGlyphs" stroke="#e4f41c" stroke-width="0.28">1.70±0.49nm</text>
<rect x="396.0" y="282.2" width="6.1" height="2.8" fill="#e4f41c" stroke="#c8d818" stroke-width="0.3"/>
<rect x="402.1" y="265.1" width="6.1" height="19.9" fill="#e4f41c" stroke="#c8d818" stroke-width="0.3"/>
<rect x="408.2" y="244.2" width="6.1" height="40.8" fill="#e4f41c" stroke="#c8d818" stroke-width="0.3"/>
<rect x="414.2" y="239.0" width="6.1" height="46.0" fill="#e4f41c" stroke="#c8d818" stroke-width="0.3"/>
<rect x="420.3" y="247.0" width="6.1" height="38.0" fill="#e4f41c" stroke="#c8d818" stroke-width="0.3"/>
<rect x="426.4" y="259.2" width="6.1" height="25.8" fill="#e4f41c" stroke="#c8d818" stroke-width="0.3"/>
<rect x="432.5" y="271.0" width="6.1" height="14.0" fill="#e4f41c" stroke="#c8d818" stroke-width="0.3"/>
<rect x="438.6" y="279.0" width="6.1" height="6.0" fill="#e4f41c" stroke="#c8d818" stroke-width="0.3"/>
<rect x="444.6" y="283.0" width="6.1" height="2.0" fill="#e4f41c" stroke="#c8d818" stroke-width="0.3"/>
<rect x="450.7" y="284.2" width="6.1" height="0.8" fill="#e4f41c" stroke="#c8d818" stroke-width="0.3"/>
<line x1="390.6" y1="285.3" x2="463.3" y2="285.3" stroke="#ddd" stroke-width="0.8"/>
<line x1="390.6" y1="285.0" x2="390.6" y2="286.5" stroke="#ddd" stroke-width="0.6"/>
<text x="390.6" y="295.3" font-size="7.60" font-weight="bold" fill="#e4f41c" text-anchor="middle"  stroke="#e4f41c" stroke-width="0.28">0</text>
<line x1="413.2" y1="285.0" x2="413.2" y2="286.5" stroke="#ddd" stroke-width="0.6"/>
<text x="413.2" y="295.3" font-size="7.60" font-weight="bold" fill="#e4f41c" text-anchor="middle"  stroke="#e4f41c" stroke-width="0.28">2</text>
<line x1="435.8" y1="285.0" x2="435.8" y2="286.5" stroke="#ddd" stroke-width="0.6"/>
<text x="435.8" y="295.3" font-size="7.60" font-weight="bold" fill="#e4f41c" text-anchor="middle"  stroke="#e4f41c" stroke-width="0.28">4</text>
<line x1="458.4" y1="285.0" x2="458.4" y2="286.5" stroke="#ddd" stroke-width="0.6"/>
<text x="458.4" y="295.3" font-size="7.60" font-weight="bold" fill="#e4f41c" text-anchor="middle"  stroke="#e4f41c" stroke-width="0.28">6</text>
<text x="392.3" y="231.5" font-size="11.40" font-weight="bold" fill="#e4f41c" text-anchor="start" textLength="69.9" lengthAdjust="spacingAndGlyphs" stroke="#e4f41c" stroke-width="0.28">2.45±0.81nm</text>
<text x="473.3" y="12.9" font-size="16.00" font-weight="bold" fill="#000" text-anchor="start"  stroke="#000" stroke-width="0.28">b</text>
<path d="M489.5,95.2 C491.2,95.1 496.7,94.7 500.0,94.4 C503.3,94.1 507.0,94.7 509.2,93.6 C511.4,92.5 511.9,90.6 513.0,88.0 C514.1,85.4 514.9,82.3 516.0,78.0 C517.1,73.7 518.5,65.5 519.5,62.0 C520.5,58.5 521.4,57.4 522.3,57.0 C523.2,56.6 524.0,58.5 524.8,59.5 C525.6,60.5 526.4,63.2 527.3,62.8 C528.2,62.4 529.1,60.1 530.0,57.0 C530.9,53.9 531.6,49.2 532.5,44.0 C533.4,38.8 534.6,30.8 535.4,26.0 C536.2,21.2 536.9,17.7 537.5,15.5 C538.1,13.3 538.5,12.9 539.0,12.8 C539.5,12.7 540.1,13.5 540.8,15.0 C541.5,16.5 541.9,18.1 543.0,22.0 C544.1,25.9 546.0,33.8 547.5,38.5 C549.0,43.2 550.6,46.4 552.0,50.0 C553.4,53.6 554.5,56.8 556.0,60.0 C557.5,63.2 559.3,66.4 561.0,69.0 C562.7,71.6 563.5,73.0 566.0,75.5 C568.5,78.0 572.5,81.9 575.7,84.2 C578.9,86.5 581.8,88.0 585.0,89.5 C588.2,91.0 591.5,92.5 595.0,93.5 C598.5,94.5 601.8,95.7 606.0,95.8 C610.2,95.9 615.9,95.2 620.3,94.2 C624.7,93.2 628.3,91.2 632.4,90.0 C636.5,88.8 640.4,87.2 645.0,87.0 C649.6,86.8 654.6,87.8 660.0,88.8 C665.4,89.8 674.3,92.5 677.2,93.3" fill="none" stroke="#84d0b0" stroke-width="1.90" stroke-linejoin="round"/>
<path d="M489.5,155.0 C491.2,154.9 496.4,154.5 500.0,154.2 C503.6,153.9 508.8,153.9 511.2,153.3 C513.6,152.7 513.5,151.6 514.5,150.5 C515.5,149.4 516.4,147.8 517.3,146.5 C518.2,145.2 519.2,143.5 520.0,142.5 C520.8,141.5 521.5,140.8 522.3,140.6 C523.1,140.4 524.2,141.5 525.0,141.6 C525.8,141.7 526.5,141.9 527.3,141.4 C528.1,140.9 529.1,139.8 530.0,138.5 C530.9,137.2 531.6,135.8 532.4,133.4 C533.2,131.0 534.2,127.0 535.0,124.0 C535.8,121.0 536.6,117.9 537.4,115.5 C538.2,113.1 539.1,110.9 540.0,109.5 C540.9,108.1 541.7,107.1 542.5,107.3 C543.3,107.5 544.1,108.9 545.0,110.5 C545.9,112.1 546.9,114.7 548.0,117.0 C549.1,119.3 550.3,122.2 551.5,124.3 C552.7,126.4 553.6,127.8 555.0,129.5 C556.4,131.2 557.1,132.2 559.6,134.4 C562.1,136.7 565.5,140.3 569.7,143.0 C573.9,145.7 580.0,148.6 585.0,150.5 C590.0,152.4 594.1,154.1 600.0,154.6 C605.9,155.1 612.5,154.2 620.3,153.4 C628.0,152.6 639.5,149.8 646.5,149.5 C653.5,149.2 656.9,150.7 662.0,151.3 C667.1,152.0 674.7,153.1 677.2,153.4" fill="none" stroke="#c596da" stroke-width="1.90" stroke-linejoin="round"/>
<path d="M489.5,186.3 C493.8,186.3 509.0,186.5 515.2,186.4 C521.5,186.3 524.3,185.9 527.0,185.5 C529.7,185.1 530.1,184.6 531.4,183.7 C532.7,182.8 533.7,181.5 535.0,180.0 C536.3,178.5 538.1,176.3 539.4,174.5 C540.7,172.7 542.0,170.5 543.0,169.0 C544.0,167.5 544.5,166.7 545.5,165.6 C546.5,164.5 548.1,162.6 549.1,162.2 C550.1,161.8 550.8,162.8 551.5,163.3 C552.2,163.8 552.6,164.3 553.5,165.2 C554.4,166.1 555.6,167.3 557.0,168.5 C558.4,169.7 559.9,171.2 561.6,172.4 C563.3,173.6 565.0,174.6 567.0,175.6 C569.0,176.6 570.7,177.4 573.7,178.5 C576.7,179.6 580.6,181.0 585.0,182.0 C589.4,183.0 595.5,183.8 600.0,184.4 C604.5,185.0 607.0,185.4 612.0,185.4 C617.0,185.4 623.9,184.7 630.0,184.2 C636.1,183.7 642.7,182.3 648.5,182.2 C654.3,182.1 660.2,183.1 665.0,183.4 C669.8,183.7 675.2,184.1 677.2,184.2" fill="none" stroke="#f0b468" stroke-width="1.90" stroke-linejoin="round"/>
<path d="M489.5,211.9 C493.1,212.0 505.3,212.8 511.2,212.7 C517.1,212.6 521.6,211.9 525.0,211.5 C528.4,211.1 529.6,210.8 531.4,210.2 C533.1,209.6 534.2,208.7 535.5,208.0 C536.8,207.3 538.1,206.8 539.4,206.0 C540.6,205.2 541.8,203.9 543.0,203.2 C544.2,202.5 545.6,201.9 546.8,201.8 C548.0,201.7 548.5,202.1 550.0,202.6 C551.5,203.1 553.6,203.9 555.6,204.6 C557.6,205.2 559.6,205.9 562.0,206.5 C564.4,207.1 565.9,207.6 569.7,208.2 C573.5,208.8 578.3,209.6 585.0,210.3 C591.7,211.0 599.2,212.4 610.0,212.3 C620.8,212.2 638.8,210.1 650.0,209.8 C661.2,209.6 672.7,210.6 677.2,210.8" fill="none" stroke="#6cb0f4" stroke-width="1.90" stroke-linejoin="round"/>
<path d="M489.5,240.1 C493.8,240.2 508.2,240.6 515.0,240.5 C521.8,240.4 526.6,239.8 530.0,239.5 C533.4,239.2 533.6,239.1 535.4,238.7 C537.2,238.3 539.3,237.4 541.0,237.0 C542.7,236.6 544.0,236.2 545.5,236.3 C547.0,236.4 548.4,237.1 550.0,237.5 C551.6,237.9 552.5,238.2 555.0,238.5 C557.5,238.8 560.0,239.2 565.0,239.5 C570.0,239.8 574.2,240.3 585.0,240.5 C595.8,240.7 614.6,240.7 630.0,240.6 C645.4,240.5 669.3,240.1 677.2,240.0" fill="none" stroke="#ec8080" stroke-width="1.90" stroke-linejoin="round"/>
<path d="M489.5,264.3 C495.4,264.2 517.4,263.9 525.0,263.7 C532.6,263.5 532.6,263.2 535.0,263.0 C537.4,262.8 538.1,262.6 539.4,262.3 C540.7,262.0 542.0,261.4 543.0,261.0 C544.0,260.6 544.7,260.1 545.5,260.2 C546.3,260.2 546.8,260.9 548.0,261.3 C549.2,261.7 550.2,262.0 553.0,262.4 C555.8,262.8 559.7,263.1 565.0,263.4 C570.3,263.7 574.2,264.2 585.0,264.3 C595.8,264.4 614.6,264.1 630.0,264.0 C645.4,263.9 669.3,263.8 677.2,263.7" fill="none" stroke="#86e074" stroke-width="1.90" stroke-linejoin="round"/>
<rect x="489.5" y="5.2" width="187.7" height="265.5" fill="none" stroke="#8a8a8a" stroke-width="1"/>
<line x1="489.5" y1="270.7" x2="489.5" y2="275.0" stroke="#8a8a8a" stroke-width="1"/>
<text x="489.5" y="285.2" font-size="7.10" font-weight="bold" fill="#111" text-anchor="middle"  stroke="#111" stroke-width="0.28">2200</text>
<line x1="510.4" y1="270.7" x2="510.4" y2="273.3" stroke="#8a8a8a" stroke-width="1"/>
<line x1="531.3" y1="270.7" x2="531.3" y2="275.0" stroke="#8a8a8a" stroke-width="1"/>
<text x="531.3" y="285.2" font-size="7.10" font-weight="bold" fill="#111" text-anchor="middle"  stroke="#111" stroke-width="0.28">2100</text>
<line x1="552.2" y1="270.7" x2="552.2" y2="273.3" stroke="#8a8a8a" stroke-width="1"/>
<line x1="573.1" y1="270.7" x2="573.1" y2="275.0" stroke="#8a8a8a" stroke-width="1"/>
<text x="573.1" y="285.2" font-size="7.10" font-weight="bold" fill="#111" text-anchor="middle"  stroke="#111" stroke-width="0.28">2000</text>
<line x1="594.0" y1="270.7" x2="594.0" y2="273.3" stroke="#8a8a8a" stroke-width="1"/>
<line x1="614.9" y1="270.7" x2="614.9" y2="275.0" stroke="#8a8a8a" stroke-width="1"/>
<text x="614.9" y="285.2" font-size="7.10" font-weight="bold" fill="#111" text-anchor="middle"  stroke="#111" stroke-width="0.28">1900</text>
<line x1="635.8" y1="270.7" x2="635.8" y2="273.3" stroke="#8a8a8a" stroke-width="1"/>
<line x1="656.7" y1="270.7" x2="656.7" y2="275.0" stroke="#8a8a8a" stroke-width="1"/>
<text x="656.7" y="285.2" font-size="7.10" font-weight="bold" fill="#111" text-anchor="middle"  stroke="#111" stroke-width="0.28">1800</text>
<line x1="677.6" y1="270.7" x2="677.6" y2="273.3" stroke="#8a8a8a" stroke-width="1"/>
<line x1="522.3" y1="54.4" x2="522.3" y2="149.5" stroke="#4a4a4a" stroke-width="1.45" stroke-dasharray="4.2,2.4"/>
<line x1="538.4" y1="13.1" x2="549.1" y2="173.7" stroke="#4a4a4a" stroke-width="1.45" stroke-dasharray="4.2,2.4"/>
<line x1="645.0" y1="84.7" x2="645.0" y2="184.8" stroke="#4a4a4a" stroke-width="1.45" stroke-dasharray="4.2,2.4"/>
<line x1="547.1" y1="195.0" x2="547.1" y2="209.0" stroke="#4a4a4a" stroke-width="1.45" stroke-dasharray="4.2,2.4"/>
<line x1="545.5" y1="231.4" x2="545.5" y2="262.7" stroke="#4a4a4a" stroke-width="1.45" stroke-dasharray="4.2,2.4"/>
<text x="490.0" y="34.3" font-size="8.60" font-weight="normal" fill="#666666" text-anchor="start" stroke="#666666" stroke-width="0.25">CO on PtO<tspan font-size="5.5" dy="2">x</tspan></text>
<text x="493.0" y="46.4" font-size="8.60" font-weight="normal" fill="#666666" text-anchor="start" stroke="#666666" stroke-width="0.25">~2120 cm<tspan font-size="5.5" dy="-3.2">-1</tspan></text>
<text x="550.0" y="26.2" font-size="8.60" font-weight="normal" fill="#666666" text-anchor="start" stroke="#666666" stroke-width="0.25" textLength="53.0" lengthAdjust="spacing">CO on Pt NPs</text>
<text x="555.6" y="38.3" font-size="8.60" font-weight="normal" fill="#666666" text-anchor="start" stroke="#666666" stroke-width="0.25">2080 cm<tspan font-size="5.5" dy="-3.2">-1</tspan></text>
<text x="621.3" y="56.0" font-size="8.60" font-weight="normal" fill="#666666" text-anchor="start" stroke="#666666" stroke-width="0.25" textLength="52.9" lengthAdjust="spacing">CO on Pt NPs</text>
<text x="627.4" y="67.5" font-size="8.60" font-weight="normal" fill="#666666" text-anchor="start" stroke="#666666" stroke-width="0.25">~1821 cm<tspan font-size="5.5" dy="-3.2">-1</tspan></text>
<text x="547.9" y="102.0" font-size="8.60" font-weight="normal" fill="#666666" text-anchor="start" stroke="#666666" stroke-width="0.25">2074 cm<tspan font-size="5.5" dy="-3.2">-1</tspan></text>
<text x="554.6" y="162.6" font-size="8.60" font-weight="normal" fill="#666666" text-anchor="start" stroke="#666666" stroke-width="0.25">2057 cm<tspan font-size="5.5" dy="-3.2">-1</tspan></text>
<text x="517.4" y="191.8" font-size="8.60" font-weight="normal" fill="#666666" text-anchor="start" stroke="#666666" stroke-width="0.25" textLength="64.2" lengthAdjust="spacing">CO on Pt cluster</text>
<text x="558.4" y="200.8" font-size="8.60" font-weight="normal" fill="#666666" text-anchor="start" stroke="#666666" stroke-width="0.25">~2061 cm<tspan font-size="5.5" dy="-3.2">-1</tspan></text>
<text x="492.7" y="224.4" font-size="8.60" font-weight="normal" fill="#666666" text-anchor="start" stroke="#666666" stroke-width="0.25">CO on Pt<tspan font-size="5.5" dy="2">1</tspan><tspan dy="-2"> site</tspan></text>
<text x="496.0" y="235.5" font-size="8.60" font-weight="normal" fill="#666666" text-anchor="start" stroke="#666666" stroke-width="0.25">~2064 cm<tspan font-size="5.5" dy="-3.2">-1</tspan></text>
<text x="670.4" y="81.5" font-size="10.50" font-weight="bold" fill="#111" text-anchor="end"  stroke="#111" stroke-width="0.28">3Pt/MAO</text>
<text x="670.8" y="144.0" font-size="10.50" font-weight="bold" fill="#111" text-anchor="end"  stroke="#111" stroke-width="0.28">1Pt/MAO</text>
<text x="672.9" y="178.7" font-size="10.50" font-weight="bold" fill="#111" text-anchor="end"  stroke="#111" stroke-width="0.28">0.375Pt/MAO</text>
<text x="672.0" y="206.2" font-size="10.50" font-weight="bold" fill="#111" text-anchor="end"  stroke="#111" stroke-width="0.28">0.15Pt/MAO</text>
<text x="671.9" y="233.4" font-size="10.50" font-weight="bold" fill="#111" text-anchor="end"  stroke="#111" stroke-width="0.28">0.05Pt/MAO</text>
<text x="671.7" y="258.8" font-size="10.50" font-weight="bold" fill="#111" text-anchor="end"  stroke="#111" stroke-width="0.28">0.02Pt/MAO</text>
<text x="533.8" y="303.2" font-size="11.45" font-weight="bold" fill="#111" text-anchor="start"  stroke="#111" stroke-width="0.28">Wavenumber (cm<tspan font-size="7" dy="-4.5">−1</tspan><tspan dy="4.5">)</tspan></text>
<text transform="translate(480.8,147.1) rotate(-90)" x="0" y="0" font-size="11.2" font-weight="bold" fill="#111" text-anchor="middle">Absorbance (arb. units)</text>
<text x="4.9" y="331.0" font-size="17.00" font-weight="bold" fill="#000" text-anchor="start"  stroke="#000" stroke-width="0.28">c</text>
<path d="M20.2,378.5 C23.5,378.3 34.6,378.1 40.3,377.4 C46.0,376.6 51.1,375.1 54.4,374.0 C57.7,372.9 58.3,371.8 60.0,370.5 C61.7,369.2 63.2,367.8 64.5,366.0 C65.8,364.2 67.0,361.6 68.0,359.5 C69.0,357.4 69.8,355.7 70.6,353.5 C71.4,351.3 72.2,348.8 73.0,346.5 C73.8,344.2 74.8,341.4 75.6,339.5 C76.3,337.6 76.9,336.1 77.5,335.0 C78.1,333.9 78.5,333.4 79.0,333.2 C79.5,333.0 80.2,333.4 80.8,334.0 C81.4,334.6 82.0,335.6 82.7,337.0 C83.4,338.4 84.0,340.7 84.7,342.5 C85.4,344.3 85.9,346.1 86.7,348.0 C87.5,349.9 88.5,352.3 89.5,354.0 C90.5,355.7 91.6,357.1 92.7,358.4 C93.8,359.6 94.8,360.7 96.0,361.5 C97.2,362.3 97.7,362.8 100.0,363.4 C102.3,364.0 105.0,365.1 110.0,365.3 C115.0,365.5 121.7,365.0 130.0,364.3 C138.3,363.6 147.9,362.4 160.0,361.3 C172.1,360.2 195.5,358.6 202.6,358.0" fill="none" stroke="#f0b468" stroke-width="1.4" stroke-linejoin="round"/>
<path d="M20.2,402.6 C20.4,402.6 21.1,402.5 21.5,402.6 C21.9,402.7 22.4,403.2 22.8,403.1 C23.2,403.0 23.7,402.2 24.1,402.1 C24.5,401.9 25.0,402.0 25.4,401.9 C25.8,401.9 26.3,402.0 26.7,401.9 C27.1,401.7 27.6,401.1 28.0,401.0 C28.4,400.9 28.9,401.3 29.3,401.4 C29.7,401.4 30.2,401.4 30.6,401.4 C31.0,401.4 31.5,401.7 31.9,401.5 C32.3,401.3 32.8,400.2 33.2,400.0 C33.6,399.8 34.1,400.3 34.5,400.2 C34.9,400.1 35.4,399.5 35.8,399.6 C36.2,399.7 36.7,400.6 37.1,400.7 C37.5,400.9 38.0,400.6 38.4,400.3 C38.8,400.0 39.3,399.0 39.7,399.0 C40.1,399.0 40.6,400.2 41.0,400.4 C41.4,400.5 41.9,400.2 42.3,400.0 C42.7,399.7 43.2,399.3 43.6,399.0 C44.0,398.8 44.5,398.9 44.9,398.6 C45.3,398.3 45.8,397.7 46.2,397.4 C46.6,397.1 47.1,396.8 47.5,396.8 C47.9,396.8 48.4,397.4 48.8,397.3 C49.2,397.2 49.7,396.4 50.1,396.1 C50.5,395.9 51.0,396.1 51.4,396.0 C51.8,395.9 52.3,395.9 52.7,395.7 C53.1,395.5 53.6,395.1 54.0,395.0 C54.4,394.8 54.9,395.1 55.3,394.9 C55.7,394.8 56.2,394.1 56.6,393.9 C57.0,393.7 57.5,394.0 57.9,393.6 C58.3,393.2 58.8,392.2 59.2,391.7 C59.6,391.1 60.1,390.8 60.5,390.3 C60.9,389.8 61.4,389.0 61.8,388.5 C62.2,387.9 62.7,387.5 63.1,386.8 C63.5,386.0 64.0,384.9 64.4,384.0 C64.8,383.1 65.3,381.9 65.7,381.2 C66.1,380.6 66.6,380.7 67.0,380.1 C67.4,379.6 67.9,378.6 68.3,377.8 C68.7,377.0 69.2,376.1 69.6,375.4 C70.0,374.6 70.5,373.8 70.9,373.0 C71.3,372.3 71.8,371.4 72.2,370.8 C72.6,370.1 73.1,369.6 73.5,369.1 C73.9,368.7 74.4,368.6 74.8,368.2 C75.2,367.8 75.7,366.9 76.1,366.8 C76.5,366.7 77.0,367.5 77.4,367.6 C77.8,367.8 78.3,367.4 78.7,367.8 C79.1,368.2 79.6,369.3 80.0,369.8 C80.4,370.3 80.9,370.2 81.3,370.8 C81.7,371.4 82.2,372.8 82.6,373.4 C83.0,374.0 83.5,374.4 83.9,374.5 C84.3,374.7 84.8,374.1 85.2,374.2 C85.6,374.4 86.1,374.9 86.5,375.5 C86.9,376.1 87.4,377.3 87.8,377.6 C88.2,378.0 88.7,377.4 89.1,377.7 C89.5,378.0 90.0,379.2 90.4,379.5 C90.8,379.7 91.3,379.3 91.7,379.3 C92.1,379.3 92.6,379.2 93.0,379.6 C93.4,379.9 93.9,381.0 94.3,381.4 C94.7,381.9 95.2,382.2 95.6,382.3 C96.0,382.3 96.5,381.8 96.9,381.8 C97.3,381.7 97.8,381.7 98.2,381.9 C98.6,382.0 99.1,382.4 99.5,382.7 C99.9,383.1 100.4,383.9 100.8,384.1 C101.2,384.2 101.7,384.0 102.1,383.7 C102.5,383.5 103.0,382.8 103.4,382.6 C103.8,382.5 104.3,382.9 104.7,382.9 C105.1,382.9 105.6,382.8 106.0,382.7 C106.4,382.7 106.9,382.5 107.3,382.7 C107.7,382.9 108.2,384.0 108.6,384.1 C109.0,384.1 109.5,383.1 109.9,383.0 C110.3,383.0 110.8,383.7 111.2,383.8 C111.6,383.9 112.1,383.7 112.5,383.6 C112.9,383.5 113.4,383.1 113.8,383.2 C114.2,383.3 114.7,384.2 115.1,384.2 C115.5,384.2 116.0,383.2 116.4,383.2 C116.8,383.2 117.3,384.2 117.7,384.2 C118.1,384.2 118.6,383.3 119.0,383.3 C119.4,383.2 119.9,383.8 120.3,383.9 C120.7,383.9 121.2,383.5 121.6,383.5 C122.0,383.4 122.5,383.3 122.9,383.6 C123.3,383.8 123.8,384.6 124.2,384.8 C124.6,385.0 125.1,384.7 125.5,384.5 C125.9,384.3 126.4,383.6 126.8,383.6 C127.2,383.6 127.7,384.6 128.1,384.6 C128.5,384.6 129.0,383.5 129.4,383.4 C129.8,383.2 130.3,383.5 130.7,383.7 C131.1,383.9 131.6,384.4 132.0,384.5 C132.4,384.6 132.9,384.4 133.3,384.1 C133.7,383.9 134.2,383.0 134.6,383.1 C135.0,383.2 135.5,384.7 135.9,384.7 C136.3,384.8 136.8,383.5 137.2,383.3 C137.6,383.1 138.1,383.2 138.5,383.4 C138.9,383.5 139.4,384.3 139.8,384.3 C140.2,384.3 140.7,383.6 141.1,383.5 C141.5,383.3 142.0,383.5 142.4,383.4 C142.8,383.3 143.3,383.1 143.7,383.0 C144.1,382.9 144.6,382.9 145.0,383.0 C145.4,383.2 145.9,383.8 146.3,383.9 C146.7,383.9 147.2,383.3 147.6,383.3 C148.0,383.3 148.5,383.9 148.9,383.9 C149.3,383.9 149.8,383.5 150.2,383.5 C150.6,383.4 151.1,383.4 151.5,383.6 C151.9,383.8 152.4,384.5 152.8,384.5 C153.2,384.5 153.7,383.7 154.1,383.6 C154.5,383.5 155.0,383.7 155.4,383.8 C155.8,383.9 156.3,384.4 156.7,384.3 C157.1,384.2 157.6,383.3 158.0,383.0 C158.4,382.8 158.9,382.8 159.3,383.0 C159.7,383.2 160.2,384.1 160.6,384.3 C161.0,384.5 161.5,384.3 161.9,384.1 C162.3,383.9 162.8,383.3 163.2,383.1 C163.6,382.9 164.1,382.8 164.5,382.9 C164.9,383.1 165.4,383.7 165.8,383.9 C166.2,384.1 166.7,384.4 167.1,384.2 C167.5,384.1 168.0,382.9 168.4,382.9 C168.8,382.8 169.3,384.0 169.7,384.2 C170.1,384.4 170.6,384.1 171.0,384.0 C171.4,383.9 171.9,383.6 172.3,383.5 C172.7,383.3 173.2,383.3 173.6,383.1 C174.0,383.0 174.5,382.7 174.9,382.5 C175.3,382.4 175.8,382.1 176.2,382.4 C176.6,382.6 177.1,384.0 177.5,384.0 C177.9,384.1 178.4,382.8 178.8,382.7 C179.2,382.6 179.7,383.5 180.1,383.5 C180.5,383.5 181.0,382.6 181.4,382.7 C181.8,382.7 182.3,383.6 182.7,383.6 C183.1,383.7 183.6,383.4 184.0,383.2 C184.4,383.0 184.9,382.8 185.3,382.6 C185.7,382.5 186.2,382.3 186.6,382.4 C187.0,382.5 187.5,383.4 187.9,383.3 C188.3,383.3 188.8,382.3 189.2,382.1 C189.6,382.0 190.1,382.3 190.5,382.4 C190.9,382.5 191.4,382.8 191.8,383.0 C192.2,383.1 192.7,383.5 193.1,383.5 C193.5,383.5 194.0,383.2 194.4,383.0 C194.8,382.8 195.3,382.3 195.7,382.4 C196.1,382.4 196.6,383.5 197.0,383.5 C197.4,383.4 197.9,382.4 198.3,382.2 C198.7,381.9 199.2,381.8 199.6,381.8 C200.0,381.8 200.5,382.1 200.9,382.2 C201.3,382.3 202.0,382.5 202.2,382.5" fill="none" stroke="#86e074" stroke-width="1.4" stroke-linejoin="round"/>
<path d="M20.2,423.2 C20.4,423.2 21.1,423.3 21.5,423.3 C21.9,423.4 22.4,423.4 22.8,423.2 C23.2,423.0 23.7,422.4 24.1,422.2 C24.5,421.9 25.0,421.8 25.4,421.8 C25.8,421.8 26.3,422.3 26.7,422.3 C27.1,422.3 27.6,421.9 28.0,422.0 C28.4,422.1 28.9,422.7 29.3,422.8 C29.7,422.9 30.2,422.6 30.6,422.5 C31.0,422.4 31.5,422.3 31.9,422.2 C32.3,422.1 32.8,422.0 33.2,422.0 C33.6,421.9 34.1,422.2 34.5,422.0 C34.9,421.9 35.4,421.1 35.8,421.0 C36.2,420.8 36.7,421.4 37.1,421.4 C37.5,421.3 38.0,420.6 38.4,420.7 C38.8,420.8 39.3,421.9 39.7,421.8 C40.1,421.7 40.6,420.1 41.0,420.0 C41.4,419.9 41.9,421.2 42.3,421.1 C42.7,421.0 43.2,419.6 43.6,419.4 C44.0,419.3 44.5,420.3 44.9,420.3 C45.3,420.2 45.8,419.5 46.2,419.3 C46.6,419.2 47.1,419.1 47.5,419.2 C47.9,419.2 48.4,419.9 48.8,419.7 C49.2,419.5 49.7,418.2 50.1,417.9 C50.5,417.6 51.0,417.5 51.4,417.7 C51.8,417.8 52.3,418.8 52.7,418.8 C53.1,418.7 53.6,417.8 54.0,417.3 C54.4,416.8 54.9,415.9 55.3,415.8 C55.7,415.7 56.2,416.7 56.6,416.7 C57.0,416.7 57.5,416.2 57.9,415.6 C58.3,415.0 58.8,413.5 59.2,413.0 C59.6,412.4 60.1,412.8 60.5,412.4 C60.9,412.0 61.4,411.2 61.8,410.7 C62.2,410.2 62.7,409.7 63.1,409.3 C63.5,408.9 64.0,408.7 64.4,408.1 C64.8,407.4 65.3,405.9 65.7,405.3 C66.1,404.6 66.6,404.9 67.0,404.1 C67.4,403.3 67.9,401.6 68.3,400.7 C68.7,399.8 69.2,399.1 69.6,398.6 C70.0,398.1 70.5,398.3 70.9,397.6 C71.3,397.0 71.8,395.5 72.2,394.8 C72.6,394.1 73.1,393.8 73.5,393.5 C73.9,393.1 74.4,392.9 74.8,392.6 C75.2,392.4 75.7,392.2 76.1,392.0 C76.5,391.8 77.0,391.7 77.4,391.5 C77.8,391.4 78.3,391.0 78.7,391.2 C79.1,391.4 79.6,392.4 80.0,392.9 C80.4,393.3 80.9,393.6 81.3,393.9 C81.7,394.2 82.2,394.5 82.6,394.6 C83.0,394.8 83.5,394.8 83.9,394.9 C84.3,395.1 84.8,395.1 85.2,395.3 C85.6,395.5 86.1,395.8 86.5,396.3 C86.9,396.7 87.4,397.4 87.8,397.8 C88.2,398.2 88.7,398.5 89.1,398.7 C89.5,398.8 90.0,398.4 90.4,398.5 C90.8,398.6 91.3,399.1 91.7,399.3 C92.1,399.6 92.6,399.9 93.0,400.2 C93.4,400.5 93.9,400.8 94.3,401.1 C94.7,401.4 95.2,402.0 95.6,402.1 C96.0,402.2 96.5,402.0 96.9,401.8 C97.3,401.7 97.8,401.1 98.2,401.3 C98.6,401.4 99.1,402.8 99.5,403.0 C99.9,403.2 100.4,402.5 100.8,402.4 C101.2,402.4 101.7,402.7 102.1,402.6 C102.5,402.6 103.0,402.2 103.4,402.2 C103.8,402.2 104.3,402.5 104.7,402.6 C105.1,402.7 105.6,402.5 106.0,402.6 C106.4,402.7 106.9,403.4 107.3,403.4 C107.7,403.3 108.2,402.3 108.6,402.2 C109.0,402.2 109.5,403.0 109.9,403.1 C110.3,403.1 110.8,402.4 111.2,402.5 C111.6,402.5 112.1,403.5 112.5,403.5 C112.9,403.5 113.4,402.5 113.8,402.4 C114.2,402.3 114.7,402.7 115.1,402.9 C115.5,403.0 116.0,402.9 116.4,403.0 C116.8,403.2 117.3,403.7 117.7,403.6 C118.1,403.6 118.6,402.7 119.0,402.6 C119.4,402.6 119.9,403.4 120.3,403.4 C120.7,403.5 121.2,403.1 121.6,403.1 C122.0,403.0 122.5,403.2 122.9,403.3 C123.3,403.4 123.8,403.4 124.2,403.7 C124.6,403.9 125.1,404.6 125.5,404.6 C125.9,404.6 126.4,403.8 126.8,403.8 C127.2,403.8 127.7,404.8 128.1,404.7 C128.5,404.7 129.0,403.4 129.4,403.4 C129.8,403.4 130.3,404.7 130.7,404.8 C131.1,404.8 131.6,404.0 132.0,403.7 C132.4,403.5 132.9,403.3 133.3,403.4 C133.7,403.5 134.2,404.2 134.6,404.4 C135.0,404.6 135.5,404.9 135.9,404.7 C136.3,404.5 136.8,403.3 137.2,403.1 C137.6,402.9 138.1,403.3 138.5,403.5 C138.9,403.8 139.4,404.4 139.8,404.4 C140.2,404.5 140.7,403.8 141.1,403.7 C141.5,403.5 142.0,403.6 142.4,403.5 C142.8,403.4 143.3,403.1 143.7,403.0 C144.1,403.0 144.6,402.9 145.0,403.1 C145.4,403.3 145.9,403.8 146.3,404.1 C146.7,404.4 147.2,404.7 147.6,404.8 C148.0,404.9 148.5,404.9 148.9,404.8 C149.3,404.6 149.8,404.2 150.2,403.9 C150.6,403.6 151.1,403.1 151.5,403.0 C151.9,403.0 152.4,403.3 152.8,403.6 C153.2,403.8 153.7,404.2 154.1,404.4 C154.5,404.5 155.0,404.5 155.4,404.5 C155.8,404.4 156.3,404.3 156.7,404.1 C157.1,403.9 157.6,403.4 158.0,403.4 C158.4,403.3 158.9,403.8 159.3,403.9 C159.7,404.0 160.2,403.8 160.6,403.8 C161.0,403.8 161.5,404.1 161.9,404.1 C162.3,404.0 162.8,403.3 163.2,403.4 C163.6,403.5 164.1,404.4 164.5,404.6 C164.9,404.8 165.4,404.8 165.8,404.5 C166.2,404.3 166.7,403.4 167.1,403.2 C167.5,403.0 168.0,403.2 168.4,403.4 C168.8,403.6 169.3,404.5 169.7,404.5 C170.1,404.4 170.6,403.4 171.0,403.4 C171.4,403.4 171.9,404.5 172.3,404.6 C172.7,404.6 173.2,403.9 173.6,403.8 C174.0,403.7 174.5,404.1 174.9,404.1 C175.3,404.2 175.8,404.3 176.2,404.1 C176.6,404.0 177.1,403.4 177.5,403.2 C177.9,403.1 178.4,403.3 178.8,403.3 C179.2,403.4 179.7,403.2 180.1,403.3 C180.5,403.4 181.0,403.9 181.4,404.0 C181.8,404.2 182.3,404.2 182.7,404.1 C183.1,403.9 183.6,403.0 184.0,403.0 C184.4,403.1 184.9,404.3 185.3,404.4 C185.7,404.5 186.2,403.7 186.6,403.5 C187.0,403.3 187.5,403.2 187.9,403.2 C188.3,403.2 188.8,403.3 189.2,403.6 C189.6,403.8 190.1,404.5 190.5,404.5 C190.9,404.6 191.4,403.9 191.8,403.8 C192.2,403.7 192.7,403.8 193.1,403.9 C193.5,404.0 194.0,404.3 194.4,404.4 C194.8,404.5 195.3,404.5 195.7,404.5 C196.1,404.4 196.6,404.3 197.0,404.1 C197.4,403.9 197.9,403.5 198.3,403.5 C198.7,403.4 199.2,403.6 199.6,403.8 C200.0,403.9 200.5,404.3 200.9,404.3 C201.3,404.4 202.0,404.2 202.2,404.1" fill="none" stroke="#ec8080" stroke-width="1.4" stroke-linejoin="round"/>
<path d="M20.2,442.9 C23.3,442.5 33.7,441.5 38.7,440.6 C43.7,439.7 47.7,438.5 50.3,437.6 C52.9,436.7 53.2,436.2 54.5,435.3 C55.8,434.4 56.8,433.3 58.0,431.9 C59.2,430.5 60.7,428.8 62.0,427.0 C63.3,425.2 64.7,422.9 65.8,421.3 C66.9,419.7 67.5,418.5 68.5,417.3 C69.5,416.1 70.8,415.0 71.6,414.3 C72.4,413.6 72.9,413.3 73.5,413.0 C74.1,412.7 74.7,412.5 75.4,412.6 C76.2,412.7 77.0,413.0 78.0,413.6 C79.0,414.2 80.0,415.2 81.2,416.2 C82.4,417.2 83.7,418.5 85.0,419.5 C86.3,420.5 87.5,421.2 89.0,422.0 C90.5,422.8 92.2,423.5 94.0,424.0 C95.8,424.5 94.0,424.8 100.0,425.0 C106.0,425.2 120.0,425.2 130.0,425.0 C140.0,424.8 147.9,424.2 160.0,423.8 C172.1,423.4 195.5,422.7 202.6,422.5" fill="none" stroke="#6cb0f4" stroke-width="1.4" stroke-linejoin="round"/>
<path d="M20.2,461.9 C23.3,461.5 33.7,460.4 38.7,459.6 C43.7,458.8 47.5,457.9 50.3,457.1 C53.1,456.3 53.9,455.8 55.5,454.8 C57.1,453.8 58.8,452.5 60.0,451.3 C61.2,450.1 62.0,448.6 63.0,447.5 C64.0,446.4 65.0,445.4 65.8,444.6 C66.6,443.8 67.2,443.2 68.0,442.7 C68.8,442.2 69.5,441.9 70.6,441.5 C71.7,441.1 73.3,440.6 74.5,440.5 C75.7,440.4 76.9,440.8 78.0,441.0 C79.1,441.2 79.9,441.3 81.2,441.6 C82.5,441.9 84.4,442.3 86.0,442.6 C87.6,442.9 88.6,443.1 90.9,443.4 C93.2,443.7 95.2,444.2 100.0,444.4 C104.8,444.5 113.3,444.4 120.0,444.3 C126.7,444.2 134.2,444.1 140.0,443.8 C145.8,443.6 150.0,443.0 155.0,442.8 C160.0,442.6 165.0,442.4 170.0,442.4 C175.0,442.4 179.6,442.9 185.0,443.0 C190.4,443.1 199.7,443.0 202.6,443.0" fill="none" stroke="#c596da" stroke-width="1.4" stroke-linejoin="round"/>
<rect x="20.5" y="326.5" width="182.2" height="138.8" fill="none" stroke="#666" stroke-width="1.1"/>
<line x1="20.5" y1="465.3" x2="20.5" y2="467.7" stroke="#666" stroke-width="1"/>
<text x="20.5" y="476.1" font-size="8.60" font-weight="bold" fill="#111" text-anchor="middle" textLength="22.3" lengthAdjust="spacingAndGlyphs" stroke="#111" stroke-width="0.28">11550</text>
<line x1="50.9" y1="465.3" x2="50.9" y2="467.7" stroke="#666" stroke-width="1"/>
<text x="50.9" y="476.1" font-size="8.60" font-weight="bold" fill="#111" text-anchor="middle" textLength="22.3" lengthAdjust="spacingAndGlyphs" stroke="#111" stroke-width="0.28">11560</text>
<line x1="81.2" y1="465.3" x2="81.2" y2="467.7" stroke="#666" stroke-width="1"/>
<text x="81.2" y="476.1" font-size="8.60" font-weight="bold" fill="#111" text-anchor="middle" textLength="22.3" lengthAdjust="spacingAndGlyphs" stroke="#111" stroke-width="0.28">11570</text>
<line x1="111.6" y1="465.3" x2="111.6" y2="467.7" stroke="#666" stroke-width="1"/>
<text x="111.6" y="476.1" font-size="8.60" font-weight="bold" fill="#111" text-anchor="middle" textLength="22.3" lengthAdjust="spacingAndGlyphs" stroke="#111" stroke-width="0.28">11580</text>
<line x1="142.0" y1="465.3" x2="142.0" y2="467.7" stroke="#666" stroke-width="1"/>
<text x="142.0" y="476.1" font-size="8.60" font-weight="bold" fill="#111" text-anchor="middle" textLength="22.3" lengthAdjust="spacingAndGlyphs" stroke="#111" stroke-width="0.28">11590</text>
<line x1="172.3" y1="465.3" x2="172.3" y2="467.7" stroke="#666" stroke-width="1"/>
<text x="172.3" y="476.1" font-size="8.60" font-weight="bold" fill="#111" text-anchor="middle" textLength="22.3" lengthAdjust="spacingAndGlyphs" stroke="#111" stroke-width="0.28">11600</text>
<line x1="202.7" y1="465.3" x2="202.7" y2="467.7" stroke="#666" stroke-width="1"/>
<text x="202.7" y="476.1" font-size="8.60" font-weight="bold" fill="#111" text-anchor="middle" textLength="22.3" lengthAdjust="spacingAndGlyphs" stroke="#111" stroke-width="0.28">11610</text>
<line x1="81" y1="330.2" x2="70" y2="447.4" stroke="#505050" stroke-width="1.3" stroke-dasharray="4.0,2.4"/>
<text x="194.3" y="351.8" font-size="10.50" font-weight="bold" fill="#111" text-anchor="end"  stroke="#111" stroke-width="0.28">PtO<tspan font-size="7" dy="2.5">2</tspan></text>
<text x="196.8" y="378.8" font-size="10.50" font-weight="bold" fill="#111" text-anchor="end"  stroke="#111" stroke-width="0.28">0.02Pt/MAO</text>
<text x="196.8" y="399.4" font-size="10.50" font-weight="bold" fill="#111" text-anchor="end"  stroke="#111" stroke-width="0.28">0.05Pt/MAO</text>
<text x="196.8" y="418.9" font-size="10.50" font-weight="bold" fill="#111" text-anchor="end"  stroke="#111" stroke-width="0.28">0.15Pt/MAO</text>
<text x="194.4" y="439.5" font-size="10.50" font-weight="bold" fill="#111" text-anchor="end"  stroke="#111" stroke-width="0.28">Pt foil</text>
<text x="114.3" y="491.8" font-size="10.80" font-weight="bold" fill="#111" text-anchor="middle"  stroke="#111" stroke-width="0.28">Energy (eV)</text>
<text transform="translate(10.3,394.5) rotate(-90)" x="0" y="0" font-size="11" font-weight="bold" fill="#111" text-anchor="middle">Intensity (arb. units)</text>
<text x="214.3" y="332.1" font-size="16.00" font-weight="bold" fill="#000" text-anchor="start"  stroke="#000" stroke-width="0.28">d</text>
<path d="M235.4,349.9 C236.2,349.8 238.6,349.2 240.0,349.0 C241.4,348.8 242.6,348.9 243.9,348.6 C245.2,348.3 246.8,347.6 248.0,347.2 C249.2,346.8 250.1,346.2 251.0,346.0 C251.9,345.8 252.8,345.7 253.6,345.8 C254.4,345.9 255.2,346.4 256.0,346.5 C256.8,346.6 257.4,346.6 258.4,346.3 C259.4,346.0 260.8,345.1 262.0,344.5 C263.2,343.9 264.5,343.2 265.6,342.5 C266.7,341.8 267.5,341.0 268.5,340.0 C269.5,339.0 270.5,337.7 271.7,336.4 C272.9,335.1 274.8,332.7 275.8,332.4 C276.9,332.1 277.3,333.4 278.0,334.5 C278.7,335.6 279.4,337.5 280.2,339.0 C280.9,340.5 281.7,342.1 282.5,343.5 C283.3,344.9 284.2,346.6 285.0,347.3 C285.8,348.0 286.5,347.7 287.3,347.5 C288.1,347.3 289.1,346.3 289.8,346.3 C290.5,346.3 290.9,346.9 291.5,347.5 C292.1,348.1 292.8,349.5 293.5,349.7 C294.2,349.9 295.0,349.1 296.0,348.5 C297.0,347.9 298.5,346.6 299.5,346.3 C300.5,346.0 301.2,346.8 302.0,346.8 C302.8,346.8 303.6,346.9 304.4,346.3 C305.2,345.8 306.2,344.2 307.0,343.5 C307.8,342.8 308.4,342.0 309.2,341.9 C309.9,341.8 310.7,342.3 311.5,343.0 C312.3,343.7 313.0,345.2 313.8,346.0 C314.6,346.8 315.6,347.8 316.5,347.5 C317.4,347.2 318.5,345.0 319.5,344.0 C320.5,343.0 321.6,341.8 322.5,341.5 C323.4,341.2 324.1,341.7 325.0,342.5 C325.9,343.3 327.0,345.3 328.0,346.5 C329.0,347.7 330.1,349.5 330.9,349.8 C331.7,350.1 332.3,348.9 333.0,348.5 C333.7,348.1 334.3,347.5 335.0,347.5 C335.7,347.5 336.5,348.1 337.2,348.5 C337.9,348.9 338.3,349.8 339.4,349.8 C340.5,349.8 342.6,348.6 344.0,348.7 C345.4,348.8 346.7,350.2 348.0,350.3 C349.3,350.4 350.7,349.3 352.0,349.4 C353.3,349.4 354.7,350.6 356.0,350.6 C357.3,350.6 358.5,349.6 360.0,349.6 C361.5,349.6 363.3,350.8 365.0,350.8 C366.7,350.8 368.3,349.8 370.0,349.8 C371.7,349.8 373.2,350.7 375.0,350.6 C376.8,350.5 379.0,349.4 381.0,349.4 C383.0,349.4 385.0,350.5 387.0,350.6 C389.0,350.7 391.0,349.8 393.0,349.9 C395.0,349.9 397.0,350.9 399.0,350.9 C401.0,350.9 403.0,350.0 405.0,350.0 C407.0,350.0 409.1,350.7 411.0,350.8 C412.9,350.9 415.7,350.6 416.6,350.5" fill="none" stroke="#f0b468" stroke-width="1.35" stroke-linejoin="round"/>
<path d="M235.4,379.0 C237.6,378.8 245.6,378.2 248.7,377.6 C251.8,377.0 252.4,376.4 254.0,375.6 C255.6,374.8 256.9,373.8 258.4,372.9 C259.9,372.0 261.4,371.2 263.0,370.4 C264.6,369.6 265.8,368.7 268.0,368.1 C270.2,367.5 274.2,366.8 276.5,366.8 C278.8,366.8 280.2,367.4 282.0,367.9 C283.8,368.4 285.6,369.4 287.4,370.0 C289.2,370.6 291.0,371.2 293.0,371.8 C295.0,372.4 296.4,372.8 299.5,373.4 C302.6,374.0 308.0,374.5 311.6,375.3 C315.2,376.1 317.4,377.5 321.3,378.0 C325.2,378.5 328.6,378.4 335.0,378.4 C341.4,378.4 351.7,377.9 360.0,378.0 C368.3,378.1 375.6,378.7 385.0,378.8 C394.4,378.9 411.3,378.6 416.6,378.5" fill="none" stroke="#86e074" stroke-width="1.35" stroke-linejoin="round"/>
<path d="M235.4,405.6 C236.2,405.4 238.6,404.8 240.0,404.6 C241.4,404.4 242.7,404.3 243.9,404.4 C245.1,404.5 246.0,405.0 247.0,405.2 C248.0,405.4 248.7,406.0 249.9,405.4 C251.1,404.8 252.6,402.9 254.0,401.5 C255.4,400.1 256.9,398.6 258.4,397.1 C259.9,395.7 261.4,394.0 263.0,392.8 C264.6,391.6 266.6,390.6 268.0,389.9 C269.4,389.2 270.3,389.0 271.5,388.8 C272.7,388.6 273.9,388.3 275.3,388.6 C276.7,388.9 278.4,389.7 280.0,390.5 C281.6,391.3 283.3,392.4 285.0,393.5 C286.7,394.6 288.4,395.9 290.0,397.0 C291.6,398.1 293.0,399.2 294.7,400.0 C296.4,400.8 298.0,401.2 300.0,401.6 C302.0,402.0 305.1,401.9 306.8,402.4 C308.6,402.9 309.3,403.9 310.5,404.5 C311.7,405.1 312.8,406.3 314.0,406.3 C315.2,406.3 316.3,405.0 317.5,404.5 C318.7,404.0 319.2,403.5 321.3,403.2 C323.4,402.9 326.9,402.7 330.0,402.5 C333.1,402.3 335.0,401.9 340.0,402.0 C345.0,402.1 353.3,402.7 360.0,403.0 C366.7,403.3 373.3,403.5 380.0,403.8 C386.7,404.1 393.9,404.5 400.0,404.8 C406.1,405.1 413.8,405.5 416.6,405.6" fill="none" stroke="#ec8080" stroke-width="1.35" stroke-linejoin="round"/>
<path d="M235.3,432.9 C235.9,432.8 237.7,432.0 239.0,432.1 C240.3,432.2 241.5,434.0 243.0,433.7 C244.5,433.4 246.1,430.6 247.8,430.5 C249.5,430.4 251.1,434.2 253.0,432.9 C254.9,431.6 257.4,424.6 259.1,422.5 C260.8,420.4 261.9,420.1 263.1,420.6 C264.3,421.1 265.1,426.1 266.3,425.4 C267.5,424.6 268.9,418.8 270.3,416.1 C271.7,413.4 273.5,409.6 274.8,409.3 C276.1,409.0 277.3,412.6 278.4,414.5 C279.5,416.4 280.3,420.2 281.6,420.6 C282.9,421.0 284.9,416.3 286.4,416.9 C287.9,417.5 289.1,421.6 290.4,424.1 C291.7,426.6 293.1,431.7 294.4,432.1 C295.7,432.5 297.1,427.4 298.4,426.5 C299.7,425.6 301.2,426.4 302.4,426.5 C303.6,426.6 304.5,427.5 305.7,427.3 C306.9,427.1 308.4,425.1 309.7,425.4 C311.0,425.7 312.4,427.6 313.7,428.9 C315.0,430.1 316.2,432.8 317.7,432.9 C319.2,433.0 320.8,429.6 322.5,429.7 C324.2,429.8 326.0,433.8 328.1,433.7 C330.2,433.6 332.6,429.5 335.4,429.2 C338.2,428.9 341.7,431.5 345.0,432.1 C348.3,432.7 351.8,432.5 355.0,432.8 C358.2,433.1 361.8,434.0 364.5,433.9 C367.2,433.8 368.8,432.7 371.0,432.2 C373.2,431.7 375.2,431.0 378.0,431.0 C380.8,431.0 384.8,431.9 388.0,432.2 C391.2,432.5 394.2,432.9 397.0,432.9 C399.8,432.9 401.7,432.5 405.0,432.3 C408.3,432.1 415.0,432.0 417.0,431.9" fill="none" stroke="#6cb0f4" stroke-width="1.35" stroke-linejoin="round"/>
<path d="M235.3,459.4 C237.9,459.4 247.0,459.5 251.0,459.4 C255.0,459.3 256.4,458.7 259.1,458.6 C261.8,458.5 264.7,458.7 267.1,458.6 C269.5,458.5 271.6,457.6 273.5,457.8 C275.4,458.0 276.2,460.6 278.4,459.7 C280.5,458.8 284.3,453.0 286.4,452.2 C288.5,451.4 289.5,455.2 291.2,454.6 C292.9,454.0 294.8,450.3 296.5,448.5 C298.2,446.7 299.9,444.1 301.6,443.7 C303.3,443.2 304.8,445.3 306.5,445.8 C308.2,446.3 310.6,445.7 312.1,446.6 C313.6,447.5 314.4,449.4 315.5,451.0 C316.6,452.6 316.9,455.2 318.5,456.2 C320.1,457.2 323.0,456.7 324.9,457.0 C326.8,457.3 327.7,458.4 329.7,458.1 C331.7,457.8 334.4,455.6 337.0,455.4 C339.6,455.2 342.8,456.4 345.0,457.0 C347.2,457.6 348.4,459.1 350.0,459.0 C351.6,458.9 353.1,457.2 354.5,456.5 C355.9,455.8 357.2,454.6 358.7,454.6 C360.2,454.6 361.9,455.9 363.5,456.5 C365.1,457.1 366.8,458.1 368.4,458.0 C370.0,457.9 371.4,456.6 373.0,456.0 C374.6,455.4 376.3,454.7 378.0,454.6 C379.7,454.5 381.3,455.0 383.0,455.2 C384.7,455.4 385.7,455.7 388.0,456.0 C390.3,456.3 393.7,456.6 397.0,457.1 C400.3,457.6 404.7,458.6 408.0,459.0 C411.3,459.4 415.5,459.2 417.0,459.2" fill="none" stroke="#c596da" stroke-width="1.35" stroke-linejoin="round"/>
<rect x="235.6" y="327.1" width="181.5" height="137.3" fill="none" stroke="#666" stroke-width="1.1"/>
<line x1="258.4" y1="464.4" x2="258.4" y2="467.0" stroke="#666" stroke-width="1"/>
<text x="258.4" y="475.8" font-size="8.60" font-weight="bold" fill="#111" text-anchor="middle"  stroke="#111" stroke-width="0.28">1</text>
<line x1="287.2" y1="464.4" x2="287.2" y2="467.0" stroke="#666" stroke-width="1"/>
<text x="287.2" y="475.8" font-size="8.60" font-weight="bold" fill="#111" text-anchor="middle"  stroke="#111" stroke-width="0.28">2</text>
<line x1="316.1" y1="464.4" x2="316.1" y2="467.0" stroke="#666" stroke-width="1"/>
<text x="316.1" y="475.8" font-size="8.60" font-weight="bold" fill="#111" text-anchor="middle"  stroke="#111" stroke-width="0.28">3</text>
<line x1="344.9" y1="464.4" x2="344.9" y2="467.0" stroke="#666" stroke-width="1"/>
<text x="344.9" y="475.8" font-size="8.60" font-weight="bold" fill="#111" text-anchor="middle"  stroke="#111" stroke-width="0.28">4</text>
<line x1="373.7" y1="464.4" x2="373.7" y2="467.0" stroke="#666" stroke-width="1"/>
<text x="373.7" y="475.8" font-size="8.60" font-weight="bold" fill="#111" text-anchor="middle"  stroke="#111" stroke-width="0.28">5</text>
<line x1="402.5" y1="464.4" x2="402.5" y2="467.0" stroke="#666" stroke-width="1"/>
<text x="402.5" y="475.8" font-size="8.60" font-weight="bold" fill="#111" text-anchor="middle"  stroke="#111" stroke-width="0.28">6</text>
<line x1="276.2" y1="330.6" x2="276.4" y2="427.1" stroke="#505050" stroke-width="1.3" stroke-dasharray="4.0,2.4"/>
<line x1="306.6" y1="391" x2="306.6" y2="462.5" stroke="#505050" stroke-width="1.3" stroke-dasharray="4.0,2.4"/>
<text x="405.9" y="342.5" font-size="10.50" font-weight="bold" fill="#111" text-anchor="end"  stroke="#111" stroke-width="0.28">PtO<tspan font-size="7" dy="2.5">2</tspan></text>
<text x="412.2" y="374.1" font-size="10.50" font-weight="bold" fill="#111" text-anchor="end"  stroke="#111" stroke-width="0.28">0.02Pt/MAO</text>
<text x="412.2" y="401.5" font-size="10.50" font-weight="bold" fill="#111" text-anchor="end"  stroke="#111" stroke-width="0.28">0.05Pt/MAO</text>
<text x="413.9" y="428.1" font-size="10.50" font-weight="bold" fill="#111" text-anchor="end"  stroke="#111" stroke-width="0.28">0.15Pt/MAO</text>
<text x="409.0" y="451.3" font-size="10.50" font-weight="bold" fill="#111" text-anchor="end"  stroke="#111" stroke-width="0.28">Pt foil</text>
<text x="247.5" y="365.2" font-size="10.50" font-weight="bold" fill="#111" text-anchor="start"  stroke="#111" stroke-width="0.28">Pt-O</text>
<text x="314.2" y="421.7" font-size="10.50" font-weight="bold" fill="#111" text-anchor="start"  stroke="#111" stroke-width="0.28">Pt-Pt</text>
<text x="329.8" y="492.1" font-size="11.20" font-weight="bold" fill="#111" text-anchor="middle"  stroke="#111" stroke-width="0.28">R (Å)</text>
<text transform="translate(223.0,396.0) rotate(-90)" x="0" y="0" font-family="Liberation Serif, serif" font-size="14.2" font-weight="bold" fill="#111" text-anchor="middle">FTκ<tspan font-size="8" dy="-5">3</tspan><tspan dy="5">χ(κ)</tspan></text>
<text x="429.9" y="332.0" font-size="16.40" font-weight="bold" fill="#000" text-anchor="start"  stroke="#000" stroke-width="0.28">e</text>
<rect x="460.0" y="328.3" width="71.0" height="3.8" fill="url(#cb)"/>
<text x="460.0" y="325.2" font-size="10.40" font-weight="bold" fill="#111" text-anchor="start"  stroke="#111" stroke-width="0.28">0</text>
<text x="531.3" y="325.2" font-size="10.50" font-weight="bold" fill="#111" text-anchor="end"  stroke="#111" stroke-width="0.28">0.31</text>
<rect x="534.8" y="328.3" width="71.7" height="3.8" fill="url(#cb)"/>
<text x="534.8" y="325.2" font-size="10.40" font-weight="bold" fill="#111" text-anchor="start"  stroke="#111" stroke-width="0.28">0</text>
<text x="606.8" y="325.2" font-size="10.50" font-weight="bold" fill="#111" text-anchor="end"  stroke="#111" stroke-width="0.28">0.52</text>
<rect x="612.2" y="328.3" width="69.9" height="3.8" fill="url(#cb)"/>
<text x="612.2" y="325.2" font-size="10.40" font-weight="bold" fill="#111" text-anchor="start"  stroke="#111" stroke-width="0.28">0</text>
<text x="682.4" y="325.2" font-size="10.50" font-weight="bold" fill="#111" text-anchor="end"  stroke="#111" stroke-width="0.28">0.82</text>
<g clip-path="url(#h0)">
<rect x="459.9" y="338.4" width="72.3" height="126.4" fill="#4b80c0"/>
<g filter="url(#bl6)">
<ellipse cx="480.0" cy="352.0" rx="16.0" ry="9.0" fill="#6a9ed4" opacity="1.00" transform="rotate(0 480.0 352.0)"/>
<ellipse cx="522.0" cy="372.0" rx="14.0" ry="30.0" fill="#8cc0e6" opacity="1.00" transform="rotate(0 522.0 372.0)"/>
<ellipse cx="505.0" cy="398.0" rx="30.0" ry="7.0" fill="#8cbfe6" opacity="1.00" transform="rotate(0 505.0 398.0)"/>
<ellipse cx="470.0" cy="398.0" rx="12.0" ry="8.0" fill="#8cbfe6" opacity="1.00" transform="rotate(0 470.0 398.0)"/>
</g>
<g filter="url(#bl3)">
<ellipse cx="466.0" cy="364.0" rx="4.0" ry="5.0" fill="#2c5a98" opacity="1.00" transform="rotate(0 466.0 364.0)"/>
<ellipse cx="489.2" cy="378.3" rx="4.5" ry="4.0" fill="#2c5a98" opacity="1.00" transform="rotate(0 489.2 378.3)"/>
<ellipse cx="499.3" cy="362.2" rx="4.0" ry="4.5" fill="#2c5a98" opacity="1.00" transform="rotate(0 499.3 362.2)"/>
<ellipse cx="511.4" cy="390.4" rx="5.0" ry="3.5" fill="#2c5a98" opacity="1.00" transform="rotate(0 511.4 390.4)"/>
<ellipse cx="522.5" cy="406.6" rx="6.0" ry="3.0" fill="#2c5a98" opacity="1.00" transform="rotate(0 522.5 406.6)"/>
<ellipse cx="527.0" cy="425.0" rx="8.0" ry="2.5" fill="#2c5a98" opacity="1.00" transform="rotate(0 527.0 425.0)"/>
<ellipse cx="464.0" cy="392.0" rx="3.0" ry="4.0" fill="#2c5a98" opacity="1.00" transform="rotate(0 464.0 392.0)"/>
</g>
<g filter="url(#bl2)">
<path d="M459,424 C460,410 472,402 484,393 C490,388 496,389 502,397 C508,405 520,409 534,412 L534,423 C522,424 510,428 498,431 C482,434 464,433 459,430 Z" fill="#eef7f8" opacity="1.00"/>
<path d="M460,422 C462,411 474,404 485,396 C491,392 496,393 501,400 C507,407 517,411 528,414 C518,419 508,424 497,427 C482,430 465,429 460,426 Z" fill="#f7e394" opacity="1.00"/>
<path d="M463,421 C466,412 477,406 487,400 C492,397 496,398 500,403 C505,409 513,413 521,415.5 C512,419 504,422.5 495,425 C482,427 468,426 463,423.5 Z" fill="#f19a44" opacity="1.00"/>
<path d="M468,420 C471,414 480,409 488,405 C492,403 496,404 499,408 C503,412 508,415 513,416.5 C506,419 500,421.5 493,423 C483,424.5 472,424 468,422 Z" fill="#dc3d28" opacity="1.00"/>
</g>
<g filter="url(#bl2)">
<path d="M533,421 C525,421 516,423 511,425.5 C516,428 525,429 533,429 Z" fill="#2c5a98" opacity="1.00"/>
</g>
<rect x="459.9" y="434.5" width="72.3" height="30.3" fill="#3e6399"/>
<g filter="url(#bl1)">
<rect x="459.9" y="434.5" width="72.3" height="2.5" fill="#5585bf"/>
<rect x="459.9" y="439.5" width="72.3" height="4.0" fill="#385d93"/>
<rect x="459.9" y="446.5" width="72.3" height="3.0" fill="#41679e"/>
<rect x="459.9" y="452.5" width="72.3" height="3.0" fill="#3a5f95"/>
<rect x="459.9" y="458.5" width="72.3" height="2.5" fill="#43699f"/>
</g>
</g>
<g clip-path="url(#h1)">
<rect x="535.0" y="338.4" width="73" height="126.4" fill="#4b80c0"/>
<g filter="url(#bl6)">
<ellipse cx="588.0" cy="372.0" rx="16.0" ry="22.0" fill="#c4e2f2" opacity="1.00" transform="rotate(0 588.0 372.0)"/>
<ellipse cx="545.0" cy="390.0" rx="12.0" ry="12.0" fill="#9ccaea" opacity="1.00" transform="rotate(0 545.0 390.0)"/>
<ellipse cx="552.0" cy="352.0" rx="12.0" ry="8.0" fill="#6a9ed4" opacity="1.00" transform="rotate(0 552.0 352.0)"/>
</g>
<g filter="url(#bl3)">
<ellipse cx="573.3" cy="360.2" rx="4.0" ry="4.0" fill="#2c5a98" opacity="1.00" transform="rotate(0 573.3 360.2)"/>
<ellipse cx="550.1" cy="373.3" rx="4.5" ry="4.0" fill="#2c5a98" opacity="1.00" transform="rotate(0 550.1 373.3)"/>
<ellipse cx="563.2" cy="382.4" rx="4.0" ry="3.5" fill="#2c5a98" opacity="1.00" transform="rotate(0 563.2 382.4)"/>
<ellipse cx="586.4" cy="396.5" rx="6.0" ry="3.0" fill="#2c5a98" opacity="1.00" transform="rotate(0 586.4 396.5)"/>
<ellipse cx="539.0" cy="407.6" rx="3.0" ry="3.0" fill="#2c5a98" opacity="1.00" transform="rotate(0 539.0 407.6)"/>
<ellipse cx="592.0" cy="425.0" rx="12.0" ry="2.5" fill="#2c5a98" opacity="1.00" transform="rotate(0 592.0 425.0)"/>
</g>
<g filter="url(#bl2)">
<path d="M535,420 C536,406 548,398 562,396 C578,394 595,397 604,404 C609,409 604,416 594,419 C580,422 566,425 552,432 C543,436 535,434 535,428 Z" fill="#eef7f8" opacity="1.00"/>
<path d="M536,420 C538,408 550,400 563,398.5 C578,397 593,400 600,405 C604,409 600,414 591,417 C578,420 565,423 552,429 C544,432 537,429 536,424 Z" fill="#f7e394" opacity="1.00"/>
<path d="M541,419 C544,410 554,403 565,401.5 C578,400.5 590,403 595,406.5 C598,409.5 594,413 587,415.5 C576,418.5 565,421 554,425 C547,426.5 542,424 541,421 Z" fill="#f19a44" opacity="1.00"/>
<ellipse cx="568.0" cy="413.5" rx="19.0" ry="7.0" fill="#dc3d28" opacity="1.00" transform="rotate(0 568.0 413.5)"/>
</g>
<rect x="535.0" y="436.0" width="73.0" height="28.8" fill="#3e6399"/>
<g filter="url(#bl1)">
<rect x="535.0" y="436.0" width="73.0" height="2.5" fill="#5585bf"/>
<rect x="535.0" y="441.0" width="73.0" height="4.0" fill="#385d93"/>
<rect x="535.0" y="448.0" width="73.0" height="3.0" fill="#41679e"/>
<rect x="535.0" y="454.0" width="73.0" height="3.0" fill="#3a5f95"/>
<rect x="535.0" y="460.0" width="73.0" height="2.5" fill="#43699f"/>
</g>
</g>
<g clip-path="url(#h2)">
<rect x="611.1" y="338.4" width="74" height="126.4" fill="#4b80c0"/>
<g filter="url(#bl2)">
<rect x="616" y="336" width="10" height="62" fill="#8cc0e6"/>
<rect x="640" y="336" width="17" height="40" fill="#c4e2f2"/>
<rect x="611" y="334" width="74" height="8" fill="#8cc0e6" opacity="0.6"/>
<ellipse cx="630.0" cy="372.0" rx="4.0" ry="24.0" fill="#2c5a98" opacity="1.00" transform="rotate(0 630.0 372.0)"/>
<ellipse cx="663.0" cy="384.0" rx="3.2" ry="13.0" fill="#2c5a98" opacity="1.00" transform="rotate(0 663.0 384.0)"/>
<ellipse cx="613.0" cy="385.0" rx="3.0" ry="25.0" fill="#3f70b0" opacity="1.00" transform="rotate(0 613.0 385.0)"/>
<ellipse cx="647.0" cy="386.0" rx="8.0" ry="18.0" fill="#f7e394" opacity="1.00" transform="rotate(0 647.0 386.0)"/>
<ellipse cx="647.0" cy="391.0" rx="7.0" ry="13.0" fill="#f19a44" opacity="1.00" transform="rotate(0 647.0 391.0)"/>
<ellipse cx="676.0" cy="352.0" rx="15.0" ry="18.0" fill="#f7e394" opacity="1.00" transform="rotate(0 676.0 352.0)"/>
<ellipse cx="675.0" cy="370.0" rx="14.0" ry="32.0" fill="#f19a44" opacity="1.00" transform="rotate(0 675.0 370.0)"/>
<ellipse cx="677.0" cy="380.0" rx="10.0" ry="28.0" fill="#dc3d28" opacity="1.00" transform="rotate(0 677.0 380.0)"/>
</g>
<g filter="url(#bl2)">
<path d="M612,425 C613,408 620,398 632,393 C645,390 658,391 666,390 L686,390 L686,431 C668,432 648,431 630,431 C619,431 612,430 612,425 Z" fill="#e4f2f4" opacity="1.00"/>
<path d="M614,424 C615,409 622,399 634,395 C646,392.5 658,393 667,392.5 L686,392.5 L686,429 C668,430 648,429 631,429 C620,429 614,428 614,424 Z" fill="#f7e394" opacity="1.00"/>
<path d="M618,423 C620,410 627,401 637,398 C648,395.5 659,396 668,395.5 L686,395.5 L686,426.5 C668,427.5 648,427 633,426.5 C623,426 618,425.5 618,423 Z" fill="#f19a44" opacity="1.00"/>
<path d="M624,421 C626,411 632,403 642,401 C652,399.5 661,400 668,399.5 L686,399.5 L686,423.5 C670,424.5 652,424 638,423.5 C630,423 624,422.5 624,421 Z" fill="#dc3d28" opacity="1.00"/>
</g>
<rect x="611.1" y="432.0" width="73.9" height="32.8" fill="#3e6399"/>
<g filter="url(#bl1)">
<rect x="611.1" y="432.0" width="73.9" height="2.5" fill="#5585bf"/>
<rect x="611.1" y="437.0" width="73.9" height="4.0" fill="#385d93"/>
<rect x="611.1" y="444.0" width="73.9" height="3.0" fill="#41679e"/>
<rect x="611.1" y="450.0" width="73.9" height="3.0" fill="#3a5f95"/>
<rect x="611.1" y="456.0" width="73.9" height="2.5" fill="#43699f"/>
</g>
<g filter="url(#bl3)">
<ellipse cx="641.7" cy="436.6" rx="6.0" ry="2.0" fill="#2f5288" opacity="1.00" transform="rotate(0 641.7 436.6)"/>
<ellipse cx="675.0" cy="441.0" rx="8.0" ry="2.0" fill="#2f5288" opacity="1.00" transform="rotate(0 675.0 441.0)"/>
<path d="M690,446 C670,447 655,452 650,456 C655,462 670,466 690,466 Z" fill="#5b8ac6" opacity="1.00"/>
<ellipse cx="640.0" cy="447.0" rx="25.0" ry="5.0" fill="#355a8f" opacity="1.00" transform="rotate(0 640.0 447.0)"/>
</g>
</g>
<text x="466.6" y="353.2" font-size="10.20" font-weight="bold" fill="#fff" text-anchor="start"  stroke="#fff" stroke-width="0.28">0.02Pt/MAO</text>
<text x="541.3" y="353.2" font-size="10.20" font-weight="bold" fill="#fff" text-anchor="start"  stroke="#fff" stroke-width="0.28">0.05Pt/MAO</text>
<text x="616.1" y="353.2" font-size="10.20" font-weight="bold" fill="#fff" text-anchor="start"  stroke="#fff" stroke-width="0.28">0.15Pt/MAO</text>
<text x="489.8" y="419.6" font-size="10.60" font-weight="bold" fill="#1a1a1a" text-anchor="middle"  stroke="#1a1a1a" stroke-width="0.28">Pt-O</text>
<text x="570.8" y="415.8" font-size="10.60" font-weight="bold" fill="#1a1a1a" text-anchor="middle"  stroke="#1a1a1a" stroke-width="0.28">Pt-O</text>
<text x="650.9" y="418.8" font-size="10.60" font-weight="bold" fill="#1a1a1a" text-anchor="middle"  stroke="#1a1a1a" stroke-width="0.28">Pt-O</text>
<text x="586.4" y="380.5" font-size="10.60" font-weight="bold" fill="#1a1a1a" text-anchor="middle"  stroke="#1a1a1a" stroke-width="0.28">Pt-Pt</text>
<text x="668.0" y="374.5" font-size="10.60" font-weight="bold" fill="#1a1a1a" text-anchor="middle"  stroke="#1a1a1a" stroke-width="0.28">Pt-Pt</text>
<line x1="459.8" y1="338" x2="459.8" y2="465.5" stroke="#888" stroke-width="0.8"/>
<line x1="459.8" y1="465.5" x2="532.3" y2="465.5" stroke="#888" stroke-width="0.8"/>
<line x1="456.3" y1="464.4" x2="459.8" y2="464.4" stroke="#888" stroke-width="0.8"/>
<text x="455.8" y="467.3" font-size="7.40" font-weight="bold" fill="#111" text-anchor="end"  stroke="#111" stroke-width="0.28">0</text>
<line x1="456.3" y1="432.9" x2="459.8" y2="432.9" stroke="#888" stroke-width="0.8"/>
<text x="455.8" y="435.8" font-size="7.40" font-weight="bold" fill="#111" text-anchor="end"  stroke="#111" stroke-width="0.28">1</text>
<line x1="456.3" y1="401.4" x2="459.8" y2="401.4" stroke="#888" stroke-width="0.8"/>
<text x="455.8" y="404.3" font-size="7.40" font-weight="bold" fill="#111" text-anchor="end"  stroke="#111" stroke-width="0.28">2</text>
<line x1="456.3" y1="369.9" x2="459.8" y2="369.9" stroke="#888" stroke-width="0.8"/>
<text x="455.8" y="372.8" font-size="7.40" font-weight="bold" fill="#111" text-anchor="end"  stroke="#111" stroke-width="0.28">3</text>
<line x1="456.3" y1="338.4" x2="459.8" y2="338.4" stroke="#888" stroke-width="0.8"/>
<text x="455.8" y="341.3" font-size="7.40" font-weight="bold" fill="#111" text-anchor="end"  stroke="#111" stroke-width="0.28">4</text>
<line x1="459.8" y1="465.5" x2="459.8" y2="468" stroke="#888" stroke-width="0.8"/>
<text x="459.8" y="475.2" font-size="7.20" font-weight="bold" fill="#111" text-anchor="middle"  stroke="#111" stroke-width="0.28">0</text>
<line x1="483.8" y1="465.5" x2="483.8" y2="468" stroke="#888" stroke-width="0.8"/>
<text x="483.8" y="475.2" font-size="7.20" font-weight="bold" fill="#111" text-anchor="middle"  stroke="#111" stroke-width="0.28">4</text>
<line x1="508.2" y1="465.5" x2="508.2" y2="468" stroke="#888" stroke-width="0.8"/>
<text x="508.2" y="475.2" font-size="7.20" font-weight="bold" fill="#111" text-anchor="middle"  stroke="#111" stroke-width="0.28">8</text>
<line x1="532.3" y1="465.5" x2="532.3" y2="468" stroke="#888" stroke-width="0.8"/>
<text x="532.3" y="475.2" font-size="7.20" font-weight="bold" fill="#111" text-anchor="middle"  stroke="#111" stroke-width="0.28">12</text>
<text transform="translate(441.6,394.3) rotate(-90)" x="0" y="0" font-size="11" font-weight="bold" fill="#111" text-anchor="middle">R (Å)</text>
<text x="558.9" y="491.9" font-size="11.00" font-weight="bold" fill="#111" text-anchor="start"  stroke="#111" stroke-width="0.28"><tspan font-style="italic">k</tspan> (Å<tspan font-size="6.5" dy="-4">-1</tspan><tspan dy="4">)</tspan></text>
</svg>
</body></html>
